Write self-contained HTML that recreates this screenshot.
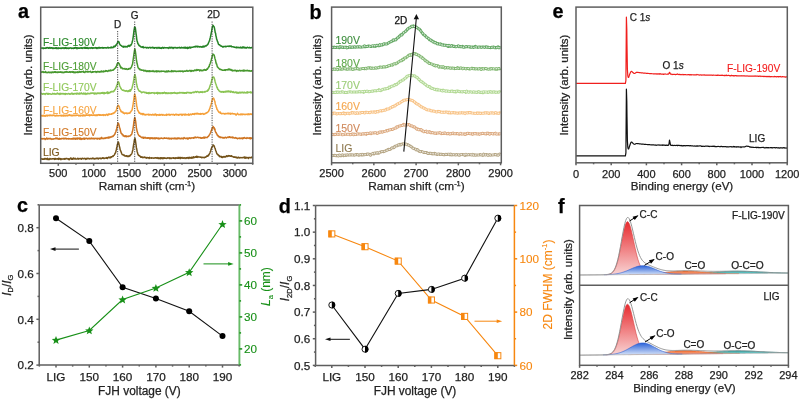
<!DOCTYPE html>
<html><head><meta charset="utf-8"><style>
html,body{margin:0;padding:0;background:#fff;}
svg{display:block;font-family:"Liberation Sans", sans-serif;will-change:transform;}
</style></head><body>
<svg width="800" height="399" viewBox="0 0 800 399">
<rect width="800" height="399" fill="#fff"/>
<g>
<path d="M40.63,48.19 L40.98,48.28 L41.34,48.10 L41.69,47.92 L42.04,48.05 L42.40,47.89 L42.75,48.20 L43.10,48.58 L43.46,48.03 L43.81,47.99 L44.16,48.33 L44.52,48.29 L44.87,48.21 L45.22,47.90 L45.58,48.17 L45.93,48.38 L46.28,47.77 L46.64,48.04 L46.99,47.60 L47.34,47.78 L47.70,47.62 L48.05,48.10 L48.40,47.79 L48.76,48.25 L49.11,48.21 L49.46,48.11 L49.82,47.41 L50.17,48.00 L50.53,48.15 L50.88,48.20 L51.23,47.70 L51.59,48.02 L51.94,47.87 L52.29,47.92 L52.65,48.48 L53.00,47.91 L53.35,48.15 L53.71,48.42 L54.06,47.98 L54.41,48.12 L54.77,48.18 L55.12,48.17 L55.47,47.78 L55.83,48.17 L56.18,48.56 L56.53,47.68 L56.89,48.40 L57.24,48.18 L57.59,47.95 L57.95,48.74 L58.30,48.37 L58.65,47.78 L59.01,48.16 L59.36,48.31 L59.71,48.08 L60.07,48.34 L60.42,48.12 L60.77,48.34 L61.13,48.57 L61.48,47.93 L61.83,48.19 L62.19,47.99 L62.54,48.17 L62.89,47.77 L63.25,47.95 L63.60,48.07 L63.95,48.40 L64.31,48.47 L64.66,47.73 L65.01,47.88 L65.37,48.32 L65.72,47.52 L66.07,47.98 L66.43,48.09 L66.78,48.50 L67.13,48.32 L67.49,48.02 L67.84,48.00 L68.20,48.04 L68.55,48.57 L68.90,47.98 L69.26,48.02 L69.61,48.22 L69.96,48.07 L70.32,48.05 L70.67,47.77 L71.02,48.10 L71.38,47.97 L71.73,48.45 L72.08,48.30 L72.44,48.09 L72.79,48.30 L73.14,48.00 L73.50,48.41 L73.85,48.09 L74.20,48.27 L74.56,47.71 L74.91,48.20 L75.26,47.59 L75.62,47.48 L75.97,48.00 L76.32,47.82 L76.68,48.14 L77.03,48.76 L77.38,47.84 L77.74,47.90 L78.09,48.14 L78.44,48.23 L78.80,48.03 L79.15,48.02 L79.50,48.29 L79.86,48.23 L80.21,47.76 L80.56,48.05 L80.92,48.08 L81.27,47.75 L81.62,48.15 L81.98,47.81 L82.33,48.36 L82.68,48.12 L83.04,48.09 L83.39,47.89 L83.74,48.03 L84.10,47.46 L84.45,47.72 L84.81,48.17 L85.16,47.42 L85.51,48.31 L85.87,47.53 L86.22,48.28 L86.57,47.80 L86.93,48.28 L87.28,48.09 L87.63,47.58 L87.99,48.42 L88.34,48.47 L88.69,48.02 L89.05,47.95 L89.40,47.99 L89.75,47.74 L90.11,48.36 L90.46,47.87 L90.81,48.01 L91.17,47.79 L91.52,47.83 L91.87,47.64 L92.23,48.39 L92.58,47.97 L92.93,48.30 L93.29,48.01 L93.64,47.80 L93.99,47.91 L94.35,47.83 L94.70,48.00 L95.05,47.88 L95.41,47.90 L95.76,47.57 L96.11,47.74 L96.47,48.48 L96.82,47.78 L97.17,47.66 L97.53,48.07 L97.88,48.39 L98.23,47.52 L98.59,47.89 L98.94,47.76 L99.29,47.41 L99.65,48.16 L100.00,47.92 L100.35,47.95 L100.71,47.69 L101.06,48.05 L101.41,47.74 L101.77,47.85 L102.12,47.56 L102.47,47.52 L102.83,48.27 L103.18,47.71 L103.54,47.94 L103.89,47.83 L104.24,47.70 L104.60,47.67 L104.95,48.00 L105.30,47.71 L105.66,47.74 L106.01,47.78 L106.36,48.11 L106.72,47.95 L107.07,47.84 L107.42,47.54 L107.78,47.28 L108.13,47.96 L108.48,47.94 L108.84,47.59 L109.19,47.77 L109.54,47.81 L109.90,47.80 L110.25,47.79 L110.60,47.35 L110.96,47.90 L111.31,47.03 L111.66,47.62 L112.02,47.46 L112.37,47.51 L112.72,47.75 L113.08,47.55 L113.43,46.67 L113.78,46.41 L114.14,47.03 L114.49,46.33 L114.84,46.44 L115.20,46.47 L115.55,45.43 L115.90,44.93 L116.26,45.17 L116.61,44.53 L116.96,43.74 L117.32,43.04 L117.67,42.02 L118.02,41.32 L118.38,41.66 L118.73,41.81 L119.08,42.30 L119.44,43.70 L119.79,44.23 L120.15,44.94 L120.50,44.98 L120.85,45.43 L121.21,45.60 L121.56,45.84 L121.91,46.33 L122.27,46.16 L122.62,46.60 L122.97,46.67 L123.33,47.23 L123.68,46.24 L124.03,46.96 L124.39,46.69 L124.74,46.72 L125.09,46.29 L125.45,46.59 L125.80,46.94 L126.15,46.67 L126.51,46.70 L126.86,46.55 L127.21,46.95 L127.57,46.55 L127.92,45.83 L128.27,46.21 L128.63,45.74 L128.98,45.26 L129.33,45.95 L129.69,46.35 L130.04,45.77 L130.39,45.15 L130.75,44.90 L131.10,45.08 L131.45,44.19 L131.81,43.34 L132.16,42.20 L132.51,40.78 L132.87,39.15 L133.22,36.80 L133.57,34.07 L133.93,30.90 L134.28,28.86 L134.63,26.89 L134.99,27.27 L135.34,27.94 L135.69,30.68 L136.05,33.51 L136.40,35.82 L136.75,39.11 L137.11,41.00 L137.46,41.97 L137.81,43.53 L138.17,44.30 L138.52,44.06 L138.88,45.41 L139.23,45.68 L139.58,46.01 L139.94,45.88 L140.29,46.31 L140.64,46.49 L141.00,47.03 L141.35,46.88 L141.70,46.88 L142.06,47.42 L142.41,46.87 L142.76,46.98 L143.12,46.61 L143.47,47.68 L143.82,47.55 L144.18,47.58 L144.53,47.54 L144.88,47.41 L145.24,47.47 L145.59,47.36 L145.94,47.40 L146.30,47.51 L146.65,47.97 L147.00,47.70 L147.36,47.54 L147.71,47.40 L148.06,47.40 L148.42,48.09 L148.77,47.77 L149.12,47.65 L149.48,47.54 L149.83,47.33 L150.18,47.65 L150.54,47.94 L150.89,47.57 L151.24,47.63 L151.60,47.64 L151.95,47.75 L152.30,47.24 L152.66,47.66 L153.01,47.48 L153.36,48.01 L153.72,47.52 L154.07,47.93 L154.42,48.21 L154.78,47.67 L155.13,47.59 L155.49,47.83 L155.84,47.77 L156.19,47.48 L156.55,47.92 L156.90,48.39 L157.25,47.71 L157.61,47.73 L157.96,47.48 L158.31,47.89 L158.67,47.42 L159.02,47.46 L159.37,48.18 L159.73,47.53 L160.08,48.12 L160.43,48.26 L160.79,47.88 L161.14,47.97 L161.49,48.39 L161.85,47.75 L162.20,47.63 L162.55,47.40 L162.91,47.82 L163.26,48.25 L163.61,48.09 L163.97,47.52 L164.32,47.55 L164.67,47.66 L165.03,47.89 L165.38,47.74 L165.73,47.87 L166.09,47.89 L166.44,47.72 L166.79,47.79 L167.15,47.87 L167.50,47.78 L167.85,47.95 L168.21,48.36 L168.56,47.98 L168.91,47.82 L169.27,47.29 L169.62,47.92 L169.97,47.21 L170.33,47.37 L170.68,48.05 L171.03,48.01 L171.39,47.75 L171.74,47.28 L172.09,47.68 L172.45,47.59 L172.80,47.98 L173.16,48.47 L173.51,47.85 L173.86,47.55 L174.22,47.43 L174.57,47.77 L174.92,47.73 L175.28,47.43 L175.63,47.81 L175.98,47.43 L176.34,48.11 L176.69,48.09 L177.04,48.10 L177.40,47.63 L177.75,47.92 L178.10,47.72 L178.46,47.64 L178.81,47.66 L179.16,47.37 L179.52,47.32 L179.87,47.99 L180.22,47.69 L180.58,47.81 L180.93,48.05 L181.28,47.22 L181.64,47.50 L181.99,47.79 L182.34,47.85 L182.70,47.62 L183.05,48.04 L183.40,47.79 L183.76,47.36 L184.11,47.44 L184.46,47.96 L184.82,47.85 L185.17,47.14 L185.52,48.11 L185.88,47.88 L186.23,48.10 L186.58,47.57 L186.94,47.59 L187.29,47.34 L187.64,48.43 L188.00,47.61 L188.35,48.13 L188.70,47.46 L189.06,47.69 L189.41,47.13 L189.76,47.50 L190.12,47.89 L190.47,47.20 L190.82,47.87 L191.18,47.62 L191.53,47.16 L191.89,47.28 L192.24,47.24 L192.59,47.31 L192.95,47.09 L193.30,46.93 L193.65,47.01 L194.01,46.72 L194.36,46.55 L194.71,46.85 L195.07,47.05 L195.42,46.25 L195.77,46.65 L196.13,46.40 L196.48,46.27 L196.83,46.79 L197.19,46.37 L197.54,46.98 L197.89,46.32 L198.25,46.69 L198.60,46.55 L198.95,46.43 L199.31,46.88 L199.66,46.70 L200.01,46.97 L200.37,46.81 L200.72,46.53 L201.07,46.84 L201.43,46.90 L201.78,47.17 L202.13,46.60 L202.49,46.84 L202.84,46.31 L203.19,46.98 L203.55,46.41 L203.90,46.12 L204.25,46.57 L204.61,46.83 L204.96,45.94 L205.31,45.95 L205.67,45.91 L206.02,45.62 L206.37,45.87 L206.73,45.27 L207.08,44.99 L207.43,45.01 L207.79,44.16 L208.14,43.97 L208.50,42.88 L208.85,42.02 L209.20,40.89 L209.56,40.89 L209.91,38.97 L210.26,37.71 L210.62,36.04 L210.97,34.38 L211.32,32.55 L211.68,31.30 L212.03,28.70 L212.38,27.04 L212.74,26.06 L213.09,25.31 L213.44,25.88 L213.80,26.43 L214.15,26.95 L214.50,28.26 L214.86,30.26 L215.21,32.58 L215.56,33.12 L215.92,35.86 L216.27,36.99 L216.62,39.09 L216.98,39.76 L217.33,41.13 L217.68,41.73 L218.04,42.71 L218.39,44.11 L218.74,44.51 L219.10,44.61 L219.45,44.85 L219.80,44.85 L220.16,45.56 L220.51,45.87 L220.86,46.03 L221.22,46.17 L221.57,45.98 L221.92,46.39 L222.28,46.48 L222.63,46.95 L222.98,47.17 L223.34,46.61 L223.69,46.44 L224.04,46.67 L224.40,46.51 L224.75,46.46 L225.10,46.65 L225.46,46.33 L225.81,46.79 L226.17,46.54 L226.52,46.61 L226.87,46.43 L227.23,46.23 L227.58,46.13 L227.93,46.31 L228.29,46.19 L228.64,46.41 L228.99,46.34 L229.35,45.94 L229.70,46.39 L230.05,46.00 L230.41,46.27 L230.76,46.42 L231.11,45.95 L231.47,46.68 L231.82,46.77 L232.17,46.76 L232.53,46.76 L232.88,46.86 L233.23,46.75 L233.59,47.04 L233.94,47.02 L234.29,47.27 L234.65,46.94 L235.00,47.42 L235.35,47.43 L235.71,47.38 L236.06,47.32 L236.41,47.64 L236.77,47.00 L237.12,47.65 L237.47,47.60 L237.83,47.62 L238.18,47.66 L238.53,47.36 L238.89,47.48 L239.24,47.76 L239.59,47.70 L239.95,47.64 L240.30,47.12 L240.65,47.74 L241.01,47.94 L241.36,47.89 L241.71,47.66 L242.07,47.13 L242.42,47.88 L242.77,47.55 L243.13,46.84 L243.48,47.71 L243.84,47.16 L244.19,47.22 L244.54,47.42 L244.90,47.99 L245.25,47.50 L245.60,47.69 L245.96,48.14 L246.31,48.09 L246.66,47.58 L247.02,47.54 L247.37,47.24 L247.72,47.41 L248.08,47.75 L248.43,47.74 L248.78,47.65 L249.14,47.92 L249.49,47.39 L249.84,47.61 L250.20,47.84 L250.55,47.80 L250.90,47.95 L251.26,47.74 L251.61,47.53 L251.96,47.74 L252.32,47.33 L252.67,47.14" fill="none" stroke="#258325" stroke-width="1.5" stroke-linejoin="round"/>
<path d="M40.63,72.46 L40.98,72.27 L41.34,72.37 L41.69,71.77 L42.04,72.17 L42.40,72.09 L42.75,72.01 L43.10,71.59 L43.46,72.17 L43.81,72.53 L44.16,72.37 L44.52,72.08 L44.87,72.25 L45.22,72.48 L45.58,71.42 L45.93,72.21 L46.28,72.41 L46.64,72.45 L46.99,72.75 L47.34,72.58 L47.70,72.33 L48.05,72.32 L48.40,72.47 L48.76,72.06 L49.11,72.21 L49.46,72.49 L49.82,72.81 L50.17,72.17 L50.53,72.20 L50.88,72.27 L51.23,72.61 L51.59,72.20 L51.94,72.64 L52.29,71.91 L52.65,72.14 L53.00,72.14 L53.35,72.43 L53.71,72.50 L54.06,71.73 L54.41,71.91 L54.77,72.28 L55.12,71.98 L55.47,71.72 L55.83,72.48 L56.18,72.32 L56.53,72.32 L56.89,72.02 L57.24,72.47 L57.59,72.09 L57.95,72.49 L58.30,71.88 L58.65,71.90 L59.01,72.21 L59.36,71.94 L59.71,72.35 L60.07,72.22 L60.42,71.86 L60.77,72.16 L61.13,72.03 L61.48,72.40 L61.83,71.94 L62.19,71.99 L62.54,72.49 L62.89,72.79 L63.25,72.72 L63.60,72.13 L63.95,72.18 L64.31,72.57 L64.66,72.07 L65.01,71.81 L65.37,72.13 L65.72,72.23 L66.07,71.85 L66.43,71.60 L66.78,71.66 L67.13,72.29 L67.49,71.86 L67.84,72.04 L68.20,72.14 L68.55,72.26 L68.90,71.97 L69.26,72.22 L69.61,71.80 L69.96,71.95 L70.32,71.75 L70.67,72.40 L71.02,72.05 L71.38,71.83 L71.73,71.94 L72.08,71.98 L72.44,72.25 L72.79,71.56 L73.14,71.73 L73.50,71.92 L73.85,72.79 L74.20,72.31 L74.56,71.99 L74.91,72.24 L75.26,72.64 L75.62,71.95 L75.97,71.90 L76.32,72.37 L76.68,72.16 L77.03,72.21 L77.38,71.85 L77.74,72.58 L78.09,72.51 L78.44,72.16 L78.80,72.19 L79.15,71.38 L79.50,72.17 L79.86,71.92 L80.21,72.11 L80.56,72.18 L80.92,71.87 L81.27,71.46 L81.62,72.07 L81.98,71.74 L82.33,71.86 L82.68,71.77 L83.04,71.85 L83.39,71.25 L83.74,72.31 L84.10,72.01 L84.45,72.27 L84.81,72.53 L85.16,71.93 L85.51,71.38 L85.87,71.65 L86.22,71.55 L86.57,71.76 L86.93,71.93 L87.28,71.30 L87.63,72.00 L87.99,71.44 L88.34,71.98 L88.69,71.85 L89.05,71.79 L89.40,71.86 L89.75,71.71 L90.11,71.68 L90.46,71.36 L90.81,71.85 L91.17,72.41 L91.52,72.44 L91.87,72.24 L92.23,72.05 L92.58,71.63 L92.93,72.26 L93.29,71.80 L93.64,71.79 L93.99,71.72 L94.35,71.82 L94.70,71.66 L95.05,71.76 L95.41,71.45 L95.76,71.65 L96.11,72.44 L96.47,71.73 L96.82,71.67 L97.17,71.89 L97.53,71.93 L97.88,71.37 L98.23,71.63 L98.59,71.96 L98.94,71.75 L99.29,71.69 L99.65,72.11 L100.00,71.43 L100.35,71.64 L100.71,71.44 L101.06,72.03 L101.41,70.98 L101.77,71.35 L102.12,71.37 L102.47,71.71 L102.83,71.67 L103.18,71.89 L103.54,70.97 L103.89,71.65 L104.24,71.31 L104.60,71.17 L104.95,71.50 L105.30,71.04 L105.66,70.66 L106.01,71.14 L106.36,70.77 L106.72,70.98 L107.07,71.25 L107.42,71.19 L107.78,71.53 L108.13,70.95 L108.48,70.50 L108.84,70.69 L109.19,70.58 L109.54,70.43 L109.90,70.87 L110.25,70.47 L110.60,70.00 L110.96,70.72 L111.31,70.39 L111.66,70.43 L112.02,70.25 L112.37,70.28 L112.72,69.97 L113.08,70.17 L113.43,69.75 L113.78,69.53 L114.14,69.30 L114.49,68.46 L114.84,68.51 L115.20,68.09 L115.55,67.76 L115.90,66.73 L116.26,66.97 L116.61,65.76 L116.96,64.55 L117.32,63.58 L117.67,63.31 L118.02,62.93 L118.38,62.67 L118.73,63.22 L119.08,63.59 L119.44,64.69 L119.79,65.06 L120.15,65.97 L120.50,66.89 L120.85,67.88 L121.21,67.23 L121.56,67.74 L121.91,67.91 L122.27,68.63 L122.62,68.23 L122.97,68.58 L123.33,68.84 L123.68,68.65 L124.03,68.73 L124.39,68.94 L124.74,68.50 L125.09,68.73 L125.45,69.06 L125.80,69.25 L126.15,69.15 L126.51,68.67 L126.86,69.05 L127.21,69.41 L127.57,69.30 L127.92,69.07 L128.27,68.77 L128.63,69.15 L128.98,68.70 L129.33,68.41 L129.69,68.38 L130.04,68.88 L130.39,68.27 L130.75,68.24 L131.10,67.32 L131.45,67.16 L131.81,65.89 L132.16,64.93 L132.51,64.28 L132.87,61.91 L133.22,59.26 L133.57,56.75 L133.93,54.09 L134.28,51.85 L134.63,49.74 L134.99,49.23 L135.34,51.06 L135.69,53.59 L136.05,56.44 L136.40,59.54 L136.75,61.65 L137.11,63.79 L137.46,64.79 L137.81,66.60 L138.17,67.88 L138.52,68.16 L138.88,68.51 L139.23,68.86 L139.58,69.66 L139.94,69.08 L140.29,69.53 L140.64,69.87 L141.00,70.10 L141.35,69.87 L141.70,70.20 L142.06,70.12 L142.41,70.33 L142.76,70.34 L143.12,70.11 L143.47,70.51 L143.82,70.84 L144.18,70.34 L144.53,70.61 L144.88,70.93 L145.24,70.45 L145.59,70.86 L145.94,70.53 L146.30,71.22 L146.65,71.61 L147.00,71.55 L147.36,70.91 L147.71,71.22 L148.06,71.06 L148.42,71.08 L148.77,71.53 L149.12,70.69 L149.48,71.42 L149.83,71.11 L150.18,71.56 L150.54,71.21 L150.89,70.97 L151.24,71.27 L151.60,71.42 L151.95,71.22 L152.30,71.37 L152.66,71.07 L153.01,70.60 L153.36,71.52 L153.72,71.47 L154.07,71.31 L154.42,71.29 L154.78,71.59 L155.13,71.15 L155.49,71.08 L155.84,71.24 L156.19,71.65 L156.55,70.89 L156.90,71.66 L157.25,71.12 L157.61,70.98 L157.96,71.69 L158.31,71.29 L158.67,70.93 L159.02,71.21 L159.37,71.60 L159.73,71.68 L160.08,71.20 L160.43,71.45 L160.79,71.54 L161.14,71.13 L161.49,71.43 L161.85,71.32 L162.20,71.16 L162.55,71.18 L162.91,71.34 L163.26,71.33 L163.61,71.15 L163.97,71.19 L164.32,71.66 L164.67,71.38 L165.03,71.58 L165.38,71.68 L165.73,71.49 L166.09,72.00 L166.44,71.07 L166.79,71.55 L167.15,71.21 L167.50,71.86 L167.85,71.82 L168.21,70.72 L168.56,71.01 L168.91,71.50 L169.27,71.54 L169.62,71.52 L169.97,71.27 L170.33,71.43 L170.68,71.49 L171.03,71.26 L171.39,71.59 L171.74,70.60 L172.09,71.47 L172.45,70.97 L172.80,71.56 L173.16,71.20 L173.51,71.00 L173.86,71.38 L174.22,70.99 L174.57,70.99 L174.92,70.79 L175.28,71.25 L175.63,71.40 L175.98,71.56 L176.34,71.20 L176.69,71.56 L177.04,71.25 L177.40,71.21 L177.75,71.41 L178.10,71.55 L178.46,71.12 L178.81,71.15 L179.16,71.17 L179.52,71.24 L179.87,70.94 L180.22,71.52 L180.58,71.09 L180.93,71.34 L181.28,70.95 L181.64,71.30 L181.99,71.31 L182.34,71.06 L182.70,71.79 L183.05,71.29 L183.40,71.71 L183.76,71.46 L184.11,70.97 L184.46,71.05 L184.82,71.29 L185.17,71.17 L185.52,71.16 L185.88,71.06 L186.23,70.59 L186.58,71.06 L186.94,70.46 L187.29,71.23 L187.64,70.90 L188.00,70.89 L188.35,71.03 L188.70,71.17 L189.06,70.65 L189.41,70.54 L189.76,70.73 L190.12,70.42 L190.47,70.72 L190.82,71.46 L191.18,70.64 L191.53,71.11 L191.89,70.46 L192.24,70.91 L192.59,70.66 L192.95,70.68 L193.30,70.79 L193.65,71.07 L194.01,70.52 L194.36,70.42 L194.71,70.01 L195.07,70.40 L195.42,70.08 L195.77,70.35 L196.13,70.03 L196.48,70.53 L196.83,69.40 L197.19,69.89 L197.54,70.25 L197.89,69.91 L198.25,69.80 L198.60,70.00 L198.95,69.71 L199.31,70.21 L199.66,70.96 L200.01,70.62 L200.37,69.98 L200.72,70.09 L201.07,70.26 L201.43,70.70 L201.78,70.16 L202.13,70.20 L202.49,70.66 L202.84,70.64 L203.19,70.24 L203.55,69.98 L203.90,69.80 L204.25,70.00 L204.61,69.47 L204.96,70.29 L205.31,69.78 L205.67,70.00 L206.02,70.29 L206.37,69.92 L206.73,69.04 L207.08,69.41 L207.43,69.22 L207.79,68.31 L208.14,67.83 L208.50,67.58 L208.85,66.53 L209.20,66.73 L209.56,64.74 L209.91,64.16 L210.26,63.33 L210.62,62.14 L210.97,60.96 L211.32,59.64 L211.68,58.12 L212.03,57.22 L212.38,55.10 L212.74,54.88 L213.09,54.17 L213.44,54.38 L213.80,54.81 L214.15,55.26 L214.50,56.43 L214.86,58.13 L215.21,59.36 L215.56,60.41 L215.92,62.54 L216.27,63.83 L216.62,63.81 L216.98,65.32 L217.33,66.83 L217.68,67.05 L218.04,67.50 L218.39,67.89 L218.74,68.21 L219.10,68.66 L219.45,68.85 L219.80,69.47 L220.16,69.32 L220.51,69.46 L220.86,69.36 L221.22,69.81 L221.57,69.64 L221.92,69.92 L222.28,70.34 L222.63,70.18 L222.98,70.25 L223.34,70.23 L223.69,70.15 L224.04,70.09 L224.40,70.03 L224.75,70.33 L225.10,69.75 L225.46,70.44 L225.81,70.00 L226.17,69.72 L226.52,69.75 L226.87,69.64 L227.23,69.84 L227.58,69.53 L227.93,70.05 L228.29,69.44 L228.64,68.98 L228.99,69.43 L229.35,69.05 L229.70,69.66 L230.05,70.02 L230.41,69.94 L230.76,69.39 L231.11,69.63 L231.47,70.46 L231.82,70.09 L232.17,70.08 L232.53,70.47 L232.88,70.96 L233.23,70.69 L233.59,70.41 L233.94,70.54 L234.29,70.67 L234.65,70.35 L235.00,70.26 L235.35,70.63 L235.71,70.37 L236.06,70.66 L236.41,70.73 L236.77,71.42 L237.12,70.47 L237.47,70.70 L237.83,70.70 L238.18,70.89 L238.53,71.07 L238.89,70.62 L239.24,70.52 L239.59,70.28 L239.95,70.49 L240.30,70.93 L240.65,70.79 L241.01,70.47 L241.36,70.66 L241.71,70.78 L242.07,70.92 L242.42,70.59 L242.77,70.70 L243.13,70.23 L243.48,70.43 L243.84,71.26 L244.19,70.11 L244.54,70.67 L244.90,70.84 L245.25,70.66 L245.60,70.53 L245.96,70.75 L246.31,70.76 L246.66,70.74 L247.02,70.20 L247.37,70.72 L247.72,70.51 L248.08,70.60 L248.43,70.83 L248.78,70.95 L249.14,71.03 L249.49,70.61 L249.84,71.03 L250.20,71.11 L250.55,71.09 L250.90,71.17 L251.26,70.71 L251.61,70.70 L251.96,70.99 L252.32,70.33 L252.67,70.81" fill="none" stroke="#48982f" stroke-width="1.5" stroke-linejoin="round"/>
<path d="M40.63,93.73 L40.98,93.77 L41.34,93.36 L41.69,93.61 L42.04,93.87 L42.40,94.14 L42.75,94.17 L43.10,93.85 L43.46,93.81 L43.81,93.62 L44.16,93.98 L44.52,93.79 L44.87,94.04 L45.22,94.38 L45.58,93.84 L45.93,93.40 L46.28,93.59 L46.64,93.41 L46.99,93.49 L47.34,94.23 L47.70,93.91 L48.05,93.38 L48.40,94.03 L48.76,94.21 L49.11,93.72 L49.46,93.63 L49.82,93.73 L50.17,93.91 L50.53,94.01 L50.88,94.17 L51.23,94.18 L51.59,94.17 L51.94,94.22 L52.29,94.01 L52.65,93.35 L53.00,93.77 L53.35,93.90 L53.71,93.69 L54.06,94.07 L54.41,93.69 L54.77,93.52 L55.12,94.23 L55.47,93.99 L55.83,93.85 L56.18,94.06 L56.53,94.10 L56.89,93.88 L57.24,93.04 L57.59,93.57 L57.95,93.64 L58.30,93.48 L58.65,93.83 L59.01,94.12 L59.36,93.62 L59.71,93.42 L60.07,94.37 L60.42,93.62 L60.77,93.38 L61.13,93.82 L61.48,93.88 L61.83,93.53 L62.19,93.98 L62.54,93.60 L62.89,93.46 L63.25,93.79 L63.60,93.97 L63.95,93.54 L64.31,93.83 L64.66,93.70 L65.01,94.57 L65.37,93.51 L65.72,94.13 L66.07,93.70 L66.43,93.68 L66.78,93.93 L67.13,93.98 L67.49,94.09 L67.84,93.80 L68.20,93.52 L68.55,93.54 L68.90,93.85 L69.26,93.87 L69.61,94.11 L69.96,93.82 L70.32,94.01 L70.67,94.14 L71.02,93.73 L71.38,93.23 L71.73,93.32 L72.08,93.24 L72.44,94.15 L72.79,93.41 L73.14,94.04 L73.50,93.84 L73.85,94.18 L74.20,93.96 L74.56,93.62 L74.91,93.59 L75.26,93.68 L75.62,93.70 L75.97,93.49 L76.32,93.63 L76.68,94.12 L77.03,93.13 L77.38,93.71 L77.74,93.36 L78.09,93.68 L78.44,93.88 L78.80,93.61 L79.15,93.85 L79.50,93.14 L79.86,93.95 L80.21,93.43 L80.56,93.79 L80.92,93.66 L81.27,92.83 L81.62,93.37 L81.98,93.66 L82.33,94.06 L82.68,93.68 L83.04,93.66 L83.39,93.16 L83.74,94.01 L84.10,94.12 L84.45,93.58 L84.81,93.50 L85.16,93.08 L85.51,93.83 L85.87,94.37 L86.22,93.77 L86.57,93.93 L86.93,93.71 L87.28,93.25 L87.63,93.94 L87.99,93.17 L88.34,93.47 L88.69,93.61 L89.05,93.79 L89.40,93.65 L89.75,93.63 L90.11,93.28 L90.46,93.12 L90.81,93.52 L91.17,93.28 L91.52,93.10 L91.87,93.11 L92.23,93.33 L92.58,92.92 L92.93,93.07 L93.29,92.97 L93.64,93.51 L93.99,93.57 L94.35,94.05 L94.70,92.99 L95.05,93.23 L95.41,93.70 L95.76,93.35 L96.11,93.31 L96.47,93.91 L96.82,93.29 L97.17,93.03 L97.53,92.97 L97.88,93.46 L98.23,93.44 L98.59,92.93 L98.94,93.03 L99.29,93.47 L99.65,93.47 L100.00,93.09 L100.35,93.46 L100.71,93.43 L101.06,92.71 L101.41,93.13 L101.77,93.33 L102.12,93.02 L102.47,92.53 L102.83,93.07 L103.18,93.36 L103.54,93.58 L103.89,92.43 L104.24,93.84 L104.60,92.70 L104.95,93.29 L105.30,93.35 L105.66,93.24 L106.01,92.96 L106.36,92.53 L106.72,93.03 L107.07,92.59 L107.42,92.01 L107.78,93.57 L108.13,92.89 L108.48,93.18 L108.84,92.30 L109.19,92.96 L109.54,92.93 L109.90,92.86 L110.25,92.31 L110.60,91.88 L110.96,92.10 L111.31,91.39 L111.66,91.43 L112.02,91.85 L112.37,91.39 L112.72,91.48 L113.08,91.32 L113.43,91.72 L113.78,91.29 L114.14,90.60 L114.49,90.64 L114.84,89.63 L115.20,89.27 L115.55,89.05 L115.90,87.68 L116.26,87.10 L116.61,85.76 L116.96,85.06 L117.32,84.34 L117.67,82.61 L118.02,82.25 L118.38,81.83 L118.73,82.24 L119.08,83.13 L119.44,85.03 L119.79,86.40 L120.15,86.83 L120.50,87.32 L120.85,88.44 L121.21,88.70 L121.56,89.49 L121.91,89.71 L122.27,90.01 L122.62,90.35 L122.97,90.19 L123.33,90.40 L123.68,90.14 L124.03,90.63 L124.39,90.42 L124.74,90.87 L125.09,90.68 L125.45,91.04 L125.80,91.18 L126.15,90.64 L126.51,90.83 L126.86,90.80 L127.21,91.30 L127.57,91.57 L127.92,91.28 L128.27,90.88 L128.63,91.38 L128.98,90.41 L129.33,91.23 L129.69,90.47 L130.04,89.68 L130.39,91.12 L130.75,90.54 L131.10,89.40 L131.45,89.26 L131.81,88.47 L132.16,87.64 L132.51,85.94 L132.87,84.62 L133.22,83.04 L133.57,80.74 L133.93,78.68 L134.28,76.22 L134.63,75.54 L134.99,74.51 L135.34,75.99 L135.69,77.41 L136.05,80.00 L136.40,83.10 L136.75,84.46 L137.11,86.59 L137.46,87.75 L137.81,88.48 L138.17,89.46 L138.52,89.99 L138.88,90.43 L139.23,91.13 L139.58,91.35 L139.94,91.19 L140.29,91.26 L140.64,91.76 L141.00,91.77 L141.35,92.21 L141.70,92.80 L142.06,92.34 L142.41,92.15 L142.76,92.18 L143.12,92.03 L143.47,92.08 L143.82,92.10 L144.18,92.33 L144.53,92.36 L144.88,92.75 L145.24,92.45 L145.59,92.54 L145.94,92.27 L146.30,93.16 L146.65,92.84 L147.00,93.25 L147.36,92.98 L147.71,93.21 L148.06,92.71 L148.42,93.02 L148.77,93.64 L149.12,92.47 L149.48,93.21 L149.83,93.38 L150.18,93.01 L150.54,93.13 L150.89,93.30 L151.24,92.72 L151.60,93.06 L151.95,92.68 L152.30,92.75 L152.66,92.78 L153.01,92.93 L153.36,93.03 L153.72,93.13 L154.07,92.56 L154.42,93.61 L154.78,93.36 L155.13,93.23 L155.49,92.91 L155.84,92.99 L156.19,93.19 L156.55,93.15 L156.90,92.51 L157.25,93.26 L157.61,93.93 L157.96,92.47 L158.31,93.35 L158.67,93.16 L159.02,93.01 L159.37,93.47 L159.73,92.68 L160.08,93.10 L160.43,93.50 L160.79,92.99 L161.14,92.92 L161.49,93.08 L161.85,92.91 L162.20,93.52 L162.55,92.77 L162.91,93.32 L163.26,92.66 L163.61,93.25 L163.97,93.01 L164.32,92.25 L164.67,93.04 L165.03,92.71 L165.38,92.90 L165.73,93.52 L166.09,92.69 L166.44,92.71 L166.79,93.48 L167.15,93.07 L167.50,93.51 L167.85,93.13 L168.21,92.76 L168.56,93.01 L168.91,93.41 L169.27,93.32 L169.62,93.02 L169.97,93.04 L170.33,92.98 L170.68,92.84 L171.03,93.61 L171.39,93.02 L171.74,92.66 L172.09,92.86 L172.45,93.23 L172.80,93.20 L173.16,92.96 L173.51,92.79 L173.86,93.00 L174.22,92.48 L174.57,92.59 L174.92,93.24 L175.28,92.84 L175.63,93.10 L175.98,93.36 L176.34,93.18 L176.69,92.98 L177.04,93.63 L177.40,93.18 L177.75,92.86 L178.10,93.19 L178.46,93.09 L178.81,92.70 L179.16,92.98 L179.52,92.90 L179.87,92.34 L180.22,92.89 L180.58,92.86 L180.93,92.81 L181.28,92.43 L181.64,92.82 L181.99,92.92 L182.34,92.96 L182.70,92.57 L183.05,93.11 L183.40,92.54 L183.76,92.84 L184.11,93.31 L184.46,92.69 L184.82,92.74 L185.17,93.23 L185.52,92.77 L185.88,92.80 L186.23,92.95 L186.58,93.20 L186.94,92.19 L187.29,92.61 L187.64,92.55 L188.00,92.52 L188.35,92.58 L188.70,92.58 L189.06,92.92 L189.41,92.54 L189.76,92.84 L190.12,92.91 L190.47,92.54 L190.82,92.78 L191.18,93.21 L191.53,92.77 L191.89,92.43 L192.24,92.55 L192.59,92.23 L192.95,92.53 L193.30,92.64 L193.65,92.05 L194.01,92.16 L194.36,92.48 L194.71,91.91 L195.07,92.05 L195.42,91.61 L195.77,91.61 L196.13,91.65 L196.48,92.43 L196.83,91.63 L197.19,91.59 L197.54,91.59 L197.89,91.73 L198.25,92.01 L198.60,91.91 L198.95,92.52 L199.31,92.01 L199.66,92.44 L200.01,92.13 L200.37,92.27 L200.72,91.70 L201.07,92.12 L201.43,92.16 L201.78,92.12 L202.13,91.55 L202.49,92.45 L202.84,92.06 L203.19,92.02 L203.55,92.04 L203.90,92.00 L204.25,92.14 L204.61,91.57 L204.96,91.60 L205.31,91.88 L205.67,91.74 L206.02,91.46 L206.37,91.25 L206.73,91.00 L207.08,91.01 L207.43,91.12 L207.79,90.13 L208.14,90.51 L208.50,89.84 L208.85,88.88 L209.20,88.58 L209.56,87.13 L209.91,86.14 L210.26,85.26 L210.62,84.40 L210.97,83.21 L211.32,81.87 L211.68,80.78 L212.03,78.88 L212.38,78.60 L212.74,77.22 L213.09,76.98 L213.44,77.01 L213.80,77.17 L214.15,77.85 L214.50,78.98 L214.86,80.47 L215.21,81.93 L215.56,83.20 L215.92,83.95 L216.27,85.16 L216.62,86.15 L216.98,87.49 L217.33,87.54 L217.68,89.21 L218.04,89.28 L218.39,89.67 L218.74,90.41 L219.10,90.95 L219.45,91.01 L219.80,91.44 L220.16,91.34 L220.51,91.82 L220.86,91.94 L221.22,91.63 L221.57,92.17 L221.92,91.86 L222.28,91.88 L222.63,91.62 L222.98,91.84 L223.34,92.17 L223.69,91.55 L224.04,92.14 L224.40,92.04 L224.75,91.99 L225.10,91.22 L225.46,91.81 L225.81,91.99 L226.17,91.52 L226.52,91.72 L226.87,90.93 L227.23,91.80 L227.58,91.35 L227.93,91.77 L228.29,90.93 L228.64,91.66 L228.99,91.38 L229.35,91.69 L229.70,91.19 L230.05,91.31 L230.41,92.21 L230.76,91.34 L231.11,91.44 L231.47,91.64 L231.82,91.49 L232.17,92.23 L232.53,92.46 L232.88,91.81 L233.23,91.58 L233.59,92.51 L233.94,92.56 L234.29,92.53 L234.65,92.68 L235.00,92.11 L235.35,92.36 L235.71,92.03 L236.06,92.04 L236.41,92.79 L236.77,92.31 L237.12,93.21 L237.47,92.56 L237.83,92.35 L238.18,92.79 L238.53,93.09 L238.89,92.70 L239.24,92.20 L239.59,92.67 L239.95,92.98 L240.30,92.42 L240.65,92.33 L241.01,92.87 L241.36,92.61 L241.71,92.24 L242.07,92.45 L242.42,92.34 L242.77,92.66 L243.13,92.60 L243.48,92.91 L243.84,92.78 L244.19,92.10 L244.54,92.69 L244.90,92.84 L245.25,92.70 L245.60,92.88 L245.96,92.40 L246.31,92.28 L246.66,92.84 L247.02,92.24 L247.37,91.91 L247.72,92.87 L248.08,92.34 L248.43,92.47 L248.78,92.14 L249.14,92.16 L249.49,92.21 L249.84,92.45 L250.20,92.67 L250.55,91.86 L250.90,92.78 L251.26,92.20 L251.61,92.23 L251.96,92.75 L252.32,92.53 L252.67,92.09" fill="none" stroke="#8bc454" stroke-width="1.5" stroke-linejoin="round"/>
<path d="M40.63,116.14 L40.98,115.33 L41.34,115.66 L41.69,115.64 L42.04,116.00 L42.40,115.44 L42.75,115.88 L43.10,115.35 L43.46,115.91 L43.81,115.34 L44.16,115.46 L44.52,116.13 L44.87,115.66 L45.22,115.59 L45.58,116.23 L45.93,115.66 L46.28,115.31 L46.64,115.77 L46.99,115.19 L47.34,115.89 L47.70,115.91 L48.05,115.37 L48.40,115.35 L48.76,115.59 L49.11,115.54 L49.46,115.24 L49.82,115.70 L50.17,114.92 L50.53,115.40 L50.88,115.40 L51.23,115.44 L51.59,115.61 L51.94,115.15 L52.29,115.69 L52.65,115.46 L53.00,115.32 L53.35,115.10 L53.71,115.15 L54.06,115.61 L54.41,115.21 L54.77,115.52 L55.12,115.82 L55.47,115.81 L55.83,115.96 L56.18,115.40 L56.53,115.17 L56.89,115.80 L57.24,115.58 L57.59,115.82 L57.95,115.49 L58.30,115.84 L58.65,115.73 L59.01,115.69 L59.36,115.62 L59.71,115.59 L60.07,115.54 L60.42,115.53 L60.77,115.76 L61.13,115.31 L61.48,115.98 L61.83,115.43 L62.19,115.75 L62.54,115.43 L62.89,115.38 L63.25,116.06 L63.60,115.35 L63.95,115.06 L64.31,115.23 L64.66,115.35 L65.01,116.08 L65.37,115.50 L65.72,115.71 L66.07,115.13 L66.43,115.53 L66.78,115.63 L67.13,115.96 L67.49,115.21 L67.84,115.60 L68.20,115.51 L68.55,115.11 L68.90,115.41 L69.26,115.33 L69.61,114.71 L69.96,115.59 L70.32,115.57 L70.67,115.27 L71.02,115.00 L71.38,115.84 L71.73,115.47 L72.08,115.70 L72.44,115.81 L72.79,115.23 L73.14,115.63 L73.50,115.31 L73.85,115.36 L74.20,115.35 L74.56,115.37 L74.91,115.71 L75.26,115.41 L75.62,115.32 L75.97,115.28 L76.32,115.46 L76.68,115.09 L77.03,115.21 L77.38,115.34 L77.74,115.18 L78.09,115.31 L78.44,115.16 L78.80,115.95 L79.15,115.74 L79.50,115.47 L79.86,115.32 L80.21,115.99 L80.56,115.43 L80.92,115.30 L81.27,115.42 L81.62,115.41 L81.98,115.74 L82.33,115.31 L82.68,115.94 L83.04,115.05 L83.39,115.52 L83.74,115.01 L84.10,115.85 L84.45,115.20 L84.81,115.28 L85.16,115.57 L85.51,115.67 L85.87,114.95 L86.22,115.18 L86.57,114.86 L86.93,115.32 L87.28,115.24 L87.63,115.17 L87.99,115.06 L88.34,115.15 L88.69,115.04 L89.05,115.42 L89.40,115.71 L89.75,114.67 L90.11,115.21 L90.46,115.12 L90.81,115.39 L91.17,114.95 L91.52,115.18 L91.87,114.91 L92.23,115.43 L92.58,115.24 L92.93,115.16 L93.29,115.32 L93.64,115.13 L93.99,114.73 L94.35,115.37 L94.70,115.27 L95.05,115.13 L95.41,115.47 L95.76,115.53 L96.11,114.83 L96.47,114.92 L96.82,115.61 L97.17,115.56 L97.53,114.91 L97.88,114.77 L98.23,114.92 L98.59,114.95 L98.94,114.62 L99.29,115.09 L99.65,114.69 L100.00,114.70 L100.35,115.33 L100.71,114.84 L101.06,115.01 L101.41,115.21 L101.77,115.25 L102.12,114.89 L102.47,114.99 L102.83,114.71 L103.18,115.47 L103.54,115.12 L103.89,114.58 L104.24,114.89 L104.60,115.08 L104.95,114.99 L105.30,115.38 L105.66,115.22 L106.01,114.62 L106.36,114.73 L106.72,114.34 L107.07,114.77 L107.42,114.71 L107.78,115.44 L108.13,114.63 L108.48,113.93 L108.84,114.32 L109.19,114.51 L109.54,114.05 L109.90,114.11 L110.25,114.21 L110.60,114.35 L110.96,114.13 L111.31,113.84 L111.66,114.25 L112.02,113.76 L112.37,113.66 L112.72,113.27 L113.08,113.30 L113.43,113.56 L113.78,112.68 L114.14,112.91 L114.49,112.86 L114.84,112.19 L115.20,111.96 L115.55,111.04 L115.90,111.14 L116.26,110.31 L116.61,109.13 L116.96,107.48 L117.32,106.59 L117.67,106.21 L118.02,105.80 L118.38,105.30 L118.73,106.07 L119.08,106.41 L119.44,107.58 L119.79,108.67 L120.15,109.70 L120.50,109.87 L120.85,111.22 L121.21,111.83 L121.56,111.48 L121.91,111.73 L122.27,112.49 L122.62,112.39 L122.97,112.04 L123.33,113.12 L123.68,113.03 L124.03,112.92 L124.39,113.77 L124.74,113.22 L125.09,112.99 L125.45,113.28 L125.80,112.95 L126.15,113.04 L126.51,113.38 L126.86,113.09 L127.21,113.10 L127.57,113.70 L127.92,113.42 L128.27,113.34 L128.63,113.19 L128.98,113.09 L129.33,113.27 L129.69,112.69 L130.04,113.07 L130.39,112.00 L130.75,111.90 L131.10,111.15 L131.45,110.90 L131.81,110.38 L132.16,109.60 L132.51,107.58 L132.87,106.00 L133.22,103.71 L133.57,101.07 L133.93,98.27 L134.28,96.24 L134.63,94.16 L134.99,94.57 L135.34,95.87 L135.69,97.99 L136.05,100.58 L136.40,103.07 L136.75,106.34 L137.11,107.27 L137.46,109.64 L137.81,110.50 L138.17,111.08 L138.52,111.48 L138.88,112.61 L139.23,113.18 L139.58,112.66 L139.94,113.07 L140.29,113.65 L140.64,113.59 L141.00,114.22 L141.35,113.56 L141.70,113.99 L142.06,113.54 L142.41,114.62 L142.76,113.84 L143.12,113.46 L143.47,114.14 L143.82,114.18 L144.18,114.84 L144.53,114.21 L144.88,114.35 L145.24,114.56 L145.59,114.89 L145.94,114.43 L146.30,114.78 L146.65,114.65 L147.00,114.43 L147.36,114.57 L147.71,114.57 L148.06,114.31 L148.42,114.96 L148.77,114.20 L149.12,114.98 L149.48,114.93 L149.83,114.63 L150.18,114.44 L150.54,114.61 L150.89,114.83 L151.24,114.93 L151.60,114.80 L151.95,115.02 L152.30,114.56 L152.66,114.81 L153.01,114.27 L153.36,114.98 L153.72,114.80 L154.07,114.64 L154.42,115.11 L154.78,114.98 L155.13,113.93 L155.49,114.79 L155.84,114.35 L156.19,115.11 L156.55,115.54 L156.90,114.64 L157.25,114.82 L157.61,114.72 L157.96,114.90 L158.31,114.99 L158.67,115.19 L159.02,114.51 L159.37,115.27 L159.73,114.52 L160.08,114.89 L160.43,115.15 L160.79,115.02 L161.14,114.52 L161.49,114.59 L161.85,114.67 L162.20,114.79 L162.55,115.15 L162.91,114.42 L163.26,114.94 L163.61,114.99 L163.97,114.97 L164.32,114.94 L164.67,115.26 L165.03,114.95 L165.38,115.06 L165.73,114.97 L166.09,115.33 L166.44,114.23 L166.79,115.18 L167.15,114.71 L167.50,114.71 L167.85,114.50 L168.21,114.23 L168.56,114.67 L168.91,114.58 L169.27,114.93 L169.62,114.34 L169.97,115.21 L170.33,114.86 L170.68,114.70 L171.03,114.56 L171.39,114.54 L171.74,114.43 L172.09,114.61 L172.45,114.77 L172.80,114.71 L173.16,114.34 L173.51,114.68 L173.86,114.49 L174.22,114.80 L174.57,115.31 L174.92,114.94 L175.28,114.65 L175.63,114.26 L175.98,114.32 L176.34,114.24 L176.69,114.96 L177.04,114.51 L177.40,114.75 L177.75,114.54 L178.10,114.76 L178.46,115.15 L178.81,114.52 L179.16,114.62 L179.52,114.47 L179.87,114.98 L180.22,114.40 L180.58,114.37 L180.93,114.29 L181.28,114.28 L181.64,114.84 L181.99,115.46 L182.34,114.39 L182.70,114.97 L183.05,114.76 L183.40,114.35 L183.76,114.59 L184.11,114.60 L184.46,114.46 L184.82,115.24 L185.17,114.09 L185.52,114.77 L185.88,114.75 L186.23,114.47 L186.58,114.69 L186.94,114.90 L187.29,114.68 L187.64,114.75 L188.00,114.83 L188.35,114.00 L188.70,115.05 L189.06,115.28 L189.41,114.88 L189.76,114.87 L190.12,114.13 L190.47,114.49 L190.82,114.26 L191.18,114.29 L191.53,114.72 L191.89,114.15 L192.24,114.30 L192.59,113.71 L192.95,114.17 L193.30,114.17 L193.65,113.86 L194.01,113.77 L194.36,114.47 L194.71,113.46 L195.07,113.44 L195.42,113.44 L195.77,113.98 L196.13,114.20 L196.48,113.64 L196.83,113.30 L197.19,113.38 L197.54,113.84 L197.89,113.27 L198.25,114.01 L198.60,114.04 L198.95,113.68 L199.31,113.90 L199.66,113.98 L200.01,114.27 L200.37,113.53 L200.72,114.24 L201.07,113.80 L201.43,113.71 L201.78,113.98 L202.13,113.88 L202.49,113.64 L202.84,113.44 L203.19,113.61 L203.55,114.29 L203.90,114.40 L204.25,113.95 L204.61,114.05 L204.96,113.46 L205.31,113.50 L205.67,113.50 L206.02,112.97 L206.37,112.84 L206.73,112.98 L207.08,112.63 L207.43,112.14 L207.79,112.24 L208.14,111.64 L208.50,111.53 L208.85,110.63 L209.20,109.84 L209.56,109.15 L209.91,108.12 L210.26,106.91 L210.62,105.82 L210.97,104.90 L211.32,103.54 L211.68,102.39 L212.03,100.22 L212.38,99.49 L212.74,98.64 L213.09,98.34 L213.44,98.10 L213.80,98.48 L214.15,99.64 L214.50,100.53 L214.86,101.37 L215.21,103.45 L215.56,104.68 L215.92,105.49 L216.27,107.11 L216.62,107.72 L216.98,109.24 L217.33,109.67 L217.68,110.21 L218.04,110.95 L218.39,111.34 L218.74,112.04 L219.10,112.38 L219.45,112.62 L219.80,112.67 L220.16,111.93 L220.51,113.20 L220.86,112.73 L221.22,113.48 L221.57,113.83 L221.92,113.64 L222.28,113.50 L222.63,113.60 L222.98,113.65 L223.34,113.55 L223.69,113.55 L224.04,113.45 L224.40,114.08 L224.75,113.70 L225.10,113.97 L225.46,113.58 L225.81,113.64 L226.17,113.52 L226.52,113.67 L226.87,113.74 L227.23,113.52 L227.58,113.20 L227.93,113.14 L228.29,113.84 L228.64,113.25 L228.99,113.24 L229.35,113.77 L229.70,113.67 L230.05,113.53 L230.41,113.29 L230.76,114.17 L231.11,113.63 L231.47,113.74 L231.82,113.59 L232.17,113.29 L232.53,113.38 L232.88,113.98 L233.23,114.04 L233.59,113.91 L233.94,113.69 L234.29,113.66 L234.65,114.04 L235.00,113.74 L235.35,114.48 L235.71,114.59 L236.06,115.11 L236.41,114.55 L236.77,114.12 L237.12,114.05 L237.47,113.29 L237.83,114.15 L238.18,114.29 L238.53,114.63 L238.89,114.53 L239.24,114.53 L239.59,114.42 L239.95,114.55 L240.30,114.79 L240.65,114.04 L241.01,114.22 L241.36,113.94 L241.71,114.85 L242.07,114.75 L242.42,114.59 L242.77,114.00 L243.13,114.41 L243.48,114.29 L243.84,114.38 L244.19,114.30 L244.54,114.52 L244.90,114.24 L245.25,114.62 L245.60,114.43 L245.96,114.27 L246.31,114.33 L246.66,114.23 L247.02,114.60 L247.37,114.28 L247.72,114.45 L248.08,114.24 L248.43,113.91 L248.78,114.63 L249.14,114.04 L249.49,114.56 L249.84,114.48 L250.20,113.85 L250.55,114.07 L250.90,114.20 L251.26,114.10 L251.61,113.99 L251.96,114.57 L252.32,114.27 L252.67,114.46" fill="none" stroke="#f5a03a" stroke-width="1.5" stroke-linejoin="round"/>
<path d="M40.63,138.65 L40.98,138.87 L41.34,138.56 L41.69,138.77 L42.04,138.95 L42.40,138.79 L42.75,138.64 L43.10,138.45 L43.46,138.83 L43.81,138.88 L44.16,138.70 L44.52,138.54 L44.87,138.93 L45.22,139.52 L45.58,138.68 L45.93,138.87 L46.28,138.88 L46.64,138.00 L46.99,138.80 L47.34,138.55 L47.70,139.18 L48.05,138.69 L48.40,138.53 L48.76,138.70 L49.11,138.81 L49.46,138.59 L49.82,138.74 L50.17,138.35 L50.53,138.69 L50.88,138.99 L51.23,139.34 L51.59,138.96 L51.94,138.83 L52.29,139.11 L52.65,139.06 L53.00,139.25 L53.35,139.07 L53.71,138.71 L54.06,138.82 L54.41,138.80 L54.77,138.83 L55.12,138.80 L55.47,138.51 L55.83,138.11 L56.18,138.54 L56.53,138.13 L56.89,138.76 L57.24,138.74 L57.59,138.23 L57.95,138.94 L58.30,138.99 L58.65,138.76 L59.01,139.23 L59.36,139.29 L59.71,138.37 L60.07,139.04 L60.42,138.86 L60.77,138.85 L61.13,139.00 L61.48,138.51 L61.83,138.54 L62.19,138.47 L62.54,138.49 L62.89,138.69 L63.25,138.28 L63.60,138.40 L63.95,138.89 L64.31,138.69 L64.66,138.83 L65.01,138.14 L65.37,138.47 L65.72,138.54 L66.07,138.72 L66.43,138.53 L66.78,138.98 L67.13,138.69 L67.49,138.71 L67.84,138.70 L68.20,138.91 L68.55,138.56 L68.90,139.03 L69.26,138.83 L69.61,138.74 L69.96,138.71 L70.32,138.85 L70.67,138.99 L71.02,138.97 L71.38,138.80 L71.73,138.95 L72.08,138.72 L72.44,139.06 L72.79,138.67 L73.14,138.06 L73.50,139.08 L73.85,138.71 L74.20,138.32 L74.56,138.62 L74.91,138.41 L75.26,139.30 L75.62,138.82 L75.97,138.20 L76.32,138.83 L76.68,138.55 L77.03,139.24 L77.38,138.35 L77.74,137.99 L78.09,138.68 L78.44,138.55 L78.80,138.53 L79.15,138.01 L79.50,138.78 L79.86,139.15 L80.21,138.08 L80.56,139.00 L80.92,138.47 L81.27,139.35 L81.62,138.77 L81.98,138.58 L82.33,138.97 L82.68,138.79 L83.04,138.45 L83.39,138.84 L83.74,138.48 L84.10,138.09 L84.45,139.23 L84.81,138.52 L85.16,138.44 L85.51,138.72 L85.87,138.15 L86.22,138.21 L86.57,138.46 L86.93,138.45 L87.28,138.62 L87.63,138.94 L87.99,138.46 L88.34,138.74 L88.69,138.77 L89.05,138.26 L89.40,138.65 L89.75,138.30 L90.11,138.90 L90.46,138.71 L90.81,138.57 L91.17,138.16 L91.52,138.60 L91.87,138.33 L92.23,138.76 L92.58,138.51 L92.93,138.30 L93.29,138.81 L93.64,138.75 L93.99,138.35 L94.35,138.87 L94.70,138.42 L95.05,138.41 L95.41,138.54 L95.76,138.27 L96.11,138.35 L96.47,138.43 L96.82,138.93 L97.17,138.91 L97.53,138.37 L97.88,138.92 L98.23,138.42 L98.59,138.53 L98.94,138.67 L99.29,138.48 L99.65,139.11 L100.00,138.44 L100.35,138.00 L100.71,138.73 L101.06,138.20 L101.41,138.22 L101.77,137.40 L102.12,138.58 L102.47,138.50 L102.83,138.48 L103.18,138.51 L103.54,138.70 L103.89,138.15 L104.24,138.42 L104.60,137.89 L104.95,137.98 L105.30,138.37 L105.66,138.14 L106.01,137.59 L106.36,138.06 L106.72,137.86 L107.07,137.63 L107.42,137.96 L107.78,137.66 L108.13,137.25 L108.48,137.33 L108.84,138.14 L109.19,137.08 L109.54,137.53 L109.90,137.57 L110.25,137.49 L110.60,136.83 L110.96,136.99 L111.31,137.01 L111.66,137.07 L112.02,136.48 L112.37,136.15 L112.72,136.59 L113.08,136.39 L113.43,135.89 L113.78,135.27 L114.14,135.19 L114.49,134.64 L114.84,134.31 L115.20,133.00 L115.55,132.59 L115.90,131.51 L116.26,130.02 L116.61,129.01 L116.96,127.37 L117.32,125.62 L117.67,124.44 L118.02,123.01 L118.38,123.31 L118.73,124.15 L119.08,125.40 L119.44,127.19 L119.79,128.07 L120.15,129.38 L120.50,131.10 L120.85,132.16 L121.21,133.46 L121.56,133.67 L121.91,133.75 L122.27,134.69 L122.62,134.54 L122.97,134.64 L123.33,136.11 L123.68,135.62 L124.03,135.89 L124.39,135.98 L124.74,136.47 L125.09,136.10 L125.45,136.45 L125.80,135.83 L126.15,135.76 L126.51,136.64 L126.86,136.67 L127.21,136.38 L127.57,136.29 L127.92,136.25 L128.27,135.96 L128.63,136.57 L128.98,136.24 L129.33,136.10 L129.69,135.94 L130.04,135.98 L130.39,135.60 L130.75,135.39 L131.10,134.41 L131.45,134.37 L131.81,134.11 L132.16,132.27 L132.51,131.03 L132.87,129.58 L133.22,127.46 L133.57,124.87 L133.93,121.57 L134.28,119.83 L134.63,117.81 L134.99,117.79 L135.34,119.53 L135.69,121.58 L136.05,124.58 L136.40,127.87 L136.75,129.43 L137.11,131.29 L137.46,132.30 L137.81,133.52 L138.17,134.25 L138.52,135.05 L138.88,135.36 L139.23,135.85 L139.58,136.27 L139.94,136.26 L140.29,136.32 L140.64,136.49 L141.00,137.17 L141.35,137.17 L141.70,137.56 L142.06,137.66 L142.41,137.32 L142.76,137.70 L143.12,137.13 L143.47,138.31 L143.82,138.04 L144.18,137.66 L144.53,137.42 L144.88,137.93 L145.24,137.29 L145.59,137.66 L145.94,138.15 L146.30,137.98 L146.65,137.84 L147.00,138.30 L147.36,137.73 L147.71,138.15 L148.06,137.94 L148.42,137.85 L148.77,138.26 L149.12,137.85 L149.48,138.73 L149.83,138.00 L150.18,138.79 L150.54,137.88 L150.89,138.40 L151.24,137.88 L151.60,137.84 L151.95,138.31 L152.30,138.47 L152.66,137.90 L153.01,138.64 L153.36,138.06 L153.72,138.35 L154.07,138.43 L154.42,138.50 L154.78,137.79 L155.13,138.82 L155.49,138.51 L155.84,138.22 L156.19,138.04 L156.55,137.85 L156.90,137.95 L157.25,138.53 L157.61,138.27 L157.96,138.03 L158.31,138.22 L158.67,138.85 L159.02,138.28 L159.37,138.21 L159.73,138.79 L160.08,138.53 L160.43,138.41 L160.79,138.21 L161.14,137.93 L161.49,138.05 L161.85,138.26 L162.20,138.34 L162.55,138.51 L162.91,138.57 L163.26,138.47 L163.61,138.47 L163.97,138.11 L164.32,137.76 L164.67,138.25 L165.03,138.12 L165.38,138.21 L165.73,138.33 L166.09,138.04 L166.44,138.08 L166.79,138.38 L167.15,138.45 L167.50,138.22 L167.85,138.56 L168.21,138.35 L168.56,138.11 L168.91,138.42 L169.27,138.98 L169.62,138.21 L169.97,138.76 L170.33,138.82 L170.68,138.86 L171.03,138.16 L171.39,139.01 L171.74,138.44 L172.09,138.33 L172.45,138.34 L172.80,138.59 L173.16,138.42 L173.51,138.35 L173.86,138.79 L174.22,138.19 L174.57,138.09 L174.92,138.64 L175.28,138.61 L175.63,138.73 L175.98,138.08 L176.34,138.72 L176.69,138.54 L177.04,138.93 L177.40,138.02 L177.75,138.46 L178.10,138.31 L178.46,137.92 L178.81,138.18 L179.16,138.73 L179.52,138.25 L179.87,138.17 L180.22,138.65 L180.58,138.68 L180.93,138.68 L181.28,138.15 L181.64,138.36 L181.99,138.69 L182.34,138.18 L182.70,138.15 L183.05,138.62 L183.40,138.84 L183.76,138.03 L184.11,137.59 L184.46,137.93 L184.82,138.06 L185.17,138.32 L185.52,138.55 L185.88,138.31 L186.23,138.15 L186.58,138.40 L186.94,138.06 L187.29,138.33 L187.64,138.15 L188.00,139.14 L188.35,138.58 L188.70,138.08 L189.06,138.02 L189.41,138.18 L189.76,137.81 L190.12,138.06 L190.47,138.04 L190.82,138.51 L191.18,138.08 L191.53,137.94 L191.89,137.73 L192.24,137.74 L192.59,138.01 L192.95,137.91 L193.30,138.24 L193.65,137.64 L194.01,138.07 L194.36,137.76 L194.71,137.60 L195.07,136.93 L195.42,137.08 L195.77,137.63 L196.13,137.79 L196.48,137.40 L196.83,137.55 L197.19,137.20 L197.54,137.22 L197.89,137.16 L198.25,137.69 L198.60,137.55 L198.95,137.43 L199.31,137.45 L199.66,137.78 L200.01,137.76 L200.37,137.47 L200.72,138.28 L201.07,137.88 L201.43,137.83 L201.78,138.30 L202.13,138.17 L202.49,137.84 L202.84,138.03 L203.19,137.54 L203.55,137.64 L203.90,137.13 L204.25,138.14 L204.61,137.17 L204.96,137.89 L205.31,137.38 L205.67,137.26 L206.02,137.41 L206.37,137.44 L206.73,137.42 L207.08,137.62 L207.43,137.01 L207.79,136.94 L208.14,136.22 L208.50,136.28 L208.85,135.71 L209.20,135.05 L209.56,134.60 L209.91,133.97 L210.26,133.33 L210.62,132.59 L210.97,131.45 L211.32,130.48 L211.68,130.01 L212.03,128.41 L212.38,127.98 L212.74,128.05 L213.09,126.45 L213.44,127.02 L213.80,127.70 L214.15,127.53 L214.50,129.53 L214.86,128.83 L215.21,130.94 L215.56,131.88 L215.92,132.56 L216.27,133.04 L216.62,133.95 L216.98,134.22 L217.33,135.31 L217.68,135.22 L218.04,135.89 L218.39,136.61 L218.74,136.26 L219.10,136.72 L219.45,137.07 L219.80,136.78 L220.16,137.65 L220.51,137.51 L220.86,137.04 L221.22,137.54 L221.57,137.38 L221.92,137.45 L222.28,137.71 L222.63,137.49 L222.98,138.00 L223.34,137.51 L223.69,138.00 L224.04,137.68 L224.40,137.92 L224.75,137.47 L225.10,137.43 L225.46,137.19 L225.81,137.65 L226.17,137.70 L226.52,137.99 L226.87,137.68 L227.23,137.30 L227.58,137.11 L227.93,137.24 L228.29,137.08 L228.64,137.50 L228.99,137.33 L229.35,136.79 L229.70,136.85 L230.05,137.50 L230.41,137.22 L230.76,137.12 L231.11,137.61 L231.47,137.21 L231.82,137.32 L232.17,137.35 L232.53,136.98 L232.88,137.91 L233.23,137.37 L233.59,137.63 L233.94,137.65 L234.29,138.15 L234.65,137.97 L235.00,138.04 L235.35,137.57 L235.71,138.08 L236.06,137.70 L236.41,138.25 L236.77,138.29 L237.12,138.19 L237.47,138.82 L237.83,138.38 L238.18,138.41 L238.53,138.27 L238.89,138.18 L239.24,138.53 L239.59,138.57 L239.95,137.86 L240.30,138.56 L240.65,138.40 L241.01,138.54 L241.36,138.39 L241.71,137.88 L242.07,137.90 L242.42,138.80 L242.77,138.33 L243.13,137.83 L243.48,138.36 L243.84,138.15 L244.19,137.70 L244.54,137.57 L244.90,137.78 L245.25,138.34 L245.60,138.24 L245.96,138.18 L246.31,138.34 L246.66,138.44 L247.02,137.63 L247.37,138.17 L247.72,138.01 L248.08,137.89 L248.43,138.10 L248.78,138.22 L249.14,138.18 L249.49,137.82 L249.84,138.12 L250.20,138.86 L250.55,137.94 L250.90,137.75 L251.26,138.34 L251.61,138.44 L251.96,138.40 L252.32,137.92 L252.67,138.56" fill="none" stroke="#cf7522" stroke-width="1.5" stroke-linejoin="round"/>
<path d="M40.63,158.75 L40.98,158.64 L41.34,158.80 L41.69,158.94 L42.04,159.19 L42.40,159.16 L42.75,158.96 L43.10,159.25 L43.46,158.99 L43.81,159.23 L44.16,158.54 L44.52,158.48 L44.87,159.19 L45.22,158.53 L45.58,158.86 L45.93,158.92 L46.28,158.80 L46.64,158.80 L46.99,159.36 L47.34,158.18 L47.70,159.20 L48.05,159.62 L48.40,158.94 L48.76,158.92 L49.11,159.14 L49.46,159.47 L49.82,158.56 L50.17,158.94 L50.53,158.86 L50.88,159.08 L51.23,158.96 L51.59,159.10 L51.94,158.78 L52.29,158.92 L52.65,158.70 L53.00,158.70 L53.35,158.85 L53.71,158.85 L54.06,158.54 L54.41,159.36 L54.77,158.84 L55.12,158.46 L55.47,159.21 L55.83,158.65 L56.18,159.02 L56.53,158.86 L56.89,158.94 L57.24,158.92 L57.59,158.69 L57.95,158.87 L58.30,159.47 L58.65,158.18 L59.01,158.87 L59.36,158.98 L59.71,158.53 L60.07,158.43 L60.42,159.49 L60.77,158.73 L61.13,159.46 L61.48,158.99 L61.83,158.85 L62.19,158.97 L62.54,159.02 L62.89,159.18 L63.25,158.95 L63.60,158.86 L63.95,158.87 L64.31,159.22 L64.66,159.05 L65.01,158.51 L65.37,158.61 L65.72,158.90 L66.07,158.61 L66.43,158.68 L66.78,158.51 L67.13,158.71 L67.49,158.91 L67.84,159.08 L68.20,158.78 L68.55,159.40 L68.90,158.75 L69.26,159.73 L69.61,159.07 L69.96,158.92 L70.32,158.61 L70.67,157.91 L71.02,158.71 L71.38,158.81 L71.73,159.33 L72.08,158.34 L72.44,159.32 L72.79,158.67 L73.14,158.96 L73.50,157.98 L73.85,158.78 L74.20,158.63 L74.56,158.93 L74.91,158.75 L75.26,158.38 L75.62,159.00 L75.97,158.93 L76.32,158.89 L76.68,159.01 L77.03,159.04 L77.38,158.70 L77.74,158.29 L78.09,158.28 L78.44,159.10 L78.80,158.90 L79.15,158.72 L79.50,158.55 L79.86,158.69 L80.21,158.69 L80.56,158.57 L80.92,158.46 L81.27,159.32 L81.62,158.73 L81.98,158.48 L82.33,158.27 L82.68,158.44 L83.04,158.87 L83.39,158.87 L83.74,158.58 L84.10,158.65 L84.45,158.54 L84.81,158.30 L85.16,159.02 L85.51,158.74 L85.87,159.36 L86.22,158.39 L86.57,158.57 L86.93,158.87 L87.28,158.53 L87.63,158.18 L87.99,158.31 L88.34,158.62 L88.69,158.69 L89.05,158.55 L89.40,158.88 L89.75,158.87 L90.11,158.66 L90.46,158.57 L90.81,158.48 L91.17,158.71 L91.52,158.82 L91.87,158.55 L92.23,158.66 L92.58,158.43 L92.93,158.09 L93.29,158.21 L93.64,158.73 L93.99,158.63 L94.35,158.97 L94.70,158.50 L95.05,158.73 L95.41,158.86 L95.76,158.75 L96.11,158.26 L96.47,158.38 L96.82,158.47 L97.17,158.12 L97.53,158.55 L97.88,158.70 L98.23,158.24 L98.59,158.96 L98.94,158.27 L99.29,158.29 L99.65,158.26 L100.00,158.11 L100.35,158.43 L100.71,158.29 L101.06,158.77 L101.41,158.43 L101.77,158.40 L102.12,158.15 L102.47,157.77 L102.83,158.15 L103.18,157.89 L103.54,158.41 L103.89,158.09 L104.24,158.57 L104.60,158.27 L104.95,158.27 L105.30,158.05 L105.66,158.01 L106.01,158.11 L106.36,158.15 L106.72,157.62 L107.07,157.94 L107.42,158.53 L107.78,157.67 L108.13,157.56 L108.48,157.37 L108.84,157.08 L109.19,157.80 L109.54,157.39 L109.90,157.38 L110.25,157.75 L110.60,157.84 L110.96,156.71 L111.31,157.17 L111.66,156.90 L112.02,156.67 L112.37,156.51 L112.72,156.14 L113.08,156.38 L113.43,155.80 L113.78,155.38 L114.14,155.24 L114.49,154.65 L114.84,153.94 L115.20,153.19 L115.55,152.76 L115.90,151.33 L116.26,149.89 L116.61,148.17 L116.96,146.66 L117.32,144.75 L117.67,143.61 L118.02,142.72 L118.38,141.91 L118.73,143.27 L119.08,144.82 L119.44,146.32 L119.79,147.62 L120.15,149.76 L120.50,150.44 L120.85,151.32 L121.21,152.22 L121.56,153.23 L121.91,154.09 L122.27,154.60 L122.62,154.68 L122.97,154.57 L123.33,154.98 L123.68,155.11 L124.03,155.50 L124.39,155.16 L124.74,155.84 L125.09,156.10 L125.45,155.94 L125.80,156.18 L126.15,155.81 L126.51,155.69 L126.86,155.95 L127.21,156.50 L127.57,156.46 L127.92,155.99 L128.27,156.46 L128.63,155.95 L128.98,156.44 L129.33,156.04 L129.69,155.64 L130.04,155.86 L130.39,155.19 L130.75,154.86 L131.10,154.32 L131.45,154.31 L131.81,153.49 L132.16,152.50 L132.51,151.09 L132.87,149.97 L133.22,147.35 L133.57,144.88 L133.93,142.96 L134.28,140.74 L134.63,138.96 L134.99,138.21 L135.34,139.82 L135.69,142.39 L136.05,144.76 L136.40,147.70 L136.75,149.00 L137.11,151.41 L137.46,152.44 L137.81,154.12 L138.17,154.52 L138.52,155.46 L138.88,155.41 L139.23,155.53 L139.58,155.89 L139.94,156.25 L140.29,156.30 L140.64,157.12 L141.00,157.29 L141.35,157.07 L141.70,156.78 L142.06,157.14 L142.41,157.04 L142.76,157.75 L143.12,157.47 L143.47,157.58 L143.82,157.36 L144.18,156.93 L144.53,157.34 L144.88,157.27 L145.24,157.76 L145.59,157.71 L145.94,157.47 L146.30,157.62 L146.65,158.23 L147.00,157.50 L147.36,157.53 L147.71,157.76 L148.06,157.64 L148.42,157.74 L148.77,158.04 L149.12,158.42 L149.48,157.38 L149.83,157.92 L150.18,157.95 L150.54,157.93 L150.89,157.91 L151.24,157.87 L151.60,158.29 L151.95,157.86 L152.30,157.97 L152.66,158.01 L153.01,158.05 L153.36,157.97 L153.72,158.33 L154.07,158.03 L154.42,158.09 L154.78,158.03 L155.13,157.75 L155.49,157.81 L155.84,157.74 L156.19,158.12 L156.55,157.85 L156.90,157.75 L157.25,158.14 L157.61,158.23 L157.96,157.55 L158.31,158.58 L158.67,158.09 L159.02,158.05 L159.37,158.40 L159.73,158.10 L160.08,157.90 L160.43,158.74 L160.79,157.76 L161.14,158.06 L161.49,158.34 L161.85,157.76 L162.20,158.05 L162.55,158.20 L162.91,158.80 L163.26,157.82 L163.61,158.07 L163.97,158.28 L164.32,158.11 L164.67,157.72 L165.03,158.20 L165.38,158.11 L165.73,158.21 L166.09,158.42 L166.44,158.38 L166.79,158.20 L167.15,158.17 L167.50,157.74 L167.85,158.03 L168.21,158.13 L168.56,157.95 L168.91,158.09 L169.27,157.81 L169.62,158.52 L169.97,158.70 L170.33,157.94 L170.68,158.18 L171.03,157.98 L171.39,158.43 L171.74,158.18 L172.09,158.07 L172.45,157.98 L172.80,158.08 L173.16,157.74 L173.51,158.24 L173.86,157.82 L174.22,158.19 L174.57,158.07 L174.92,158.36 L175.28,158.02 L175.63,158.33 L175.98,157.74 L176.34,158.20 L176.69,157.95 L177.04,158.07 L177.40,158.03 L177.75,158.29 L178.10,157.40 L178.46,158.10 L178.81,157.55 L179.16,158.36 L179.52,157.40 L179.87,157.69 L180.22,157.49 L180.58,158.48 L180.93,157.60 L181.28,158.01 L181.64,157.82 L181.99,157.43 L182.34,157.87 L182.70,158.16 L183.05,157.91 L183.40,158.24 L183.76,157.85 L184.11,157.95 L184.46,157.83 L184.82,158.05 L185.17,158.51 L185.52,158.05 L185.88,157.99 L186.23,157.74 L186.58,157.70 L186.94,158.36 L187.29,157.58 L187.64,157.63 L188.00,157.87 L188.35,157.77 L188.70,158.47 L189.06,157.17 L189.41,157.98 L189.76,158.07 L190.12,157.50 L190.47,157.62 L190.82,157.92 L191.18,158.25 L191.53,157.45 L191.89,157.21 L192.24,157.92 L192.59,158.03 L192.95,157.41 L193.30,156.77 L193.65,157.80 L194.01,157.23 L194.36,157.54 L194.71,157.12 L195.07,156.94 L195.42,156.85 L195.77,157.37 L196.13,157.31 L196.48,156.21 L196.83,156.55 L197.19,157.36 L197.54,156.73 L197.89,156.45 L198.25,156.90 L198.60,156.91 L198.95,156.96 L199.31,156.90 L199.66,157.01 L200.01,157.01 L200.37,157.30 L200.72,157.00 L201.07,157.19 L201.43,157.26 L201.78,157.71 L202.13,157.44 L202.49,157.29 L202.84,157.48 L203.19,157.42 L203.55,157.60 L203.90,157.40 L204.25,157.74 L204.61,157.56 L204.96,157.08 L205.31,156.90 L205.67,157.21 L206.02,157.00 L206.37,156.70 L206.73,156.14 L207.08,155.86 L207.43,156.30 L207.79,156.17 L208.14,155.87 L208.50,154.86 L208.85,155.10 L209.20,154.09 L209.56,153.74 L209.91,153.02 L210.26,151.84 L210.62,150.99 L210.97,149.57 L211.32,148.89 L211.68,147.59 L212.03,147.28 L212.38,146.31 L212.74,145.91 L213.09,145.37 L213.44,145.04 L213.80,145.64 L214.15,146.01 L214.50,147.13 L214.86,148.01 L215.21,148.64 L215.56,149.96 L215.92,150.96 L216.27,151.77 L216.62,152.96 L216.98,153.95 L217.33,153.97 L217.68,154.53 L218.04,154.42 L218.39,155.45 L218.74,155.68 L219.10,155.42 L219.45,156.37 L219.80,156.64 L220.16,156.38 L220.51,156.60 L220.86,156.51 L221.22,157.10 L221.57,156.48 L221.92,156.88 L222.28,157.59 L222.63,157.03 L222.98,157.16 L223.34,156.96 L223.69,156.63 L224.04,156.94 L224.40,157.02 L224.75,156.54 L225.10,156.87 L225.46,157.06 L225.81,156.92 L226.17,156.03 L226.52,156.11 L226.87,155.82 L227.23,156.53 L227.58,156.31 L227.93,156.26 L228.29,155.72 L228.64,155.59 L228.99,155.94 L229.35,155.95 L229.70,155.68 L230.05,156.02 L230.41,156.23 L230.76,156.18 L231.11,155.89 L231.47,155.67 L231.82,156.34 L232.17,156.58 L232.53,156.57 L232.88,156.64 L233.23,156.67 L233.59,157.20 L233.94,157.06 L234.29,157.20 L234.65,156.95 L235.00,157.12 L235.35,157.42 L235.71,157.11 L236.06,157.08 L236.41,157.39 L236.77,157.87 L237.12,157.59 L237.47,157.99 L237.83,157.52 L238.18,157.48 L238.53,157.16 L238.89,157.41 L239.24,158.02 L239.59,157.69 L239.95,157.81 L240.30,157.80 L240.65,157.59 L241.01,157.53 L241.36,157.63 L241.71,157.79 L242.07,157.73 L242.42,157.74 L242.77,157.63 L243.13,157.36 L243.48,157.51 L243.84,157.30 L244.19,157.89 L244.54,156.95 L244.90,157.52 L245.25,158.30 L245.60,157.48 L245.96,157.24 L246.31,157.57 L246.66,157.97 L247.02,157.53 L247.37,157.76 L247.72,157.61 L248.08,157.46 L248.43,158.52 L248.78,157.59 L249.14,157.41 L249.49,157.42 L249.84,157.68 L250.20,157.69 L250.55,157.80 L250.90,157.60 L251.26,157.13 L251.61,157.72 L251.96,157.47 L252.32,157.47 L252.67,157.11" fill="none" stroke="#74531a" stroke-width="1.5" stroke-linejoin="round"/>
<line x1="117.67" y1="31" x2="117.67" y2="163.3" stroke="#333" stroke-width="0.9" stroke-dasharray="1.2,1.2"/>
<line x1="134.71" y1="21.5" x2="134.71" y2="163.3" stroke="#333" stroke-width="0.9" stroke-dasharray="1.2,1.2"/>
<line x1="212.10" y1="21.5" x2="212.10" y2="163.3" stroke="#333" stroke-width="0.9" stroke-dasharray="1.2,1.2"/>
<text x="42.9" y="45.8" font-size="10.0" text-anchor="start" fill="#2c8a2c" stroke="#2c8a2c" stroke-width="0.12" textLength="53.6" lengthAdjust="spacingAndGlyphs" >F-LIG-190V</text>
<text x="42.9" y="69.7" font-size="10.0" text-anchor="start" fill="#4e9e36" stroke="#4e9e36" stroke-width="0.12" textLength="53.6" lengthAdjust="spacingAndGlyphs" >F-LIG-180V</text>
<text x="42.9" y="91.3" font-size="10.0" text-anchor="start" fill="#92c95c" stroke="#92c95c" stroke-width="0.12" textLength="53.6" lengthAdjust="spacingAndGlyphs" >F-LIG-170V</text>
<text x="42.9" y="113.6" font-size="10.0" text-anchor="start" fill="#f7a440" stroke="#f7a440" stroke-width="0.12" textLength="53.6" lengthAdjust="spacingAndGlyphs" >F-LIG-160V</text>
<text x="42.9" y="136.1" font-size="10.0" text-anchor="start" fill="#d27a28" stroke="#d27a28" stroke-width="0.12" textLength="53.6" lengthAdjust="spacingAndGlyphs" >F-LIG-150V</text>
<text x="42.9" y="155.5" font-size="10.0" text-anchor="start" fill="#7d5a1e" stroke="#7d5a1e" stroke-width="0.12" textLength="16.8" lengthAdjust="spacingAndGlyphs" >LIG</text>
<text x="117.6712" y="27.7" font-size="10" text-anchor="middle" fill="#222" stroke="#222" stroke-width="0.25" >D</text>
<text x="134.70508" y="18.6" font-size="10" text-anchor="middle" fill="#222" stroke="#222" stroke-width="0.25" >G</text>
<text x="213.59968000000003" y="18.4" font-size="10" text-anchor="middle" fill="#222" stroke="#222" stroke-width="0.25" >2D</text>
<rect x="40.7" y="7.2" width="212.10000000000002" height="156.10000000000002" fill="none" stroke="#5e5e5e" stroke-width="1.5"/>
<line x1="58.30" y1="163.3" x2="58.30" y2="165.8" stroke="#5e5e5e" stroke-width="1.5"/>
<line x1="75.97" y1="163.3" x2="75.97" y2="164.8" stroke="#5e5e5e" stroke-width="1.5"/>
<line x1="93.64" y1="163.3" x2="93.64" y2="165.8" stroke="#5e5e5e" stroke-width="1.5"/>
<line x1="111.31" y1="163.3" x2="111.31" y2="164.8" stroke="#5e5e5e" stroke-width="1.5"/>
<line x1="128.98" y1="163.3" x2="128.98" y2="165.8" stroke="#5e5e5e" stroke-width="1.5"/>
<line x1="146.65" y1="163.3" x2="146.65" y2="164.8" stroke="#5e5e5e" stroke-width="1.5"/>
<line x1="164.32" y1="163.3" x2="164.32" y2="165.8" stroke="#5e5e5e" stroke-width="1.5"/>
<line x1="181.99" y1="163.3" x2="181.99" y2="164.8" stroke="#5e5e5e" stroke-width="1.5"/>
<line x1="199.66" y1="163.3" x2="199.66" y2="165.8" stroke="#5e5e5e" stroke-width="1.5"/>
<line x1="217.33" y1="163.3" x2="217.33" y2="164.8" stroke="#5e5e5e" stroke-width="1.5"/>
<line x1="235.00" y1="163.3" x2="235.00" y2="165.8" stroke="#5e5e5e" stroke-width="1.5"/>
<line x1="252.67" y1="163.3" x2="252.67" y2="164.8" stroke="#5e5e5e" stroke-width="1.5"/>
<text x="58.30" y="177.3" font-size="11" text-anchor="middle" fill="#222" stroke="#222" stroke-width="0.25" >500</text>
<text x="93.64" y="177.3" font-size="11" text-anchor="middle" fill="#222" stroke="#222" stroke-width="0.25" >1000</text>
<text x="128.98" y="177.3" font-size="11" text-anchor="middle" fill="#222" stroke="#222" stroke-width="0.25" >1500</text>
<text x="164.32" y="177.3" font-size="11" text-anchor="middle" fill="#222" stroke="#222" stroke-width="0.25" >2000</text>
<text x="199.66" y="177.3" font-size="11" text-anchor="middle" fill="#222" stroke="#222" stroke-width="0.25" >2500</text>
<text x="235.00" y="177.3" font-size="11" text-anchor="middle" fill="#222" stroke="#222" stroke-width="0.25" >3000</text>
<text x="147" y="190.4" font-size="11.8" text-anchor="middle" fill="#222" stroke="#222" stroke-width="0.25">Raman shift (cm<tspan font-size="7.5" dy="-4.5">-1</tspan><tspan dy="4.5">)</tspan></text>
<text transform="translate(31.6,85.0) rotate(-90)" x="0" y="0" font-size="11.5" text-anchor="middle" fill="#222" stroke="#222" stroke-width="0.25">Intensity (arb. units)</text>
<text x="18.0" y="18.2" font-size="19.8" font-weight="bold" fill="#000" stroke="#000" stroke-width="0.25">a</text>
</g>
<path d="M331.60,47.40 L332.45,47.34 L333.29,47.53 L334.14,47.09 L334.98,47.53 L335.83,47.54 L336.67,47.15 L337.52,47.29 L338.36,47.20 L339.21,47.71 L340.05,46.67 L340.90,47.31 L341.74,46.89 L342.59,47.25 L343.43,47.61 L344.28,47.15 L345.12,47.36 L345.97,47.05 L346.81,47.86 L347.66,47.53 L348.50,47.57 L349.35,46.81 L350.19,46.86 L351.04,47.49 L351.88,47.08 L352.73,47.04 L353.57,47.19 L354.42,46.68 L355.26,47.26 L356.11,47.00 L356.95,47.11 L357.80,46.73 L358.64,47.06 L359.49,46.65 L360.33,47.12 L361.18,47.13 L362.02,47.02 L362.87,46.86 L363.71,46.85 L364.56,45.81 L365.40,46.82 L366.25,46.44 L367.09,46.49 L367.94,46.32 L368.78,45.93 L369.62,46.12 L370.47,46.41 L371.31,46.57 L372.16,45.88 L373.00,45.71 L373.85,46.33 L374.70,45.54 L375.54,46.33 L376.38,45.61 L377.23,45.22 L378.08,45.66 L378.92,45.74 L379.77,44.66 L380.61,45.40 L381.46,44.69 L382.30,45.04 L383.15,44.29 L383.99,43.72 L384.84,44.13 L385.68,44.02 L386.53,44.11 L387.37,43.73 L388.22,43.12 L389.06,42.52 L389.91,42.10 L390.75,41.80 L391.60,41.26 L392.44,41.01 L393.29,39.89 L394.13,40.23 L394.98,39.67 L395.82,39.92 L396.67,38.82 L397.51,37.86 L398.36,37.55 L399.20,36.37 L400.05,35.87 L400.89,34.79 L401.74,35.05 L402.58,34.04 L403.43,32.74 L404.27,32.29 L405.12,31.81 L405.96,30.89 L406.81,30.09 L407.65,28.98 L408.50,28.35 L409.34,27.94 L410.19,27.62 L411.03,26.63 L411.88,26.17 L412.72,26.60 L413.57,25.84 L414.41,26.45 L415.25,26.38 L416.10,26.94 L416.95,27.71 L417.79,28.05 L418.63,28.84 L419.48,29.18 L420.33,30.15 L421.17,31.49 L422.01,32.70 L422.86,33.60 L423.71,34.79 L424.55,35.09 L425.40,35.91 L426.24,36.97 L427.09,37.45 L427.93,38.16 L428.78,38.55 L429.62,39.81 L430.47,39.79 L431.31,40.82 L432.16,40.76 L433.00,41.99 L433.85,41.80 L434.69,42.76 L435.54,42.41 L436.38,43.09 L437.23,43.89 L438.07,43.59 L438.92,44.11 L439.76,44.19 L440.61,43.85 L441.45,44.84 L442.30,45.06 L443.14,44.76 L443.99,45.42 L444.83,45.15 L445.68,45.21 L446.52,45.63 L447.37,45.53 L448.21,46.52 L449.06,45.46 L449.90,46.23 L450.75,46.39 L451.59,45.57 L452.44,45.71 L453.28,46.46 L454.12,46.21 L454.97,46.52 L455.81,46.80 L456.66,46.39 L457.50,46.23 L458.35,45.77 L459.20,46.69 L460.04,46.39 L460.88,46.80 L461.73,46.81 L462.58,46.36 L463.42,47.32 L464.26,47.16 L465.11,47.11 L465.96,46.53 L466.80,46.79 L467.64,46.77 L468.49,46.83 L469.34,46.64 L470.18,47.13 L471.02,47.09 L471.87,47.15 L472.72,46.90 L473.56,47.46 L474.41,47.15 L475.25,46.28 L476.10,46.93 L476.94,47.12 L477.79,47.44 L478.63,47.07 L479.48,47.10 L480.32,46.99 L481.17,47.40 L482.01,47.08 L482.86,47.04 L483.70,47.01 L484.55,47.41 L485.39,47.09 L486.24,46.76 L487.08,47.45 L487.93,47.07 L488.77,47.39 L489.62,47.40 L490.46,47.66 L491.31,47.62 L492.15,47.14 L493.00,47.27 L493.84,46.94 L494.69,47.83 L495.53,47.47 L496.38,47.76 L497.22,47.25 L498.07,46.74 L498.91,47.82 L499.75,47.39 L500.60,47.41" fill="none" stroke="#64a864" stroke-width="3.0" stroke-linejoin="round"/>
<path d="M331.60,47.40 L332.45,47.34 L333.29,47.53 L334.14,47.09 L334.98,47.53 L335.83,47.54 L336.67,47.15 L337.52,47.29 L338.36,47.20 L339.21,47.71 L340.05,46.67 L340.90,47.31 L341.74,46.89 L342.59,47.25 L343.43,47.61 L344.28,47.15 L345.12,47.36 L345.97,47.05 L346.81,47.86 L347.66,47.53 L348.50,47.57 L349.35,46.81 L350.19,46.86 L351.04,47.49 L351.88,47.08 L352.73,47.04 L353.57,47.19 L354.42,46.68 L355.26,47.26 L356.11,47.00 L356.95,47.11 L357.80,46.73 L358.64,47.06 L359.49,46.65 L360.33,47.12 L361.18,47.13 L362.02,47.02 L362.87,46.86 L363.71,46.85 L364.56,45.81 L365.40,46.82 L366.25,46.44 L367.09,46.49 L367.94,46.32 L368.78,45.93 L369.62,46.12 L370.47,46.41 L371.31,46.57 L372.16,45.88 L373.00,45.71 L373.85,46.33 L374.70,45.54 L375.54,46.33 L376.38,45.61 L377.23,45.22 L378.08,45.66 L378.92,45.74 L379.77,44.66 L380.61,45.40 L381.46,44.69 L382.30,45.04 L383.15,44.29 L383.99,43.72 L384.84,44.13 L385.68,44.02 L386.53,44.11 L387.37,43.73 L388.22,43.12 L389.06,42.52 L389.91,42.10 L390.75,41.80 L391.60,41.26 L392.44,41.01 L393.29,39.89 L394.13,40.23 L394.98,39.67 L395.82,39.92 L396.67,38.82 L397.51,37.86 L398.36,37.55 L399.20,36.37 L400.05,35.87 L400.89,34.79 L401.74,35.05 L402.58,34.04 L403.43,32.74 L404.27,32.29 L405.12,31.81 L405.96,30.89 L406.81,30.09 L407.65,28.98 L408.50,28.35 L409.34,27.94 L410.19,27.62 L411.03,26.63 L411.88,26.17 L412.72,26.60 L413.57,25.84 L414.41,26.45 L415.25,26.38 L416.10,26.94 L416.95,27.71 L417.79,28.05 L418.63,28.84 L419.48,29.18 L420.33,30.15 L421.17,31.49 L422.01,32.70 L422.86,33.60 L423.71,34.79 L424.55,35.09 L425.40,35.91 L426.24,36.97 L427.09,37.45 L427.93,38.16 L428.78,38.55 L429.62,39.81 L430.47,39.79 L431.31,40.82 L432.16,40.76 L433.00,41.99 L433.85,41.80 L434.69,42.76 L435.54,42.41 L436.38,43.09 L437.23,43.89 L438.07,43.59 L438.92,44.11 L439.76,44.19 L440.61,43.85 L441.45,44.84 L442.30,45.06 L443.14,44.76 L443.99,45.42 L444.83,45.15 L445.68,45.21 L446.52,45.63 L447.37,45.53 L448.21,46.52 L449.06,45.46 L449.90,46.23 L450.75,46.39 L451.59,45.57 L452.44,45.71 L453.28,46.46 L454.12,46.21 L454.97,46.52 L455.81,46.80 L456.66,46.39 L457.50,46.23 L458.35,45.77 L459.20,46.69 L460.04,46.39 L460.88,46.80 L461.73,46.81 L462.58,46.36 L463.42,47.32 L464.26,47.16 L465.11,47.11 L465.96,46.53 L466.80,46.79 L467.64,46.77 L468.49,46.83 L469.34,46.64 L470.18,47.13 L471.02,47.09 L471.87,47.15 L472.72,46.90 L473.56,47.46 L474.41,47.15 L475.25,46.28 L476.10,46.93 L476.94,47.12 L477.79,47.44 L478.63,47.07 L479.48,47.10 L480.32,46.99 L481.17,47.40 L482.01,47.08 L482.86,47.04 L483.70,47.01 L484.55,47.41 L485.39,47.09 L486.24,46.76 L487.08,47.45 L487.93,47.07 L488.77,47.39 L489.62,47.40 L490.46,47.66 L491.31,47.62 L492.15,47.14 L493.00,47.27 L493.84,46.94 L494.69,47.83 L495.53,47.47 L496.38,47.76 L497.22,47.25 L498.07,46.74 L498.91,47.82 L499.75,47.39 L500.60,47.41" fill="none" stroke="#fff" stroke-opacity="0.75" stroke-width="1.1" stroke-dasharray="1.7,1.1"/>
<path d="M331.60,69.24 L332.45,69.41 L333.29,69.37 L334.14,68.72 L334.98,69.51 L335.83,69.02 L336.67,69.02 L337.52,69.67 L338.36,69.42 L339.21,69.03 L340.05,68.56 L340.90,69.15 L341.74,69.25 L342.59,69.05 L343.43,68.69 L344.28,68.81 L345.12,68.66 L345.97,69.08 L346.81,69.25 L347.66,69.29 L348.50,68.75 L349.35,69.02 L350.19,69.10 L351.04,68.76 L351.88,68.85 L352.73,69.52 L353.57,68.92 L354.42,69.10 L355.26,68.69 L356.11,68.81 L356.95,68.26 L357.80,68.74 L358.64,69.08 L359.49,69.33 L360.33,69.03 L361.18,68.85 L362.02,68.63 L362.87,68.40 L363.71,68.51 L364.56,68.70 L365.40,68.25 L366.25,68.73 L367.09,68.11 L367.94,67.84 L368.78,68.02 L369.62,67.78 L370.47,67.82 L371.31,68.52 L372.16,68.07 L373.00,68.14 L373.85,68.36 L374.70,68.32 L375.54,67.72 L376.38,68.20 L377.23,67.84 L378.08,67.64 L378.92,67.68 L379.77,67.02 L380.61,67.11 L381.46,67.20 L382.30,67.29 L383.15,66.86 L383.99,66.79 L384.84,66.97 L385.68,66.94 L386.53,66.57 L387.37,66.53 L388.22,65.82 L389.06,65.64 L389.91,65.59 L390.75,65.15 L391.60,64.82 L392.44,65.18 L393.29,64.32 L394.13,63.77 L394.98,63.86 L395.82,63.90 L396.67,62.98 L397.51,62.92 L398.36,61.99 L399.20,61.52 L400.05,60.98 L400.89,60.65 L401.74,60.74 L402.58,59.31 L403.43,59.60 L404.27,58.25 L405.12,57.93 L405.96,57.69 L406.81,57.07 L407.65,56.43 L408.50,55.34 L409.34,55.47 L410.19,54.63 L411.03,55.34 L411.88,54.20 L412.72,54.10 L413.57,53.56 L414.41,53.71 L415.25,53.53 L416.10,54.41 L416.95,54.35 L417.79,55.01 L418.63,55.15 L419.48,55.78 L420.33,56.94 L421.17,56.91 L422.01,57.33 L422.86,58.66 L423.71,58.86 L424.55,59.71 L425.40,60.74 L426.24,60.82 L427.09,61.89 L427.93,61.96 L428.78,63.12 L429.62,63.54 L430.47,63.44 L431.31,63.93 L432.16,64.12 L433.00,64.79 L433.85,65.40 L434.69,64.92 L435.54,65.90 L436.38,65.48 L437.23,65.86 L438.07,65.79 L438.92,67.15 L439.76,66.71 L440.61,66.93 L441.45,66.80 L442.30,67.46 L443.14,66.63 L443.99,67.38 L444.83,68.14 L445.68,67.46 L446.52,67.66 L447.37,67.94 L448.21,67.56 L449.06,67.88 L449.90,68.22 L450.75,68.05 L451.59,68.15 L452.44,67.99 L453.28,68.23 L454.12,68.20 L454.97,68.65 L455.81,68.47 L456.66,68.22 L457.50,67.59 L458.35,68.57 L459.20,68.61 L460.04,68.13 L460.88,67.83 L461.73,68.11 L462.58,68.76 L463.42,68.18 L464.26,68.38 L465.11,68.60 L465.96,68.92 L466.80,68.57 L467.64,68.56 L468.49,68.44 L469.34,69.11 L470.18,68.95 L471.02,68.62 L471.87,68.24 L472.72,68.43 L473.56,68.86 L474.41,68.48 L475.25,68.97 L476.10,68.82 L476.94,68.81 L477.79,68.93 L478.63,68.89 L479.48,68.49 L480.32,68.66 L481.17,69.47 L482.01,68.41 L482.86,68.63 L483.70,69.10 L484.55,68.74 L485.39,68.55 L486.24,68.40 L487.08,68.97 L487.93,69.12 L488.77,69.24 L489.62,68.84 L490.46,69.14 L491.31,68.52 L492.15,68.88 L493.00,68.63 L493.84,68.89 L494.69,69.07 L495.53,69.17 L496.38,68.55 L497.22,69.23 L498.07,68.71 L498.91,68.55 L499.75,68.81 L500.60,68.42" fill="none" stroke="#82b872" stroke-width="3.0" stroke-linejoin="round"/>
<path d="M331.60,69.24 L332.45,69.41 L333.29,69.37 L334.14,68.72 L334.98,69.51 L335.83,69.02 L336.67,69.02 L337.52,69.67 L338.36,69.42 L339.21,69.03 L340.05,68.56 L340.90,69.15 L341.74,69.25 L342.59,69.05 L343.43,68.69 L344.28,68.81 L345.12,68.66 L345.97,69.08 L346.81,69.25 L347.66,69.29 L348.50,68.75 L349.35,69.02 L350.19,69.10 L351.04,68.76 L351.88,68.85 L352.73,69.52 L353.57,68.92 L354.42,69.10 L355.26,68.69 L356.11,68.81 L356.95,68.26 L357.80,68.74 L358.64,69.08 L359.49,69.33 L360.33,69.03 L361.18,68.85 L362.02,68.63 L362.87,68.40 L363.71,68.51 L364.56,68.70 L365.40,68.25 L366.25,68.73 L367.09,68.11 L367.94,67.84 L368.78,68.02 L369.62,67.78 L370.47,67.82 L371.31,68.52 L372.16,68.07 L373.00,68.14 L373.85,68.36 L374.70,68.32 L375.54,67.72 L376.38,68.20 L377.23,67.84 L378.08,67.64 L378.92,67.68 L379.77,67.02 L380.61,67.11 L381.46,67.20 L382.30,67.29 L383.15,66.86 L383.99,66.79 L384.84,66.97 L385.68,66.94 L386.53,66.57 L387.37,66.53 L388.22,65.82 L389.06,65.64 L389.91,65.59 L390.75,65.15 L391.60,64.82 L392.44,65.18 L393.29,64.32 L394.13,63.77 L394.98,63.86 L395.82,63.90 L396.67,62.98 L397.51,62.92 L398.36,61.99 L399.20,61.52 L400.05,60.98 L400.89,60.65 L401.74,60.74 L402.58,59.31 L403.43,59.60 L404.27,58.25 L405.12,57.93 L405.96,57.69 L406.81,57.07 L407.65,56.43 L408.50,55.34 L409.34,55.47 L410.19,54.63 L411.03,55.34 L411.88,54.20 L412.72,54.10 L413.57,53.56 L414.41,53.71 L415.25,53.53 L416.10,54.41 L416.95,54.35 L417.79,55.01 L418.63,55.15 L419.48,55.78 L420.33,56.94 L421.17,56.91 L422.01,57.33 L422.86,58.66 L423.71,58.86 L424.55,59.71 L425.40,60.74 L426.24,60.82 L427.09,61.89 L427.93,61.96 L428.78,63.12 L429.62,63.54 L430.47,63.44 L431.31,63.93 L432.16,64.12 L433.00,64.79 L433.85,65.40 L434.69,64.92 L435.54,65.90 L436.38,65.48 L437.23,65.86 L438.07,65.79 L438.92,67.15 L439.76,66.71 L440.61,66.93 L441.45,66.80 L442.30,67.46 L443.14,66.63 L443.99,67.38 L444.83,68.14 L445.68,67.46 L446.52,67.66 L447.37,67.94 L448.21,67.56 L449.06,67.88 L449.90,68.22 L450.75,68.05 L451.59,68.15 L452.44,67.99 L453.28,68.23 L454.12,68.20 L454.97,68.65 L455.81,68.47 L456.66,68.22 L457.50,67.59 L458.35,68.57 L459.20,68.61 L460.04,68.13 L460.88,67.83 L461.73,68.11 L462.58,68.76 L463.42,68.18 L464.26,68.38 L465.11,68.60 L465.96,68.92 L466.80,68.57 L467.64,68.56 L468.49,68.44 L469.34,69.11 L470.18,68.95 L471.02,68.62 L471.87,68.24 L472.72,68.43 L473.56,68.86 L474.41,68.48 L475.25,68.97 L476.10,68.82 L476.94,68.81 L477.79,68.93 L478.63,68.89 L479.48,68.49 L480.32,68.66 L481.17,69.47 L482.01,68.41 L482.86,68.63 L483.70,69.10 L484.55,68.74 L485.39,68.55 L486.24,68.40 L487.08,68.97 L487.93,69.12 L488.77,69.24 L489.62,68.84 L490.46,69.14 L491.31,68.52 L492.15,68.88 L493.00,68.63 L493.84,68.89 L494.69,69.07 L495.53,69.17 L496.38,68.55 L497.22,69.23 L498.07,68.71 L498.91,68.55 L499.75,68.81 L500.60,68.42" fill="none" stroke="#fff" stroke-opacity="0.75" stroke-width="1.1" stroke-dasharray="1.7,1.1"/>
<path d="M331.60,92.45 L332.45,92.53 L333.29,92.37 L334.14,92.58 L334.98,92.31 L335.83,92.39 L336.67,91.94 L337.52,92.38 L338.36,92.09 L339.21,92.20 L340.05,92.29 L340.90,92.36 L341.74,91.80 L342.59,91.80 L343.43,92.17 L344.28,92.38 L345.12,92.33 L345.97,92.47 L346.81,92.57 L347.66,92.31 L348.50,92.14 L349.35,91.81 L350.19,91.82 L351.04,91.94 L351.88,92.14 L352.73,92.10 L353.57,92.01 L354.42,91.94 L355.26,92.15 L356.11,91.99 L356.95,91.99 L357.80,91.96 L358.64,91.68 L359.49,91.50 L360.33,91.92 L361.18,91.86 L362.02,91.63 L362.87,91.54 L363.71,92.30 L364.56,91.35 L365.40,91.47 L366.25,91.56 L367.09,91.09 L367.94,91.41 L368.78,91.86 L369.62,91.54 L370.47,91.39 L371.31,91.31 L372.16,91.09 L373.00,91.27 L373.85,90.85 L374.70,90.68 L375.54,90.74 L376.38,90.88 L377.23,90.59 L378.08,90.58 L378.92,89.64 L379.77,90.47 L380.61,90.66 L381.46,90.20 L382.30,89.54 L383.15,89.19 L383.99,89.33 L384.84,88.74 L385.68,89.02 L386.53,88.40 L387.37,88.58 L388.22,88.42 L389.06,87.10 L389.91,87.47 L390.75,86.83 L391.60,86.25 L392.44,86.10 L393.29,85.80 L394.13,85.74 L394.98,84.52 L395.82,84.80 L396.67,84.58 L397.51,83.62 L398.36,83.05 L399.20,82.30 L400.05,81.35 L400.89,81.25 L401.74,80.58 L402.58,80.06 L403.43,79.97 L404.27,78.80 L405.12,78.10 L405.96,77.87 L406.81,76.46 L407.65,76.04 L408.50,75.85 L409.34,75.43 L410.19,75.58 L411.03,75.12 L411.88,75.68 L412.72,75.69 L413.57,75.69 L414.41,75.69 L415.25,76.47 L416.10,77.10 L416.95,77.18 L417.79,78.31 L418.63,79.16 L419.48,79.76 L420.33,80.93 L421.17,81.57 L422.01,81.68 L422.86,82.67 L423.71,83.06 L424.55,84.12 L425.40,84.29 L426.24,85.40 L427.09,85.77 L427.93,86.44 L428.78,86.57 L429.62,86.61 L430.47,87.97 L431.31,87.76 L432.16,88.56 L433.00,88.59 L433.85,88.95 L434.69,89.56 L435.54,89.35 L436.38,89.89 L437.23,89.23 L438.07,90.12 L438.92,89.95 L439.76,90.13 L440.61,90.31 L441.45,90.54 L442.30,91.05 L443.14,90.10 L443.99,90.77 L444.83,90.63 L445.68,91.28 L446.52,90.88 L447.37,91.21 L448.21,91.02 L449.06,91.40 L449.90,91.56 L450.75,91.18 L451.59,91.36 L452.44,90.97 L453.28,91.53 L454.12,91.73 L454.97,91.34 L455.81,91.88 L456.66,90.96 L457.50,91.05 L458.35,91.22 L459.20,91.52 L460.04,91.70 L460.88,91.69 L461.73,91.72 L462.58,91.98 L463.42,91.64 L464.26,91.42 L465.11,91.45 L465.96,92.47 L466.80,91.15 L467.64,91.82 L468.49,92.32 L469.34,92.04 L470.18,91.66 L471.02,91.93 L471.87,92.20 L472.72,92.31 L473.56,91.69 L474.41,92.20 L475.25,92.06 L476.10,92.32 L476.94,92.42 L477.79,91.91 L478.63,91.59 L479.48,92.15 L480.32,92.57 L481.17,92.25 L482.01,92.12 L482.86,92.78 L483.70,91.75 L484.55,92.34 L485.39,91.90 L486.24,92.10 L487.08,92.11 L487.93,92.55 L488.77,91.82 L489.62,91.94 L490.46,91.63 L491.31,92.26 L492.15,91.98 L493.00,92.24 L493.84,91.80 L494.69,92.02 L495.53,92.44 L496.38,92.08 L497.22,92.32 L498.07,92.30 L498.91,92.03 L499.75,91.67 L500.60,92.44" fill="none" stroke="#b2d994" stroke-width="3.0" stroke-linejoin="round"/>
<path d="M331.60,92.45 L332.45,92.53 L333.29,92.37 L334.14,92.58 L334.98,92.31 L335.83,92.39 L336.67,91.94 L337.52,92.38 L338.36,92.09 L339.21,92.20 L340.05,92.29 L340.90,92.36 L341.74,91.80 L342.59,91.80 L343.43,92.17 L344.28,92.38 L345.12,92.33 L345.97,92.47 L346.81,92.57 L347.66,92.31 L348.50,92.14 L349.35,91.81 L350.19,91.82 L351.04,91.94 L351.88,92.14 L352.73,92.10 L353.57,92.01 L354.42,91.94 L355.26,92.15 L356.11,91.99 L356.95,91.99 L357.80,91.96 L358.64,91.68 L359.49,91.50 L360.33,91.92 L361.18,91.86 L362.02,91.63 L362.87,91.54 L363.71,92.30 L364.56,91.35 L365.40,91.47 L366.25,91.56 L367.09,91.09 L367.94,91.41 L368.78,91.86 L369.62,91.54 L370.47,91.39 L371.31,91.31 L372.16,91.09 L373.00,91.27 L373.85,90.85 L374.70,90.68 L375.54,90.74 L376.38,90.88 L377.23,90.59 L378.08,90.58 L378.92,89.64 L379.77,90.47 L380.61,90.66 L381.46,90.20 L382.30,89.54 L383.15,89.19 L383.99,89.33 L384.84,88.74 L385.68,89.02 L386.53,88.40 L387.37,88.58 L388.22,88.42 L389.06,87.10 L389.91,87.47 L390.75,86.83 L391.60,86.25 L392.44,86.10 L393.29,85.80 L394.13,85.74 L394.98,84.52 L395.82,84.80 L396.67,84.58 L397.51,83.62 L398.36,83.05 L399.20,82.30 L400.05,81.35 L400.89,81.25 L401.74,80.58 L402.58,80.06 L403.43,79.97 L404.27,78.80 L405.12,78.10 L405.96,77.87 L406.81,76.46 L407.65,76.04 L408.50,75.85 L409.34,75.43 L410.19,75.58 L411.03,75.12 L411.88,75.68 L412.72,75.69 L413.57,75.69 L414.41,75.69 L415.25,76.47 L416.10,77.10 L416.95,77.18 L417.79,78.31 L418.63,79.16 L419.48,79.76 L420.33,80.93 L421.17,81.57 L422.01,81.68 L422.86,82.67 L423.71,83.06 L424.55,84.12 L425.40,84.29 L426.24,85.40 L427.09,85.77 L427.93,86.44 L428.78,86.57 L429.62,86.61 L430.47,87.97 L431.31,87.76 L432.16,88.56 L433.00,88.59 L433.85,88.95 L434.69,89.56 L435.54,89.35 L436.38,89.89 L437.23,89.23 L438.07,90.12 L438.92,89.95 L439.76,90.13 L440.61,90.31 L441.45,90.54 L442.30,91.05 L443.14,90.10 L443.99,90.77 L444.83,90.63 L445.68,91.28 L446.52,90.88 L447.37,91.21 L448.21,91.02 L449.06,91.40 L449.90,91.56 L450.75,91.18 L451.59,91.36 L452.44,90.97 L453.28,91.53 L454.12,91.73 L454.97,91.34 L455.81,91.88 L456.66,90.96 L457.50,91.05 L458.35,91.22 L459.20,91.52 L460.04,91.70 L460.88,91.69 L461.73,91.72 L462.58,91.98 L463.42,91.64 L464.26,91.42 L465.11,91.45 L465.96,92.47 L466.80,91.15 L467.64,91.82 L468.49,92.32 L469.34,92.04 L470.18,91.66 L471.02,91.93 L471.87,92.20 L472.72,92.31 L473.56,91.69 L474.41,92.20 L475.25,92.06 L476.10,92.32 L476.94,92.42 L477.79,91.91 L478.63,91.59 L479.48,92.15 L480.32,92.57 L481.17,92.25 L482.01,92.12 L482.86,92.78 L483.70,91.75 L484.55,92.34 L485.39,91.90 L486.24,92.10 L487.08,92.11 L487.93,92.55 L488.77,91.82 L489.62,91.94 L490.46,91.63 L491.31,92.26 L492.15,91.98 L493.00,92.24 L493.84,91.80 L494.69,92.02 L495.53,92.44 L496.38,92.08 L497.22,92.32 L498.07,92.30 L498.91,92.03 L499.75,91.67 L500.60,92.44" fill="none" stroke="#fff" stroke-opacity="0.75" stroke-width="1.1" stroke-dasharray="1.7,1.1"/>
<path d="M331.60,113.75 L332.45,113.98 L333.29,113.07 L334.14,113.17 L334.98,113.01 L335.83,113.37 L336.67,113.94 L337.52,113.78 L338.36,113.58 L339.21,113.62 L340.05,113.79 L340.90,113.46 L341.74,113.65 L342.59,113.56 L343.43,112.84 L344.28,113.36 L345.12,113.87 L345.97,113.32 L346.81,113.38 L347.66,113.22 L348.50,113.24 L349.35,113.70 L350.19,113.26 L351.04,113.01 L351.88,112.36 L352.73,113.09 L353.57,112.65 L354.42,112.67 L355.26,113.43 L356.11,113.37 L356.95,112.55 L357.80,113.35 L358.64,113.20 L359.49,112.80 L360.33,113.22 L361.18,112.47 L362.02,112.56 L362.87,112.45 L363.71,112.50 L364.56,113.05 L365.40,112.34 L366.25,112.34 L367.09,112.35 L367.94,112.64 L368.78,112.41 L369.62,112.71 L370.47,112.17 L371.31,111.92 L372.16,112.07 L373.00,112.15 L373.85,111.77 L374.70,112.03 L375.54,112.38 L376.38,111.55 L377.23,111.61 L378.08,111.87 L378.92,111.13 L379.77,110.92 L380.61,110.68 L381.46,110.95 L382.30,110.79 L383.15,110.39 L383.99,110.23 L384.84,110.37 L385.68,109.99 L386.53,109.05 L387.37,109.18 L388.22,108.91 L389.06,108.78 L389.91,108.16 L390.75,107.67 L391.60,107.35 L392.44,106.55 L393.29,106.66 L394.13,106.05 L394.98,105.91 L395.82,104.98 L396.67,104.67 L397.51,104.00 L398.36,103.46 L399.20,103.48 L400.05,102.61 L400.89,102.37 L401.74,101.40 L402.58,101.30 L403.43,100.32 L404.27,100.29 L405.12,99.94 L405.96,99.98 L406.81,99.65 L407.65,99.42 L408.50,99.68 L409.34,99.54 L410.19,99.82 L411.03,100.18 L411.88,100.31 L412.72,100.71 L413.57,101.42 L414.41,101.77 L415.25,102.61 L416.10,103.44 L416.95,103.98 L417.79,104.22 L418.63,104.54 L419.48,105.49 L420.33,106.01 L421.17,106.90 L422.01,106.95 L422.86,107.46 L423.71,108.18 L424.55,108.22 L425.40,108.69 L426.24,109.60 L427.09,109.86 L427.93,109.90 L428.78,110.07 L429.62,109.95 L430.47,110.64 L431.31,110.70 L432.16,110.95 L433.00,110.90 L433.85,111.22 L434.69,111.31 L435.54,111.60 L436.38,112.05 L437.23,111.84 L438.07,111.34 L438.92,111.64 L439.76,111.54 L440.61,111.85 L441.45,112.33 L442.30,112.35 L443.14,112.11 L443.99,112.42 L444.83,112.16 L445.68,112.01 L446.52,112.06 L447.37,112.26 L448.21,112.98 L449.06,112.19 L449.90,113.00 L450.75,113.05 L451.59,112.63 L452.44,112.69 L453.28,112.55 L454.12,112.75 L454.97,112.97 L455.81,112.80 L456.66,113.11 L457.50,113.19 L458.35,112.95 L459.20,112.96 L460.04,112.86 L460.88,113.00 L461.73,112.57 L462.58,113.04 L463.42,112.99 L464.26,112.68 L465.11,113.60 L465.96,112.67 L466.80,112.71 L467.64,113.06 L468.49,112.41 L469.34,112.76 L470.18,112.55 L471.02,112.72 L471.87,112.98 L472.72,113.12 L473.56,113.36 L474.41,113.28 L475.25,113.40 L476.10,113.22 L476.94,112.91 L477.79,113.39 L478.63,112.91 L479.48,112.88 L480.32,113.52 L481.17,113.30 L482.01,113.14 L482.86,113.30 L483.70,113.34 L484.55,112.67 L485.39,113.05 L486.24,112.73 L487.08,113.12 L487.93,112.88 L488.77,113.49 L489.62,113.24 L490.46,112.84 L491.31,113.08 L492.15,112.73 L493.00,113.10 L493.84,113.25 L494.69,113.17 L495.53,112.51 L496.38,112.99 L497.22,113.24 L498.07,113.18 L498.91,113.44 L499.75,112.70 L500.60,113.25" fill="none" stroke="#f8c386" stroke-width="3.0" stroke-linejoin="round"/>
<path d="M331.60,113.75 L332.45,113.98 L333.29,113.07 L334.14,113.17 L334.98,113.01 L335.83,113.37 L336.67,113.94 L337.52,113.78 L338.36,113.58 L339.21,113.62 L340.05,113.79 L340.90,113.46 L341.74,113.65 L342.59,113.56 L343.43,112.84 L344.28,113.36 L345.12,113.87 L345.97,113.32 L346.81,113.38 L347.66,113.22 L348.50,113.24 L349.35,113.70 L350.19,113.26 L351.04,113.01 L351.88,112.36 L352.73,113.09 L353.57,112.65 L354.42,112.67 L355.26,113.43 L356.11,113.37 L356.95,112.55 L357.80,113.35 L358.64,113.20 L359.49,112.80 L360.33,113.22 L361.18,112.47 L362.02,112.56 L362.87,112.45 L363.71,112.50 L364.56,113.05 L365.40,112.34 L366.25,112.34 L367.09,112.35 L367.94,112.64 L368.78,112.41 L369.62,112.71 L370.47,112.17 L371.31,111.92 L372.16,112.07 L373.00,112.15 L373.85,111.77 L374.70,112.03 L375.54,112.38 L376.38,111.55 L377.23,111.61 L378.08,111.87 L378.92,111.13 L379.77,110.92 L380.61,110.68 L381.46,110.95 L382.30,110.79 L383.15,110.39 L383.99,110.23 L384.84,110.37 L385.68,109.99 L386.53,109.05 L387.37,109.18 L388.22,108.91 L389.06,108.78 L389.91,108.16 L390.75,107.67 L391.60,107.35 L392.44,106.55 L393.29,106.66 L394.13,106.05 L394.98,105.91 L395.82,104.98 L396.67,104.67 L397.51,104.00 L398.36,103.46 L399.20,103.48 L400.05,102.61 L400.89,102.37 L401.74,101.40 L402.58,101.30 L403.43,100.32 L404.27,100.29 L405.12,99.94 L405.96,99.98 L406.81,99.65 L407.65,99.42 L408.50,99.68 L409.34,99.54 L410.19,99.82 L411.03,100.18 L411.88,100.31 L412.72,100.71 L413.57,101.42 L414.41,101.77 L415.25,102.61 L416.10,103.44 L416.95,103.98 L417.79,104.22 L418.63,104.54 L419.48,105.49 L420.33,106.01 L421.17,106.90 L422.01,106.95 L422.86,107.46 L423.71,108.18 L424.55,108.22 L425.40,108.69 L426.24,109.60 L427.09,109.86 L427.93,109.90 L428.78,110.07 L429.62,109.95 L430.47,110.64 L431.31,110.70 L432.16,110.95 L433.00,110.90 L433.85,111.22 L434.69,111.31 L435.54,111.60 L436.38,112.05 L437.23,111.84 L438.07,111.34 L438.92,111.64 L439.76,111.54 L440.61,111.85 L441.45,112.33 L442.30,112.35 L443.14,112.11 L443.99,112.42 L444.83,112.16 L445.68,112.01 L446.52,112.06 L447.37,112.26 L448.21,112.98 L449.06,112.19 L449.90,113.00 L450.75,113.05 L451.59,112.63 L452.44,112.69 L453.28,112.55 L454.12,112.75 L454.97,112.97 L455.81,112.80 L456.66,113.11 L457.50,113.19 L458.35,112.95 L459.20,112.96 L460.04,112.86 L460.88,113.00 L461.73,112.57 L462.58,113.04 L463.42,112.99 L464.26,112.68 L465.11,113.60 L465.96,112.67 L466.80,112.71 L467.64,113.06 L468.49,112.41 L469.34,112.76 L470.18,112.55 L471.02,112.72 L471.87,112.98 L472.72,113.12 L473.56,113.36 L474.41,113.28 L475.25,113.40 L476.10,113.22 L476.94,112.91 L477.79,113.39 L478.63,112.91 L479.48,112.88 L480.32,113.52 L481.17,113.30 L482.01,113.14 L482.86,113.30 L483.70,113.34 L484.55,112.67 L485.39,113.05 L486.24,112.73 L487.08,113.12 L487.93,112.88 L488.77,113.49 L489.62,113.24 L490.46,112.84 L491.31,113.08 L492.15,112.73 L493.00,113.10 L493.84,113.25 L494.69,113.17 L495.53,112.51 L496.38,112.99 L497.22,113.24 L498.07,113.18 L498.91,113.44 L499.75,112.70 L500.60,113.25" fill="none" stroke="#fff" stroke-opacity="0.75" stroke-width="1.1" stroke-dasharray="1.7,1.1"/>
<path d="M331.60,134.30 L332.45,134.54 L333.29,134.60 L334.14,134.67 L334.98,134.28 L335.83,134.49 L336.67,134.08 L337.52,133.99 L338.36,134.57 L339.21,134.37 L340.05,133.89 L340.90,134.11 L341.74,134.35 L342.59,134.80 L343.43,134.63 L344.28,134.54 L345.12,133.75 L345.97,134.24 L346.81,134.40 L347.66,134.36 L348.50,134.35 L349.35,134.14 L350.19,134.72 L351.04,134.61 L351.88,134.12 L352.73,133.84 L353.57,134.72 L354.42,133.92 L355.26,134.42 L356.11,134.61 L356.95,133.73 L357.80,134.08 L358.64,133.86 L359.49,134.09 L360.33,134.00 L361.18,134.46 L362.02,134.02 L362.87,133.81 L363.71,134.11 L364.56,133.65 L365.40,133.59 L366.25,134.32 L367.09,133.36 L367.94,133.41 L368.78,133.52 L369.62,133.14 L370.47,132.76 L371.31,133.65 L372.16,133.03 L373.00,133.03 L373.85,133.00 L374.70,132.74 L375.54,132.62 L376.38,132.89 L377.23,133.46 L378.08,132.85 L378.92,132.74 L379.77,131.93 L380.61,132.24 L381.46,131.75 L382.30,132.18 L383.15,131.71 L383.99,131.61 L384.84,131.39 L385.68,131.04 L386.53,130.54 L387.37,130.94 L388.22,130.11 L389.06,129.92 L389.91,129.91 L390.75,129.51 L391.60,129.50 L392.44,129.42 L393.29,128.87 L394.13,128.52 L394.98,128.13 L395.82,128.03 L396.67,126.86 L397.51,127.17 L398.36,126.42 L399.20,125.98 L400.05,126.02 L400.89,125.59 L401.74,125.59 L402.58,125.49 L403.43,124.24 L404.27,124.75 L405.12,125.24 L405.96,124.85 L406.81,125.03 L407.65,124.70 L408.50,124.40 L409.34,124.72 L410.19,125.56 L411.03,125.98 L411.88,125.85 L412.72,126.39 L413.57,126.96 L414.41,126.78 L415.25,127.62 L416.10,128.62 L416.95,129.19 L417.79,128.88 L418.63,129.83 L419.48,129.47 L420.33,129.71 L421.17,129.59 L422.01,130.83 L422.86,130.70 L423.71,131.76 L424.55,131.39 L425.40,131.55 L426.24,131.15 L427.09,132.32 L427.93,131.93 L428.78,132.14 L429.62,131.66 L430.47,132.73 L431.31,132.86 L432.16,132.49 L433.00,132.79 L433.85,132.97 L434.69,133.22 L435.54,133.03 L436.38,133.58 L437.23,133.05 L438.07,132.99 L438.92,133.08 L439.76,132.51 L440.61,133.07 L441.45,133.65 L442.30,133.46 L443.14,133.17 L443.99,133.55 L444.83,132.86 L445.68,133.41 L446.52,133.67 L447.37,133.75 L448.21,133.32 L449.06,133.85 L449.90,134.15 L450.75,133.48 L451.59,133.84 L452.44,133.17 L453.28,133.06 L454.12,133.84 L454.97,133.68 L455.81,133.74 L456.66,133.51 L457.50,133.61 L458.35,133.95 L459.20,134.23 L460.04,133.66 L460.88,133.23 L461.73,134.12 L462.58,133.92 L463.42,133.95 L464.26,133.80 L465.11,134.45 L465.96,133.78 L466.80,133.92 L467.64,133.21 L468.49,133.60 L469.34,133.57 L470.18,133.77 L471.02,133.88 L471.87,133.55 L472.72,134.30 L473.56,133.46 L474.41,133.65 L475.25,133.86 L476.10,133.41 L476.94,133.96 L477.79,133.98 L478.63,133.70 L479.48,134.36 L480.32,133.81 L481.17,133.87 L482.01,133.50 L482.86,133.29 L483.70,133.60 L484.55,133.69 L485.39,133.65 L486.24,134.02 L487.08,133.07 L487.93,133.44 L488.77,133.23 L489.62,134.18 L490.46,133.61 L491.31,133.62 L492.15,133.45 L493.00,134.05 L493.84,133.65 L494.69,133.84 L495.53,133.16 L496.38,134.12 L497.22,133.88 L498.07,133.93 L498.91,134.13 L499.75,133.70 L500.60,133.71" fill="none" stroke="#dcaa80" stroke-width="3.0" stroke-linejoin="round"/>
<path d="M331.60,134.30 L332.45,134.54 L333.29,134.60 L334.14,134.67 L334.98,134.28 L335.83,134.49 L336.67,134.08 L337.52,133.99 L338.36,134.57 L339.21,134.37 L340.05,133.89 L340.90,134.11 L341.74,134.35 L342.59,134.80 L343.43,134.63 L344.28,134.54 L345.12,133.75 L345.97,134.24 L346.81,134.40 L347.66,134.36 L348.50,134.35 L349.35,134.14 L350.19,134.72 L351.04,134.61 L351.88,134.12 L352.73,133.84 L353.57,134.72 L354.42,133.92 L355.26,134.42 L356.11,134.61 L356.95,133.73 L357.80,134.08 L358.64,133.86 L359.49,134.09 L360.33,134.00 L361.18,134.46 L362.02,134.02 L362.87,133.81 L363.71,134.11 L364.56,133.65 L365.40,133.59 L366.25,134.32 L367.09,133.36 L367.94,133.41 L368.78,133.52 L369.62,133.14 L370.47,132.76 L371.31,133.65 L372.16,133.03 L373.00,133.03 L373.85,133.00 L374.70,132.74 L375.54,132.62 L376.38,132.89 L377.23,133.46 L378.08,132.85 L378.92,132.74 L379.77,131.93 L380.61,132.24 L381.46,131.75 L382.30,132.18 L383.15,131.71 L383.99,131.61 L384.84,131.39 L385.68,131.04 L386.53,130.54 L387.37,130.94 L388.22,130.11 L389.06,129.92 L389.91,129.91 L390.75,129.51 L391.60,129.50 L392.44,129.42 L393.29,128.87 L394.13,128.52 L394.98,128.13 L395.82,128.03 L396.67,126.86 L397.51,127.17 L398.36,126.42 L399.20,125.98 L400.05,126.02 L400.89,125.59 L401.74,125.59 L402.58,125.49 L403.43,124.24 L404.27,124.75 L405.12,125.24 L405.96,124.85 L406.81,125.03 L407.65,124.70 L408.50,124.40 L409.34,124.72 L410.19,125.56 L411.03,125.98 L411.88,125.85 L412.72,126.39 L413.57,126.96 L414.41,126.78 L415.25,127.62 L416.10,128.62 L416.95,129.19 L417.79,128.88 L418.63,129.83 L419.48,129.47 L420.33,129.71 L421.17,129.59 L422.01,130.83 L422.86,130.70 L423.71,131.76 L424.55,131.39 L425.40,131.55 L426.24,131.15 L427.09,132.32 L427.93,131.93 L428.78,132.14 L429.62,131.66 L430.47,132.73 L431.31,132.86 L432.16,132.49 L433.00,132.79 L433.85,132.97 L434.69,133.22 L435.54,133.03 L436.38,133.58 L437.23,133.05 L438.07,132.99 L438.92,133.08 L439.76,132.51 L440.61,133.07 L441.45,133.65 L442.30,133.46 L443.14,133.17 L443.99,133.55 L444.83,132.86 L445.68,133.41 L446.52,133.67 L447.37,133.75 L448.21,133.32 L449.06,133.85 L449.90,134.15 L450.75,133.48 L451.59,133.84 L452.44,133.17 L453.28,133.06 L454.12,133.84 L454.97,133.68 L455.81,133.74 L456.66,133.51 L457.50,133.61 L458.35,133.95 L459.20,134.23 L460.04,133.66 L460.88,133.23 L461.73,134.12 L462.58,133.92 L463.42,133.95 L464.26,133.80 L465.11,134.45 L465.96,133.78 L466.80,133.92 L467.64,133.21 L468.49,133.60 L469.34,133.57 L470.18,133.77 L471.02,133.88 L471.87,133.55 L472.72,134.30 L473.56,133.46 L474.41,133.65 L475.25,133.86 L476.10,133.41 L476.94,133.96 L477.79,133.98 L478.63,133.70 L479.48,134.36 L480.32,133.81 L481.17,133.87 L482.01,133.50 L482.86,133.29 L483.70,133.60 L484.55,133.69 L485.39,133.65 L486.24,134.02 L487.08,133.07 L487.93,133.44 L488.77,133.23 L489.62,134.18 L490.46,133.61 L491.31,133.62 L492.15,133.45 L493.00,134.05 L493.84,133.65 L494.69,133.84 L495.53,133.16 L496.38,134.12 L497.22,133.88 L498.07,133.93 L498.91,134.13 L499.75,133.70 L500.60,133.71" fill="none" stroke="#fff" stroke-opacity="0.75" stroke-width="1.1" stroke-dasharray="1.7,1.1"/>
<path d="M331.60,155.73 L332.45,155.63 L333.29,155.42 L334.14,155.49 L334.98,155.31 L335.83,155.66 L336.67,155.71 L337.52,155.42 L338.36,155.97 L339.21,154.92 L340.05,155.30 L340.90,155.87 L341.74,155.21 L342.59,154.83 L343.43,155.72 L344.28,155.44 L345.12,154.90 L345.97,155.47 L346.81,154.91 L347.66,154.79 L348.50,155.13 L349.35,155.01 L350.19,154.80 L351.04,154.99 L351.88,154.77 L352.73,155.07 L353.57,155.01 L354.42,155.22 L355.26,154.82 L356.11,154.53 L356.95,154.50 L357.80,154.79 L358.64,155.28 L359.49,155.04 L360.33,154.55 L361.18,154.98 L362.02,154.30 L362.87,154.91 L363.71,154.44 L364.56,154.73 L365.40,154.63 L366.25,154.29 L367.09,154.41 L367.94,153.92 L368.78,154.14 L369.62,154.41 L370.47,155.22 L371.31,154.11 L372.16,153.82 L373.00,153.38 L373.85,153.89 L374.70,152.94 L375.54,153.07 L376.38,153.27 L377.23,152.64 L378.08,153.30 L378.92,152.99 L379.77,152.30 L380.61,152.10 L381.46,151.65 L382.30,151.40 L383.15,151.70 L383.99,151.50 L384.84,151.14 L385.68,150.82 L386.53,150.26 L387.37,150.21 L388.22,149.32 L389.06,149.41 L389.91,149.48 L390.75,149.04 L391.60,148.11 L392.44,147.73 L393.29,147.83 L394.13,147.53 L394.98,146.12 L395.82,146.03 L396.67,145.82 L397.51,145.73 L398.36,144.76 L399.20,144.88 L400.05,144.32 L400.89,144.89 L401.74,144.14 L402.58,143.86 L403.43,143.76 L404.27,144.22 L405.12,144.25 L405.96,143.95 L406.81,144.66 L407.65,144.56 L408.50,145.16 L409.34,145.47 L410.19,145.94 L411.03,146.63 L411.88,147.04 L412.72,147.99 L413.57,148.55 L414.41,148.70 L415.25,148.88 L416.10,149.88 L416.95,149.42 L417.79,149.82 L418.63,150.97 L419.48,151.28 L420.33,151.68 L421.17,151.60 L422.01,151.55 L422.86,152.02 L423.71,152.56 L424.55,152.36 L425.40,152.57 L426.24,152.53 L427.09,152.76 L427.93,153.50 L428.78,153.52 L429.62,153.15 L430.47,153.28 L431.31,153.53 L432.16,153.95 L433.00,153.52 L433.85,153.89 L434.69,153.36 L435.54,153.69 L436.38,154.25 L437.23,154.45 L438.07,153.88 L438.92,154.03 L439.76,154.55 L440.61,154.22 L441.45,154.21 L442.30,154.56 L443.14,154.49 L443.99,154.80 L444.83,154.72 L445.68,154.33 L446.52,154.49 L447.37,154.53 L448.21,154.16 L449.06,154.29 L449.90,154.89 L450.75,154.13 L451.59,154.93 L452.44,154.73 L453.28,154.61 L454.12,154.82 L454.97,154.82 L455.81,155.05 L456.66,154.57 L457.50,154.63 L458.35,154.63 L459.20,155.28 L460.04,155.01 L460.88,154.45 L461.73,154.63 L462.58,154.53 L463.42,154.75 L464.26,154.81 L465.11,155.44 L465.96,154.21 L466.80,155.07 L467.64,154.90 L468.49,154.56 L469.34,154.73 L470.18,154.62 L471.02,154.79 L471.87,155.08 L472.72,154.32 L473.56,155.18 L474.41,154.67 L475.25,155.23 L476.10,154.91 L476.94,155.16 L477.79,154.95 L478.63,155.11 L479.48,154.80 L480.32,154.53 L481.17,154.99 L482.01,155.00 L482.86,155.42 L483.70,154.18 L484.55,154.72 L485.39,155.10 L486.24,154.40 L487.08,154.71 L487.93,155.42 L488.77,155.20 L489.62,154.51 L490.46,155.20 L491.31,155.13 L492.15,155.00 L493.00,154.88 L493.84,154.84 L494.69,154.50 L495.53,154.61 L496.38,154.98 L497.22,154.80 L498.07,155.31 L498.91,154.65 L499.75,154.03 L500.60,154.65" fill="none" stroke="#b6a786" stroke-width="3.0" stroke-linejoin="round"/>
<path d="M331.60,155.73 L332.45,155.63 L333.29,155.42 L334.14,155.49 L334.98,155.31 L335.83,155.66 L336.67,155.71 L337.52,155.42 L338.36,155.97 L339.21,154.92 L340.05,155.30 L340.90,155.87 L341.74,155.21 L342.59,154.83 L343.43,155.72 L344.28,155.44 L345.12,154.90 L345.97,155.47 L346.81,154.91 L347.66,154.79 L348.50,155.13 L349.35,155.01 L350.19,154.80 L351.04,154.99 L351.88,154.77 L352.73,155.07 L353.57,155.01 L354.42,155.22 L355.26,154.82 L356.11,154.53 L356.95,154.50 L357.80,154.79 L358.64,155.28 L359.49,155.04 L360.33,154.55 L361.18,154.98 L362.02,154.30 L362.87,154.91 L363.71,154.44 L364.56,154.73 L365.40,154.63 L366.25,154.29 L367.09,154.41 L367.94,153.92 L368.78,154.14 L369.62,154.41 L370.47,155.22 L371.31,154.11 L372.16,153.82 L373.00,153.38 L373.85,153.89 L374.70,152.94 L375.54,153.07 L376.38,153.27 L377.23,152.64 L378.08,153.30 L378.92,152.99 L379.77,152.30 L380.61,152.10 L381.46,151.65 L382.30,151.40 L383.15,151.70 L383.99,151.50 L384.84,151.14 L385.68,150.82 L386.53,150.26 L387.37,150.21 L388.22,149.32 L389.06,149.41 L389.91,149.48 L390.75,149.04 L391.60,148.11 L392.44,147.73 L393.29,147.83 L394.13,147.53 L394.98,146.12 L395.82,146.03 L396.67,145.82 L397.51,145.73 L398.36,144.76 L399.20,144.88 L400.05,144.32 L400.89,144.89 L401.74,144.14 L402.58,143.86 L403.43,143.76 L404.27,144.22 L405.12,144.25 L405.96,143.95 L406.81,144.66 L407.65,144.56 L408.50,145.16 L409.34,145.47 L410.19,145.94 L411.03,146.63 L411.88,147.04 L412.72,147.99 L413.57,148.55 L414.41,148.70 L415.25,148.88 L416.10,149.88 L416.95,149.42 L417.79,149.82 L418.63,150.97 L419.48,151.28 L420.33,151.68 L421.17,151.60 L422.01,151.55 L422.86,152.02 L423.71,152.56 L424.55,152.36 L425.40,152.57 L426.24,152.53 L427.09,152.76 L427.93,153.50 L428.78,153.52 L429.62,153.15 L430.47,153.28 L431.31,153.53 L432.16,153.95 L433.00,153.52 L433.85,153.89 L434.69,153.36 L435.54,153.69 L436.38,154.25 L437.23,154.45 L438.07,153.88 L438.92,154.03 L439.76,154.55 L440.61,154.22 L441.45,154.21 L442.30,154.56 L443.14,154.49 L443.99,154.80 L444.83,154.72 L445.68,154.33 L446.52,154.49 L447.37,154.53 L448.21,154.16 L449.06,154.29 L449.90,154.89 L450.75,154.13 L451.59,154.93 L452.44,154.73 L453.28,154.61 L454.12,154.82 L454.97,154.82 L455.81,155.05 L456.66,154.57 L457.50,154.63 L458.35,154.63 L459.20,155.28 L460.04,155.01 L460.88,154.45 L461.73,154.63 L462.58,154.53 L463.42,154.75 L464.26,154.81 L465.11,155.44 L465.96,154.21 L466.80,155.07 L467.64,154.90 L468.49,154.56 L469.34,154.73 L470.18,154.62 L471.02,154.79 L471.87,155.08 L472.72,154.32 L473.56,155.18 L474.41,154.67 L475.25,155.23 L476.10,154.91 L476.94,155.16 L477.79,154.95 L478.63,155.11 L479.48,154.80 L480.32,154.53 L481.17,154.99 L482.01,155.00 L482.86,155.42 L483.70,154.18 L484.55,154.72 L485.39,155.10 L486.24,154.40 L487.08,154.71 L487.93,155.42 L488.77,155.20 L489.62,154.51 L490.46,155.20 L491.31,155.13 L492.15,155.00 L493.00,154.88 L493.84,154.84 L494.69,154.50 L495.53,154.61 L496.38,154.98 L497.22,154.80 L498.07,155.31 L498.91,154.65 L499.75,154.03 L500.60,154.65" fill="none" stroke="#fff" stroke-opacity="0.75" stroke-width="1.1" stroke-dasharray="1.7,1.1"/>
<text x="335.4" y="44.4" font-size="10.5" text-anchor="start" fill="#3f8f3f" stroke="#3f8f3f" stroke-width="0.12" >190V</text>
<text x="335.4" y="66.6" font-size="10.5" text-anchor="start" fill="#5fa84a" stroke="#5fa84a" stroke-width="0.12" >180V</text>
<text x="335.4" y="89.0" font-size="10.5" text-anchor="start" fill="#9ccd78" stroke="#9ccd78" stroke-width="0.12" >170V</text>
<text x="335.4" y="110.2" font-size="10.5" text-anchor="start" fill="#f5a850" stroke="#f5a850" stroke-width="0.12" >160V</text>
<text x="335.4" y="131.6" font-size="10.5" text-anchor="start" fill="#d0885a" stroke="#d0885a" stroke-width="0.12" >150V</text>
<text x="335.4" y="152.0" font-size="10.5" text-anchor="start" fill="#8f7a50" stroke="#8f7a50" stroke-width="0.12" >LIG</text>
<line x1="403.8" y1="151.6" x2="416.3" y2="18.5" stroke="#111" stroke-width="1.1"/>
<path d="M416.4,14.0 L413.7,19.2 L419.0,19.2 Z" fill="#111"/>
<text x="400.9" y="24.0" font-size="10" text-anchor="middle" fill="#111" stroke="#111" stroke-width="0.25" >2D</text>
<rect x="331.6" y="7.1" width="169.7" height="155.70000000000002" fill="none" stroke="#5e5e5e" stroke-width="1.5"/>
<line x1="331.60" y1="162.8" x2="331.60" y2="165.3" stroke="#5e5e5e" stroke-width="1.5"/>
<line x1="352.73" y1="162.8" x2="352.73" y2="164.3" stroke="#5e5e5e" stroke-width="1.5"/>
<line x1="373.85" y1="162.8" x2="373.85" y2="165.3" stroke="#5e5e5e" stroke-width="1.5"/>
<line x1="394.98" y1="162.8" x2="394.98" y2="164.3" stroke="#5e5e5e" stroke-width="1.5"/>
<line x1="416.10" y1="162.8" x2="416.10" y2="165.3" stroke="#5e5e5e" stroke-width="1.5"/>
<line x1="437.23" y1="162.8" x2="437.23" y2="164.3" stroke="#5e5e5e" stroke-width="1.5"/>
<line x1="458.35" y1="162.8" x2="458.35" y2="165.3" stroke="#5e5e5e" stroke-width="1.5"/>
<line x1="479.48" y1="162.8" x2="479.48" y2="164.3" stroke="#5e5e5e" stroke-width="1.5"/>
<line x1="500.60" y1="162.8" x2="500.60" y2="165.3" stroke="#5e5e5e" stroke-width="1.5"/>
<text x="331.60" y="177.0" font-size="11" text-anchor="middle" fill="#222" stroke="#222" stroke-width="0.25" >2500</text>
<text x="373.85" y="177.0" font-size="11" text-anchor="middle" fill="#222" stroke="#222" stroke-width="0.25" >2600</text>
<text x="416.10" y="177.0" font-size="11" text-anchor="middle" fill="#222" stroke="#222" stroke-width="0.25" >2700</text>
<text x="458.35" y="177.0" font-size="11" text-anchor="middle" fill="#222" stroke="#222" stroke-width="0.25" >2800</text>
<text x="500.60" y="177.0" font-size="11" text-anchor="middle" fill="#222" stroke="#222" stroke-width="0.25" >2900</text>
<text x="416.5" y="190.4" font-size="11.8" text-anchor="middle" fill="#222" stroke="#222" stroke-width="0.25">Raman shift (cm<tspan font-size="7.5" dy="-4.5">-1</tspan><tspan dy="4.5">)</tspan></text>
<text transform="translate(321.1,84.9) rotate(-90)" x="0" y="0" font-size="11.5" text-anchor="middle" fill="#222" stroke="#222" stroke-width="0.25">Intensity (arb. units)</text>
<text x="309.4" y="18.8" font-size="19.8" font-weight="bold" fill="#000" stroke="#000" stroke-width="0.25">b</text>
<path d="M576.00,83.30 L625.40,83.30 L625.90,80.30 L626.40,17.00 L626.80,29.00 L627.00,45.05 L627.40,69.32 L627.80,75.66 L628.20,77.46 L628.60,77.52 L629.00,76.42 L629.40,75.04 L629.80,74.05 L630.20,73.09 L630.60,72.21 L631.00,71.55 L631.40,71.30 L631.80,71.45 L632.20,71.82 L632.60,72.24 L633.00,72.58 L633.40,72.92 L633.80,73.25 L634.20,73.47 L634.60,73.47 L635.00,73.28 L635.40,72.98 L635.80,72.66 L636.20,72.40 L636.60,72.30 L637.00,72.31 L637.40,72.34 L637.80,72.39 L638.20,72.44 L638.60,72.50 L639.00,72.57 L639.40,72.63 L639.80,72.68 L640.20,72.72 L640.60,72.76 L641.00,72.80 L641.40,72.84 L641.80,72.88 L642.20,72.92 L642.60,72.95 L643.00,72.99 L643.40,73.03 L643.80,73.07 L644.20,73.10 L644.60,73.14 L645.00,73.18 L645.40,73.21 L645.80,73.25 L646.20,73.28 L646.60,73.32 L647.00,73.35 L647.40,73.39 L647.80,73.42 L648.20,73.45 L648.60,73.48 L649.00,73.51 L649.40,73.54 L649.80,73.57 L650.20,73.60 L650.60,73.63 L651.00,73.66 L651.40,73.69 L651.80,73.72 L652.20,73.74 L652.60,73.77 L653.00,73.79 L653.40,73.81 L653.80,73.84 L654.20,73.86 L654.60,73.88 L655.00,73.94 L655.50,73.96 L656.00,73.93 L656.50,73.81 L657.00,74.17 L657.50,73.85 L658.00,74.07 L658.50,73.93 L659.00,73.81 L659.50,74.21 L660.00,73.63 L660.50,73.89 L661.00,74.10 L661.50,73.99 L662.00,74.17 L662.50,74.05 L663.00,74.01 L663.50,74.41 L664.00,74.07 L664.50,74.09 L665.00,73.96 L665.50,74.02 L666.00,74.24 L666.50,74.24 L667.00,74.17 L667.50,74.08 L668.00,74.29 L668.50,73.91 L669.00,73.55 L669.50,72.25 L670.00,72.93 L670.50,74.13 L671.00,74.16 L671.50,74.15 L672.00,74.55 L672.50,74.41 L673.00,74.49 L673.50,74.32 L674.00,74.47 L674.50,74.46 L675.00,74.53 L675.50,74.72 L676.00,74.34 L676.50,74.42 L677.00,74.39 L677.50,73.88 L678.00,74.21 L678.50,74.43 L679.00,74.54 L679.50,74.37 L680.00,74.64 L680.50,74.67 L681.00,74.43 L681.50,74.71 L682.00,74.77 L682.50,74.59 L683.00,74.39 L683.50,74.77 L684.00,74.53 L684.50,74.51 L685.00,74.60 L685.50,74.51 L686.00,74.76 L686.50,74.73 L687.00,74.81 L687.50,74.72 L688.00,74.53 L688.50,74.64 L689.00,74.80 L689.50,74.62 L690.00,75.13 L690.50,74.67 L691.00,74.63 L691.50,74.90 L692.00,74.85 L692.50,74.75 L693.00,74.73 L693.50,74.84 L694.00,74.91 L694.50,74.91 L695.00,74.76 L695.50,74.88 L696.00,74.96 L696.50,74.96 L697.00,74.39 L697.50,74.73 L698.00,74.76 L698.50,74.85 L699.00,74.92 L699.50,75.05 L700.00,75.01 L700.50,74.91 L701.00,74.95 L701.50,75.22 L702.00,74.87 L702.50,75.02 L703.00,75.22 L703.50,75.05 L704.00,74.70 L704.50,75.08 L705.00,74.98 L705.50,75.03 L706.00,75.21 L706.50,75.14 L707.00,75.04 L707.50,75.22 L708.00,75.17 L708.50,75.13 L709.00,75.17 L709.50,75.17 L710.00,75.10 L710.50,75.09 L711.00,75.17 L711.50,75.04 L712.00,75.00 L712.50,75.40 L713.00,75.18 L713.50,75.22 L714.00,75.22 L714.50,75.25 L715.00,75.26 L715.50,75.28 L716.00,75.16 L716.50,75.43 L717.00,75.20 L717.50,75.47 L718.00,75.04 L718.50,75.18 L719.00,75.50 L719.50,75.34 L720.00,75.27 L720.50,75.44 L721.00,75.24 L721.50,75.42 L722.00,75.09 L722.50,75.36 L723.00,75.34 L723.50,75.53 L724.00,75.60 L724.50,75.35 L725.00,75.73 L725.50,75.41 L726.00,75.20 L726.50,75.16 L727.00,75.76 L727.50,75.53 L728.00,75.46 L728.50,75.45 L729.00,75.41 L729.50,75.79 L730.00,75.59 L730.50,75.88 L731.00,75.59 L731.50,75.28 L732.00,75.77 L732.50,75.60 L733.00,75.63 L733.50,75.92 L734.00,75.65 L734.50,75.88 L735.00,75.71 L735.50,75.61 L736.00,75.81 L736.50,75.66 L737.00,75.94 L737.50,75.91 L738.00,75.79 L738.50,75.88 L739.00,75.89 L739.50,75.77 L740.00,75.96 L740.50,75.80 L741.00,75.94 L741.50,75.72 L742.00,75.89 L742.50,75.95 L743.00,75.78 L743.50,75.84 L744.00,75.84 L744.50,76.04 L745.00,75.83 L745.50,76.02 L746.00,76.19 L746.50,76.03 L747.00,75.75 L747.50,76.02 L748.00,76.17 L748.50,75.98 L749.00,76.20 L749.50,76.14 L750.00,76.12 L750.50,76.03 L751.00,76.00 L751.50,76.05 L752.00,76.11 L752.50,76.19 L753.00,76.19 L753.50,76.09 L754.00,76.16 L754.50,76.22 L755.00,75.93 L755.50,76.07 L756.00,76.07 L756.50,76.17 L757.00,76.17 L757.50,76.19 L758.00,76.11 L758.50,76.35 L759.00,76.30 L759.50,76.03 L760.00,76.29 L760.50,76.13 L761.00,76.56 L761.50,76.25 L762.00,76.27 L762.50,76.35 L763.00,76.32 L763.50,76.35 L764.00,76.61 L764.50,76.42 L765.00,76.52 L765.50,76.58 L766.00,76.27 L766.50,76.68 L767.00,76.55 L767.50,76.60 L768.00,76.34 L768.50,76.60 L769.00,76.55 L769.50,76.42 L770.00,76.85 L770.50,76.61 L771.00,76.50 L771.50,76.57 L772.00,76.69 L772.50,76.74 L773.00,76.67 L773.50,76.77 L774.00,76.82 L774.50,76.43 L775.00,76.55 L775.50,76.49 L776.00,76.66 L776.50,76.87 L777.00,76.77 L777.50,76.52 L778.00,76.65 L778.50,76.86 L779.00,76.64 L779.50,76.71 L780.00,76.78 L780.50,76.48 L781.00,76.88 L781.50,76.82 L782.00,76.87 L782.50,76.65 L783.00,76.69 L783.50,76.73 L784.00,76.87 L784.50,76.85 L785.00,76.87 L785.50,77.13 L786.00,77.07 L786.50,76.78 L787.00,76.80" fill="none" stroke="#f0201e" stroke-width="1.2" stroke-linejoin="round"/>
<path d="M576.00,155.90 L625.40,155.90 L625.90,152.90 L626.40,89.00 L626.80,101.00 L627.00,116.86 L627.40,140.86 L627.80,147.16 L628.20,148.96 L628.60,149.03 L629.00,147.97 L629.40,146.58 L629.80,145.48 L630.20,144.31 L630.60,143.19 L631.00,142.34 L631.40,142.00 L631.80,142.15 L632.20,142.51 L632.60,142.93 L633.00,143.28 L633.40,143.66 L633.80,144.02 L634.20,144.26 L634.60,144.28 L635.00,144.15 L635.40,143.95 L635.80,143.74 L636.20,143.57 L636.60,143.50 L637.00,143.51 L637.40,143.54 L637.80,143.59 L638.20,143.64 L638.60,143.71 L639.00,143.77 L639.40,143.83 L639.80,143.88 L640.20,143.92 L640.60,143.96 L641.00,143.99 L641.40,144.03 L641.80,144.07 L642.20,144.11 L642.60,144.14 L643.00,144.18 L643.40,144.21 L643.80,144.25 L644.20,144.29 L644.60,144.32 L645.00,144.35 L645.40,144.39 L645.80,144.42 L646.20,144.46 L646.60,144.49 L647.00,144.52 L647.40,144.55 L647.80,144.58 L648.20,144.61 L648.60,144.64 L649.00,144.67 L649.40,144.70 L649.80,144.72 L650.20,144.75 L650.60,144.78 L651.00,144.80 L651.40,144.83 L651.80,144.85 L652.20,144.87 L652.60,144.89 L653.00,144.91 L653.40,144.93 L653.80,144.95 L654.20,144.97 L654.60,144.98 L655.00,145.26 L655.50,144.97 L656.00,145.23 L656.50,145.28 L657.00,144.97 L657.50,145.02 L658.00,145.09 L658.50,144.96 L659.00,144.95 L659.50,145.05 L660.00,145.25 L660.50,145.06 L661.00,145.11 L661.50,145.09 L662.00,144.96 L662.50,145.40 L663.00,144.84 L663.50,145.10 L664.00,145.30 L664.50,145.02 L665.00,145.33 L665.50,145.44 L666.00,145.13 L666.50,145.30 L667.00,145.12 L667.50,145.37 L668.00,145.32 L668.50,145.25 L669.00,143.86 L669.50,140.09 L670.00,142.32 L670.50,145.08 L671.00,145.19 L671.50,145.43 L672.00,145.47 L672.50,145.20 L673.00,145.62 L673.50,145.45 L674.00,145.50 L674.50,145.33 L675.00,145.48 L675.50,145.53 L676.00,145.45 L676.50,145.52 L677.00,145.20 L677.50,145.73 L678.00,145.37 L678.50,145.23 L679.00,145.42 L679.50,145.45 L680.00,145.67 L680.50,145.46 L681.00,145.65 L681.50,145.48 L682.00,145.97 L682.50,145.73 L683.00,145.95 L683.50,145.52 L684.00,145.78 L684.50,145.55 L685.00,145.79 L685.50,145.82 L686.00,145.49 L686.50,145.57 L687.00,145.58 L687.50,145.54 L688.00,145.67 L688.50,145.64 L689.00,145.58 L689.50,145.83 L690.00,145.90 L690.50,145.64 L691.00,145.76 L691.50,145.86 L692.00,145.83 L692.50,145.78 L693.00,146.01 L693.50,146.03 L694.00,146.02 L694.50,145.90 L695.00,146.24 L695.50,146.21 L696.00,145.90 L696.50,145.96 L697.00,146.16 L697.50,145.88 L698.00,146.07 L698.50,146.03 L699.00,145.93 L699.50,146.01 L700.00,145.82 L700.50,145.99 L701.00,145.78 L701.50,146.43 L702.00,146.33 L702.50,146.30 L703.00,146.17 L703.50,146.29 L704.00,146.34 L704.50,146.31 L705.00,146.31 L705.50,146.05 L706.00,146.26 L706.50,146.13 L707.00,146.04 L707.50,146.06 L708.00,146.31 L708.50,146.41 L709.00,146.06 L709.50,146.54 L710.00,146.51 L710.50,146.24 L711.00,146.24 L711.50,146.31 L712.00,146.48 L712.50,146.29 L713.00,146.19 L713.50,146.42 L714.00,146.07 L714.50,146.42 L715.00,146.58 L715.50,146.46 L716.00,146.55 L716.50,146.52 L717.00,146.56 L717.50,146.49 L718.00,146.35 L718.50,146.45 L719.00,146.49 L719.50,146.70 L720.00,146.77 L720.50,146.60 L721.00,146.43 L721.50,146.45 L722.00,146.54 L722.50,146.79 L723.00,146.64 L723.50,146.60 L724.00,146.50 L724.50,146.76 L725.00,146.68 L725.50,146.64 L726.00,146.68 L726.50,146.93 L727.00,146.66 L727.50,146.95 L728.00,146.90 L728.50,146.73 L729.00,146.87 L729.50,146.73 L730.00,146.63 L730.50,146.73 L731.00,146.64 L731.50,146.87 L732.00,146.81 L732.50,146.90 L733.00,146.95 L733.50,146.37 L734.00,146.90 L734.50,146.59 L735.00,146.90 L735.50,146.75 L736.00,146.91 L736.50,147.11 L737.00,146.67 L737.50,146.96 L738.00,146.93 L738.50,146.67 L739.00,147.07 L739.50,146.99 L740.00,146.92 L740.50,146.89 L741.00,147.50 L741.50,146.97 L742.00,146.76 L742.50,146.90 L743.00,146.98 L743.50,146.95 L744.00,146.95 L744.50,146.73 L745.00,146.85 L745.50,146.55 L746.00,146.25 L746.50,146.18 L747.00,146.14 L747.50,146.29 L748.00,146.29 L748.50,146.30 L749.00,146.53 L749.50,146.75 L750.00,147.19 L750.50,146.93 L751.00,147.20 L751.50,147.31 L752.00,147.10 L752.50,147.30 L753.00,147.32 L753.50,147.24 L754.00,147.40 L754.50,147.49 L755.00,147.51 L755.50,147.33 L756.00,147.40 L756.50,147.73 L757.00,147.22 L757.50,147.44 L758.00,147.55 L758.50,147.45 L759.00,147.54 L759.50,147.47 L760.00,147.57 L760.50,147.66 L761.00,147.45 L761.50,147.53 L762.00,147.50 L762.50,147.46 L763.00,147.53 L763.50,147.37 L764.00,147.67 L764.50,147.82 L765.00,147.83 L765.50,147.78 L766.00,147.46 L766.50,147.84 L767.00,147.52 L767.50,147.63 L768.00,147.92 L768.50,147.50 L769.00,147.80 L769.50,147.73 L770.00,147.67 L770.50,147.57 L771.00,147.78 L771.50,147.66 L772.00,147.90 L772.50,147.94 L773.00,147.56 L773.50,147.70 L774.00,147.74 L774.50,147.62 L775.00,147.64 L775.50,147.84 L776.00,147.80 L776.50,147.60 L777.00,147.78 L777.50,147.95 L778.00,147.70 L778.50,147.76 L779.00,148.14 L779.50,148.11 L780.00,147.69 L780.50,147.74 L781.00,148.01 L781.50,147.79 L782.00,147.94 L782.50,147.92 L783.00,148.08 L783.50,147.63 L784.00,147.69 L784.50,147.85 L785.00,148.20 L785.50,148.03 L786.00,147.81 L786.50,148.16 L787.00,148.20" fill="none" stroke="#111" stroke-width="1.2" stroke-linejoin="round"/>
<text x="629.8" y="21.0" font-size="10" fill="#222" stroke="#222" stroke-width="0.25">C 1<tspan font-style="italic">s</tspan></text>
<text x="662.5" y="69.1" font-size="10" fill="#222" stroke="#222" stroke-width="0.25">O 1<tspan font-style="italic">s</tspan></text>
<text x="780.2" y="71.9" font-size="10.2" text-anchor="end" fill="#f41c1c" stroke="#f41c1c" stroke-width="0.12" >F-LIG-190V</text>
<text x="765.2" y="141.8" font-size="10" text-anchor="end" fill="#222" stroke="#222" stroke-width="0.25" >LIG</text>
<rect x="576.0" y="7.1" width="211.29999999999995" height="155.70000000000002" fill="none" stroke="#5e5e5e" stroke-width="1.5"/>
<line x1="576.00" y1="162.8" x2="576.00" y2="165.3" stroke="#5e5e5e" stroke-width="1.5"/>
<line x1="593.60" y1="162.8" x2="593.60" y2="164.3" stroke="#5e5e5e" stroke-width="1.5"/>
<line x1="611.20" y1="162.8" x2="611.20" y2="165.3" stroke="#5e5e5e" stroke-width="1.5"/>
<line x1="628.80" y1="162.8" x2="628.80" y2="164.3" stroke="#5e5e5e" stroke-width="1.5"/>
<line x1="646.40" y1="162.8" x2="646.40" y2="165.3" stroke="#5e5e5e" stroke-width="1.5"/>
<line x1="664.00" y1="162.8" x2="664.00" y2="164.3" stroke="#5e5e5e" stroke-width="1.5"/>
<line x1="681.60" y1="162.8" x2="681.60" y2="165.3" stroke="#5e5e5e" stroke-width="1.5"/>
<line x1="699.20" y1="162.8" x2="699.20" y2="164.3" stroke="#5e5e5e" stroke-width="1.5"/>
<line x1="716.80" y1="162.8" x2="716.80" y2="165.3" stroke="#5e5e5e" stroke-width="1.5"/>
<line x1="734.40" y1="162.8" x2="734.40" y2="164.3" stroke="#5e5e5e" stroke-width="1.5"/>
<line x1="752.00" y1="162.8" x2="752.00" y2="165.3" stroke="#5e5e5e" stroke-width="1.5"/>
<line x1="769.60" y1="162.8" x2="769.60" y2="164.3" stroke="#5e5e5e" stroke-width="1.5"/>
<line x1="787.20" y1="162.8" x2="787.20" y2="165.3" stroke="#5e5e5e" stroke-width="1.5"/>
<text x="576.00" y="177.5" font-size="11" text-anchor="middle" fill="#222" stroke="#222" stroke-width="0.25" >0</text>
<text x="611.20" y="177.5" font-size="11" text-anchor="middle" fill="#222" stroke="#222" stroke-width="0.25" >200</text>
<text x="646.40" y="177.5" font-size="11" text-anchor="middle" fill="#222" stroke="#222" stroke-width="0.25" >400</text>
<text x="681.60" y="177.5" font-size="11" text-anchor="middle" fill="#222" stroke="#222" stroke-width="0.25" >600</text>
<text x="716.80" y="177.5" font-size="11" text-anchor="middle" fill="#222" stroke="#222" stroke-width="0.25" >800</text>
<text x="752.00" y="177.5" font-size="11" text-anchor="middle" fill="#222" stroke="#222" stroke-width="0.25" >1000</text>
<text x="787.20" y="177.5" font-size="11" text-anchor="middle" fill="#222" stroke="#222" stroke-width="0.25" >1200</text>
<text x="682" y="190.0" font-size="11.6" text-anchor="middle" fill="#222" stroke="#222" stroke-width="0.25" >Binding energy (eV)</text>
<text transform="translate(568.1,85.1) rotate(-90)" x="0" y="0" font-size="11.5" text-anchor="middle" fill="#222" stroke="#222" stroke-width="0.25">Intensity (arb. units)</text>
<text x="552.4" y="18.2" font-size="19.8" font-weight="bold" fill="#000" stroke="#000" stroke-width="0.25">e</text>
<path d="M56.00,218.20 L89.30,241.10 L122.60,287.20 L155.90,298.40 L189.20,311.20 L222.50,336.10" fill="none" stroke="#111" stroke-width="1.1"/>
<path d="M56.00,340.10 L89.30,330.50 L122.60,299.60 L155.90,288.00 L189.20,272.30 L222.50,224.20" fill="none" stroke="#189018" stroke-width="1.1"/>
<circle cx="56.00" cy="218.2" r="3.0" fill="#000"/>
<circle cx="89.30" cy="241.1" r="3.0" fill="#000"/>
<circle cx="122.60" cy="287.2" r="3.0" fill="#000"/>
<circle cx="155.90" cy="298.4" r="3.0" fill="#000"/>
<circle cx="189.20" cy="311.2" r="3.0" fill="#000"/>
<circle cx="222.50" cy="336.1" r="3.0" fill="#000"/>
<path d="M56.00,336.00 L57.12,338.86 L60.18,339.04 L57.81,340.99 L58.59,343.96 L56.00,342.30 L53.41,343.96 L54.19,340.99 L51.82,339.04 L54.88,338.86Z" fill="#189018"/>
<path d="M89.30,326.40 L90.42,329.26 L93.48,329.44 L91.11,331.39 L91.89,334.36 L89.30,332.70 L86.71,334.36 L87.49,331.39 L85.12,329.44 L88.18,329.26Z" fill="#189018"/>
<path d="M122.60,295.50 L123.72,298.36 L126.78,298.54 L124.41,300.49 L125.19,303.46 L122.60,301.80 L120.01,303.46 L120.79,300.49 L118.42,298.54 L121.48,298.36Z" fill="#189018"/>
<path d="M155.90,283.90 L157.02,286.76 L160.08,286.94 L157.71,288.89 L158.49,291.86 L155.90,290.20 L153.31,291.86 L154.09,288.89 L151.72,286.94 L154.78,286.76Z" fill="#189018"/>
<path d="M189.20,268.20 L190.32,271.06 L193.38,271.24 L191.01,273.19 L191.79,276.16 L189.20,274.50 L186.61,276.16 L187.39,273.19 L185.02,271.24 L188.08,271.06Z" fill="#189018"/>
<path d="M222.50,220.10 L223.62,222.96 L226.68,223.14 L224.31,225.09 L225.09,228.06 L222.50,226.40 L219.91,228.06 L220.69,225.09 L218.32,223.14 L221.38,222.96Z" fill="#189018"/>
<line x1="78.9" y1="249.1" x2="53" y2="249.1" stroke="#111" stroke-width="1.0"/>
<path d="M50,249.1 L55.5,247.3 L55.5,250.9 Z" fill="#111"/>
<line x1="203.5" y1="263.9" x2="230.5" y2="263.9" stroke="#189018" stroke-width="1.0"/>
<path d="M233.6,263.9 L228.1,262.1 L228.1,265.7 Z" fill="#189018"/>
<line x1="39.2" y1="205.1" x2="239.4" y2="205.1" stroke="#5e5e5e" stroke-width="1.5"/>
<line x1="39.2" y1="205.1" x2="39.2" y2="365.1" stroke="#5e5e5e" stroke-width="1.5"/>
<line x1="39.2" y1="365.1" x2="239.4" y2="365.1" stroke="#5e5e5e" stroke-width="1.5"/>
<line x1="239.4" y1="205.1" x2="239.4" y2="365.1" stroke="#68bb68" stroke-width="1.9"/>
<line x1="36.400000000000006" y1="365.10" x2="39.2" y2="365.10" stroke="#5e5e5e" stroke-width="1.5"/>
<line x1="37.52" y1="342.20" x2="39.2" y2="342.20" stroke="#5e5e5e" stroke-width="1.5"/>
<line x1="36.400000000000006" y1="319.30" x2="39.2" y2="319.30" stroke="#5e5e5e" stroke-width="1.5"/>
<line x1="37.52" y1="296.40" x2="39.2" y2="296.40" stroke="#5e5e5e" stroke-width="1.5"/>
<line x1="36.400000000000006" y1="273.50" x2="39.2" y2="273.50" stroke="#5e5e5e" stroke-width="1.5"/>
<line x1="37.52" y1="250.60" x2="39.2" y2="250.60" stroke="#5e5e5e" stroke-width="1.5"/>
<line x1="36.400000000000006" y1="227.70" x2="39.2" y2="227.70" stroke="#5e5e5e" stroke-width="1.5"/>
<line x1="37.52" y1="204.80" x2="39.2" y2="204.80" stroke="#5e5e5e" stroke-width="1.5"/>
<text x="33.8" y="369.30" font-size="11.7" text-anchor="end" fill="#222" stroke="#222" stroke-width="0.25" >0.2</text>
<text x="33.8" y="323.50" font-size="11.7" text-anchor="end" fill="#222" stroke="#222" stroke-width="0.25" >0.4</text>
<text x="33.8" y="277.70" font-size="11.7" text-anchor="end" fill="#222" stroke="#222" stroke-width="0.25" >0.6</text>
<text x="33.8" y="231.90" font-size="11.7" text-anchor="end" fill="#222" stroke="#222" stroke-width="0.25" >0.8</text>
<line x1="239.4" y1="364.90" x2="241.08" y2="364.90" stroke="#189018" stroke-width="1.5"/>
<line x1="239.4" y1="348.90" x2="242.20000000000002" y2="348.90" stroke="#189018" stroke-width="1.5"/>
<line x1="239.4" y1="332.90" x2="241.08" y2="332.90" stroke="#189018" stroke-width="1.5"/>
<line x1="239.4" y1="316.90" x2="242.20000000000002" y2="316.90" stroke="#189018" stroke-width="1.5"/>
<line x1="239.4" y1="300.90" x2="241.08" y2="300.90" stroke="#189018" stroke-width="1.5"/>
<line x1="239.4" y1="284.90" x2="242.20000000000002" y2="284.90" stroke="#189018" stroke-width="1.5"/>
<line x1="239.4" y1="268.90" x2="241.08" y2="268.90" stroke="#189018" stroke-width="1.5"/>
<line x1="239.4" y1="252.90" x2="242.20000000000002" y2="252.90" stroke="#189018" stroke-width="1.5"/>
<line x1="239.4" y1="236.90" x2="241.08" y2="236.90" stroke="#189018" stroke-width="1.5"/>
<line x1="239.4" y1="220.90" x2="242.20000000000002" y2="220.90" stroke="#189018" stroke-width="1.5"/>
<line x1="239.4" y1="204.90" x2="241.08" y2="204.90" stroke="#189018" stroke-width="1.5"/>
<text x="244.0" y="353.10" font-size="11.7" text-anchor="start" fill="#189018" stroke="#189018" stroke-width="0.12" >20</text>
<text x="244.0" y="321.10" font-size="11.7" text-anchor="start" fill="#189018" stroke="#189018" stroke-width="0.12" >30</text>
<text x="244.0" y="289.10" font-size="11.7" text-anchor="start" fill="#189018" stroke="#189018" stroke-width="0.12" >40</text>
<text x="244.0" y="257.10" font-size="11.7" text-anchor="start" fill="#189018" stroke="#189018" stroke-width="0.12" >50</text>
<text x="244.0" y="225.10" font-size="11.7" text-anchor="start" fill="#189018" stroke="#189018" stroke-width="0.12" >60</text>
<line x1="56.00" y1="365.1" x2="56.00" y2="367.6" stroke="#5e5e5e" stroke-width="1.5"/>
<line x1="89.30" y1="365.1" x2="89.30" y2="367.6" stroke="#5e5e5e" stroke-width="1.5"/>
<line x1="122.60" y1="365.1" x2="122.60" y2="367.6" stroke="#5e5e5e" stroke-width="1.5"/>
<line x1="155.90" y1="365.1" x2="155.90" y2="367.6" stroke="#5e5e5e" stroke-width="1.5"/>
<line x1="189.20" y1="365.1" x2="189.20" y2="367.6" stroke="#5e5e5e" stroke-width="1.5"/>
<line x1="222.50" y1="365.1" x2="222.50" y2="367.6" stroke="#5e5e5e" stroke-width="1.5"/>
<line x1="39.35" y1="365.1" x2="39.35" y2="366.6" stroke="#5e5e5e" stroke-width="1.5"/>
<line x1="72.65" y1="365.1" x2="72.65" y2="366.6" stroke="#5e5e5e" stroke-width="1.5"/>
<line x1="105.95" y1="365.1" x2="105.95" y2="366.6" stroke="#5e5e5e" stroke-width="1.5"/>
<line x1="139.25" y1="365.1" x2="139.25" y2="366.6" stroke="#5e5e5e" stroke-width="1.5"/>
<line x1="172.55" y1="365.1" x2="172.55" y2="366.6" stroke="#5e5e5e" stroke-width="1.5"/>
<line x1="205.85" y1="365.1" x2="205.85" y2="366.6" stroke="#5e5e5e" stroke-width="1.5"/>
<line x1="239.15" y1="365.1" x2="239.15" y2="366.6" stroke="#5e5e5e" stroke-width="1.5"/>
<text x="56.00" y="380.7" font-size="11.7" text-anchor="middle" fill="#222" stroke="#222" stroke-width="0.25" >LIG</text>
<text x="89.30" y="380.7" font-size="11.7" text-anchor="middle" fill="#222" stroke="#222" stroke-width="0.25" >150</text>
<text x="122.60" y="380.7" font-size="11.7" text-anchor="middle" fill="#222" stroke="#222" stroke-width="0.25" >160</text>
<text x="155.90" y="380.7" font-size="11.7" text-anchor="middle" fill="#222" stroke="#222" stroke-width="0.25" >170</text>
<text x="189.20" y="380.7" font-size="11.7" text-anchor="middle" fill="#222" stroke="#222" stroke-width="0.25" >180</text>
<text x="222.50" y="380.7" font-size="11.7" text-anchor="middle" fill="#222" stroke="#222" stroke-width="0.25" >190</text>
<text x="139.4" y="395.2" font-size="11.9" text-anchor="middle" fill="#222" stroke="#222" stroke-width="0.25" >FJH voltage (V)</text>
<text transform="translate(10.6,285.2) rotate(-90)" font-size="12" text-anchor="middle" fill="#222" stroke="#222" stroke-width="0.25"><tspan font-style="italic">I</tspan><tspan font-size="7.5" dy="2.5">D</tspan><tspan dy="-2.5">/</tspan><tspan font-style="italic">I</tspan><tspan font-size="7.5" dy="2.5">G</tspan></text>
<text transform="translate(270.4,286.6) rotate(-90)" font-size="12" text-anchor="middle" fill="#189018" stroke="#189018" stroke-width="0.12"><tspan font-style="italic">L</tspan><tspan font-size="7.5" dy="2.5">a</tspan><tspan dy="-2.5"> (nm)</tspan></text>
<text x="16.9" y="211.6" font-size="19.8" font-weight="bold" fill="#000" stroke="#000" stroke-width="0.25">c</text>
<path d="M331.80,233.90 L365.00,246.70 L398.20,261.10 L431.40,300.00 L464.60,316.40 L497.80,355.70" fill="none" stroke="#f7870f" stroke-width="1.1"/>
<path d="M331.80,305.00 L365.00,349.20 L398.20,293.40 L431.40,289.40 L464.60,278.20 L497.80,218.20" fill="none" stroke="#111" stroke-width="1.1"/>
<rect x="328.75" y="230.85" width="6.1" height="6.1" fill="#fff" stroke="#f7870f" stroke-width="1.0"/>
<rect x="328.50" y="230.60" width="3.3" height="6.6" fill="#f7870f"/>
<rect x="361.95" y="243.65" width="6.1" height="6.1" fill="#fff" stroke="#f7870f" stroke-width="1.0"/>
<rect x="361.70" y="243.40" width="3.3" height="6.6" fill="#f7870f"/>
<rect x="395.15" y="258.05" width="6.1" height="6.1" fill="#fff" stroke="#f7870f" stroke-width="1.0"/>
<rect x="394.90" y="257.80" width="3.3" height="6.6" fill="#f7870f"/>
<rect x="428.35" y="296.95" width="6.1" height="6.1" fill="#fff" stroke="#f7870f" stroke-width="1.0"/>
<rect x="428.10" y="296.70" width="3.3" height="6.6" fill="#f7870f"/>
<rect x="461.55" y="313.35" width="6.1" height="6.1" fill="#fff" stroke="#f7870f" stroke-width="1.0"/>
<rect x="461.30" y="313.10" width="3.3" height="6.6" fill="#f7870f"/>
<rect x="494.75" y="352.65" width="6.1" height="6.1" fill="#fff" stroke="#f7870f" stroke-width="1.0"/>
<rect x="494.50" y="352.40" width="3.3" height="6.6" fill="#f7870f"/>
<circle cx="331.80" cy="305.0" r="3.0" fill="#fff" stroke="#000" stroke-width="0.9"/>
<path d="M331.80,301.55 A3.45,3.45 0 0 1 331.80,308.45 Z" fill="#000"/>
<circle cx="365.00" cy="349.2" r="3.0" fill="#fff" stroke="#000" stroke-width="0.9"/>
<path d="M365.00,345.75 A3.45,3.45 0 0 1 365.00,352.65 Z" fill="#000"/>
<circle cx="398.20" cy="293.4" r="3.0" fill="#fff" stroke="#000" stroke-width="0.9"/>
<path d="M398.20,289.95 A3.45,3.45 0 0 1 398.20,296.85 Z" fill="#000"/>
<circle cx="431.40" cy="289.4" r="3.0" fill="#fff" stroke="#000" stroke-width="0.9"/>
<path d="M431.40,285.95 A3.45,3.45 0 0 1 431.40,292.85 Z" fill="#000"/>
<circle cx="464.60" cy="278.2" r="3.0" fill="#fff" stroke="#000" stroke-width="0.9"/>
<path d="M464.60,274.75 A3.45,3.45 0 0 1 464.60,281.65 Z" fill="#000"/>
<circle cx="497.80" cy="218.2" r="3.0" fill="#fff" stroke="#000" stroke-width="0.9"/>
<path d="M497.80,214.75 A3.45,3.45 0 0 1 497.80,221.65 Z" fill="#000"/>
<line x1="349.9" y1="339.3" x2="328" y2="339.3" stroke="#111" stroke-width="1.0"/>
<path d="M325,339.3 L330.5,337.5 L330.5,341.1 Z" fill="#111"/>
<line x1="474.5" y1="321.2" x2="499.2" y2="321.2" stroke="#f7870f" stroke-width="1.0"/>
<path d="M502.2,321.2 L496.7,319.4 L496.7,323.0 Z" fill="#f7870f"/>
<line x1="315.6" y1="205.5" x2="514.4" y2="205.5" stroke="#5e5e5e" stroke-width="1.5"/>
<line x1="315.6" y1="205.5" x2="315.6" y2="365.4" stroke="#5e5e5e" stroke-width="1.5"/>
<line x1="315.6" y1="365.4" x2="514.4" y2="365.4" stroke="#5e5e5e" stroke-width="1.5"/>
<line x1="514.4" y1="205.5" x2="514.4" y2="365.4" stroke="#f7870f" stroke-width="1.5"/>
<line x1="312.8" y1="365.40" x2="315.6" y2="365.40" stroke="#5e5e5e" stroke-width="1.5"/>
<line x1="313.92" y1="352.07" x2="315.6" y2="352.07" stroke="#5e5e5e" stroke-width="1.5"/>
<line x1="312.8" y1="338.75" x2="315.6" y2="338.75" stroke="#5e5e5e" stroke-width="1.5"/>
<line x1="313.92" y1="325.42" x2="315.6" y2="325.42" stroke="#5e5e5e" stroke-width="1.5"/>
<line x1="312.8" y1="312.10" x2="315.6" y2="312.10" stroke="#5e5e5e" stroke-width="1.5"/>
<line x1="313.92" y1="298.77" x2="315.6" y2="298.77" stroke="#5e5e5e" stroke-width="1.5"/>
<line x1="312.8" y1="285.45" x2="315.6" y2="285.45" stroke="#5e5e5e" stroke-width="1.5"/>
<line x1="313.92" y1="272.12" x2="315.6" y2="272.12" stroke="#5e5e5e" stroke-width="1.5"/>
<line x1="312.8" y1="258.80" x2="315.6" y2="258.80" stroke="#5e5e5e" stroke-width="1.5"/>
<line x1="313.92" y1="245.47" x2="315.6" y2="245.47" stroke="#5e5e5e" stroke-width="1.5"/>
<line x1="312.8" y1="232.15" x2="315.6" y2="232.15" stroke="#5e5e5e" stroke-width="1.5"/>
<line x1="313.92" y1="218.82" x2="315.6" y2="218.82" stroke="#5e5e5e" stroke-width="1.5"/>
<line x1="312.8" y1="205.50" x2="315.6" y2="205.50" stroke="#5e5e5e" stroke-width="1.5"/>
<text x="310.2" y="369.60" font-size="11.7" text-anchor="end" fill="#222" stroke="#222" stroke-width="0.25" >0.5</text>
<text x="310.2" y="342.95" font-size="11.7" text-anchor="end" fill="#222" stroke="#222" stroke-width="0.25" >0.6</text>
<text x="310.2" y="316.30" font-size="11.7" text-anchor="end" fill="#222" stroke="#222" stroke-width="0.25" >0.7</text>
<text x="310.2" y="289.65" font-size="11.7" text-anchor="end" fill="#222" stroke="#222" stroke-width="0.25" >0.8</text>
<text x="310.2" y="263.00" font-size="11.7" text-anchor="end" fill="#222" stroke="#222" stroke-width="0.25" >0.9</text>
<text x="310.2" y="236.35" font-size="11.7" text-anchor="end" fill="#222" stroke="#222" stroke-width="0.25" >1.0</text>
<text x="310.2" y="209.70" font-size="11.7" text-anchor="end" fill="#222" stroke="#222" stroke-width="0.25" >1.1</text>
<line x1="514.4" y1="365.40" x2="517.1999999999999" y2="365.40" stroke="#f7870f" stroke-width="1.5"/>
<line x1="514.4" y1="338.75" x2="516.0799999999999" y2="338.75" stroke="#f7870f" stroke-width="1.5"/>
<line x1="514.4" y1="312.10" x2="517.1999999999999" y2="312.10" stroke="#f7870f" stroke-width="1.5"/>
<line x1="514.4" y1="285.45" x2="516.0799999999999" y2="285.45" stroke="#f7870f" stroke-width="1.5"/>
<line x1="514.4" y1="258.80" x2="517.1999999999999" y2="258.80" stroke="#f7870f" stroke-width="1.5"/>
<line x1="514.4" y1="232.15" x2="516.0799999999999" y2="232.15" stroke="#f7870f" stroke-width="1.5"/>
<line x1="514.4" y1="205.50" x2="517.1999999999999" y2="205.50" stroke="#f7870f" stroke-width="1.5"/>
<text x="519.4" y="369.60" font-size="11.7" text-anchor="start" fill="#f7870f" stroke="#f7870f" stroke-width="0.12" >60</text>
<text x="519.4" y="316.30" font-size="11.7" text-anchor="start" fill="#f7870f" stroke="#f7870f" stroke-width="0.12" >80</text>
<text x="519.4" y="263.00" font-size="11.7" text-anchor="start" fill="#f7870f" stroke="#f7870f" stroke-width="0.12" >100</text>
<text x="519.4" y="209.70" font-size="11.7" text-anchor="start" fill="#f7870f" stroke="#f7870f" stroke-width="0.12" >120</text>
<line x1="331.80" y1="365.4" x2="331.80" y2="367.9" stroke="#5e5e5e" stroke-width="1.5"/>
<line x1="365.00" y1="365.4" x2="365.00" y2="367.9" stroke="#5e5e5e" stroke-width="1.5"/>
<line x1="398.20" y1="365.4" x2="398.20" y2="367.9" stroke="#5e5e5e" stroke-width="1.5"/>
<line x1="431.40" y1="365.4" x2="431.40" y2="367.9" stroke="#5e5e5e" stroke-width="1.5"/>
<line x1="464.60" y1="365.4" x2="464.60" y2="367.9" stroke="#5e5e5e" stroke-width="1.5"/>
<line x1="497.80" y1="365.4" x2="497.80" y2="367.9" stroke="#5e5e5e" stroke-width="1.5"/>
<line x1="315.20" y1="365.4" x2="315.20" y2="366.9" stroke="#5e5e5e" stroke-width="1.5"/>
<line x1="348.40" y1="365.4" x2="348.40" y2="366.9" stroke="#5e5e5e" stroke-width="1.5"/>
<line x1="381.60" y1="365.4" x2="381.60" y2="366.9" stroke="#5e5e5e" stroke-width="1.5"/>
<line x1="414.80" y1="365.4" x2="414.80" y2="366.9" stroke="#5e5e5e" stroke-width="1.5"/>
<line x1="448.00" y1="365.4" x2="448.00" y2="366.9" stroke="#5e5e5e" stroke-width="1.5"/>
<line x1="481.20" y1="365.4" x2="481.20" y2="366.9" stroke="#5e5e5e" stroke-width="1.5"/>
<line x1="514.40" y1="365.4" x2="514.40" y2="366.9" stroke="#5e5e5e" stroke-width="1.5"/>
<text x="331.80" y="380.7" font-size="11.7" text-anchor="middle" fill="#222" stroke="#222" stroke-width="0.25" >LIG</text>
<text x="365.00" y="380.7" font-size="11.7" text-anchor="middle" fill="#222" stroke="#222" stroke-width="0.25" >150</text>
<text x="398.20" y="380.7" font-size="11.7" text-anchor="middle" fill="#222" stroke="#222" stroke-width="0.25" >160</text>
<text x="431.40" y="380.7" font-size="11.7" text-anchor="middle" fill="#222" stroke="#222" stroke-width="0.25" >170</text>
<text x="464.60" y="380.7" font-size="11.7" text-anchor="middle" fill="#222" stroke="#222" stroke-width="0.25" >180</text>
<text x="497.80" y="380.7" font-size="11.7" text-anchor="middle" fill="#222" stroke="#222" stroke-width="0.25" >190</text>
<text x="415.0" y="395.2" font-size="11.9" text-anchor="middle" fill="#222" stroke="#222" stroke-width="0.25" >FJH voltage (V)</text>
<text transform="translate(289.2,288.5) rotate(-90)" font-size="12" text-anchor="middle" fill="#222" stroke="#222" stroke-width="0.25"><tspan font-style="italic">I</tspan><tspan font-size="7.5" dy="2.5">2D</tspan><tspan dy="-2.5">/</tspan><tspan font-style="italic">I</tspan><tspan font-size="7.5" dy="2.5">G</tspan></text>
<text transform="translate(551.6,284.5) rotate(-90)" font-size="12" text-anchor="middle" fill="#f7870f" stroke="#f7870f" stroke-width="0.12">2D FWHM (cm<tspan font-size="7.5" dy="-4.5">-1</tspan><tspan dy="4.5">)</tspan></text>
<text x="278.8" y="212.8" font-size="19.8" font-weight="bold" fill="#000" stroke="#000" stroke-width="0.25">d</text>
<defs>
<linearGradient id="gr" x1="0" y1="0" x2="0" y2="1"><stop offset="0" stop-color="#e82a2e"/><stop offset="1" stop-color="#f8d4d4"/></linearGradient>
<linearGradient id="gb" x1="0" y1="0" x2="0" y2="1"><stop offset="0" stop-color="#2a62d8"/><stop offset="1" stop-color="#d6e2f8"/></linearGradient>
<linearGradient id="go" x1="0" y1="0" x2="0" y2="1"><stop offset="0" stop-color="#f06a30"/><stop offset="1" stop-color="#f9b090"/></linearGradient>
<linearGradient id="gt" x1="0" y1="0" x2="0" y2="1"><stop offset="0" stop-color="#2aa8a8"/><stop offset="1" stop-color="#90d8d8"/></linearGradient>
</defs>
<path d="M670.95,274.16 L671.82,274.15 L672.69,274.13 L673.56,274.12 L674.43,274.10 L675.30,274.09 L676.17,274.07 L677.04,274.06 L677.91,274.04 L678.78,274.02 L679.65,274.00 L680.52,273.98 L681.39,273.96 L682.26,273.94 L683.13,273.91 L684.00,273.89 L684.87,273.87 L685.74,273.84 L686.61,273.81 L687.48,273.78 L688.35,273.75 L689.22,273.72 L690.09,273.69 L690.96,273.66 L691.83,273.62 L692.70,273.58 L693.57,273.55 L694.44,273.51 L695.31,273.46 L696.18,273.42 L697.05,273.38 L697.92,273.33 L698.79,273.29 L699.66,273.24 L700.53,273.19 L701.40,273.14 L702.27,273.09 L703.14,273.03 L704.01,272.98 L704.88,272.92 L705.75,272.87 L706.62,272.81 L707.49,272.75 L708.36,272.69 L709.23,272.63 L710.10,272.57 L710.97,272.51 L711.84,272.45 L712.71,272.39 L713.58,272.33 L714.45,272.27 L715.32,272.20 L716.19,272.14 L717.06,272.09 L717.93,272.03 L718.80,271.97 L719.67,271.91 L720.54,271.86 L721.41,271.80 L722.28,271.75 L723.15,271.70 L724.02,271.65 L724.89,271.61 L725.76,271.56 L726.63,271.52 L727.50,271.48 L728.37,271.45 L729.24,271.41 L730.11,271.38 L730.98,271.35 L731.85,271.33 L732.72,271.31 L733.59,271.29 L734.46,271.27 L735.33,271.26 L736.20,271.25 L737.07,271.24 L737.94,271.24 L738.81,271.24 L739.68,271.25 L740.55,271.25 L741.42,271.26 L742.29,271.28 L743.16,271.29 L744.03,271.31 L744.90,271.33 L745.77,271.36 L746.64,271.38 L747.51,271.41 L748.38,271.44 L749.25,271.48 L750.12,271.51 L750.99,271.55 L751.86,271.59 L752.73,271.63 L753.60,271.67 L754.47,271.71 L755.34,271.76 L756.21,271.80 L757.08,271.84 L757.95,271.89 L758.82,271.94 L759.69,271.98 L760.56,272.03 L761.43,272.07 L762.30,272.12 L763.17,272.17 L764.04,272.21 L764.91,272.25 L765.78,272.30 L766.65,272.34 L767.52,272.38 L768.39,272.42 L769.26,272.46 L770.13,272.50 L771.00,272.54 L771.87,272.57 L772.74,272.61 L773.61,272.64 L774.48,272.67 L775.35,272.70 L776.22,272.73 L777.09,272.76 L777.96,272.79 L778.83,272.81 L779.70,272.83 L780.57,272.85 L781.44,272.88 L782.31,272.89 L783.18,272.91 L784.05,272.93 L784.92,272.94 L785.79,272.96 L786.66,272.97 L787.53,272.98 L788.40,272.99 L788.40,273.20 L787.53,273.21 L786.66,273.21 L785.79,273.22 L784.92,273.23 L784.05,273.24 L783.18,273.24 L782.31,273.25 L781.44,273.26 L780.57,273.27 L779.70,273.27 L778.83,273.28 L777.96,273.29 L777.09,273.30 L776.22,273.30 L775.35,273.31 L774.48,273.32 L773.61,273.33 L772.74,273.33 L771.87,273.34 L771.00,273.35 L770.13,273.36 L769.26,273.36 L768.39,273.37 L767.52,273.38 L766.65,273.39 L765.78,273.39 L764.91,273.40 L764.04,273.41 L763.17,273.42 L762.30,273.42 L761.43,273.43 L760.56,273.44 L759.69,273.45 L758.82,273.45 L757.95,273.46 L757.08,273.47 L756.21,273.48 L755.34,273.48 L754.47,273.49 L753.60,273.50 L752.73,273.51 L751.86,273.51 L750.99,273.52 L750.12,273.53 L749.25,273.54 L748.38,273.54 L747.51,273.55 L746.64,273.56 L745.77,273.57 L744.90,273.57 L744.03,273.58 L743.16,273.59 L742.29,273.60 L741.42,273.60 L740.55,273.61 L739.68,273.62 L738.81,273.63 L737.94,273.63 L737.07,273.64 L736.20,273.65 L735.33,273.66 L734.46,273.66 L733.59,273.67 L732.72,273.68 L731.85,273.69 L730.98,273.69 L730.11,273.70 L729.24,273.71 L728.37,273.72 L727.50,273.72 L726.63,273.73 L725.76,273.74 L724.89,273.75 L724.02,273.75 L723.15,273.76 L722.28,273.77 L721.41,273.78 L720.54,273.78 L719.67,273.79 L718.80,273.80 L717.93,273.81 L717.06,273.81 L716.19,273.82 L715.32,273.83 L714.45,273.84 L713.58,273.84 L712.71,273.85 L711.84,273.86 L710.97,273.87 L710.10,273.87 L709.23,273.88 L708.36,273.89 L707.49,273.90 L706.62,273.90 L705.75,273.91 L704.88,273.92 L704.01,273.93 L703.14,273.93 L702.27,273.94 L701.40,273.95 L700.53,273.96 L699.66,273.96 L698.79,273.97 L697.92,273.98 L697.05,273.99 L696.18,273.99 L695.31,274.00 L694.44,274.01 L693.57,274.02 L692.70,274.02 L691.83,274.03 L690.96,274.04 L690.09,274.05 L689.22,274.05 L688.35,274.06 L687.48,274.07 L686.61,274.08 L685.74,274.08 L684.87,274.09 L684.00,274.10 L683.13,274.11 L682.26,274.11 L681.39,274.12 L680.52,274.13 L679.65,274.14 L678.78,274.14 L677.91,274.15 L677.04,274.16 L676.17,274.17 L675.30,274.17 L674.43,274.18 L673.56,274.19 L672.69,274.20 L671.82,274.20 L670.95,274.21 Z" fill="url(#gt)" stroke="none"/>
<path d="M670.95,274.16 L671.82,274.15 L672.69,274.13 L673.56,274.12 L674.43,274.10 L675.30,274.09 L676.17,274.07 L677.04,274.06 L677.91,274.04 L678.78,274.02 L679.65,274.00 L680.52,273.98 L681.39,273.96 L682.26,273.94 L683.13,273.91 L684.00,273.89 L684.87,273.87 L685.74,273.84 L686.61,273.81 L687.48,273.78 L688.35,273.75 L689.22,273.72 L690.09,273.69 L690.96,273.66 L691.83,273.62 L692.70,273.58 L693.57,273.55 L694.44,273.51 L695.31,273.46 L696.18,273.42 L697.05,273.38 L697.92,273.33 L698.79,273.29 L699.66,273.24 L700.53,273.19 L701.40,273.14 L702.27,273.09 L703.14,273.03 L704.01,272.98 L704.88,272.92 L705.75,272.87 L706.62,272.81 L707.49,272.75 L708.36,272.69 L709.23,272.63 L710.10,272.57 L710.97,272.51 L711.84,272.45 L712.71,272.39 L713.58,272.33 L714.45,272.27 L715.32,272.20 L716.19,272.14 L717.06,272.09 L717.93,272.03 L718.80,271.97 L719.67,271.91 L720.54,271.86 L721.41,271.80 L722.28,271.75 L723.15,271.70 L724.02,271.65 L724.89,271.61 L725.76,271.56 L726.63,271.52 L727.50,271.48 L728.37,271.45 L729.24,271.41 L730.11,271.38 L730.98,271.35 L731.85,271.33 L732.72,271.31 L733.59,271.29 L734.46,271.27 L735.33,271.26 L736.20,271.25 L737.07,271.24 L737.94,271.24 L738.81,271.24 L739.68,271.25 L740.55,271.25 L741.42,271.26 L742.29,271.28 L743.16,271.29 L744.03,271.31 L744.90,271.33 L745.77,271.36 L746.64,271.38 L747.51,271.41 L748.38,271.44 L749.25,271.48 L750.12,271.51 L750.99,271.55 L751.86,271.59 L752.73,271.63 L753.60,271.67 L754.47,271.71 L755.34,271.76 L756.21,271.80 L757.08,271.84 L757.95,271.89 L758.82,271.94 L759.69,271.98 L760.56,272.03 L761.43,272.07 L762.30,272.12 L763.17,272.17 L764.04,272.21 L764.91,272.25 L765.78,272.30 L766.65,272.34 L767.52,272.38 L768.39,272.42 L769.26,272.46 L770.13,272.50 L771.00,272.54 L771.87,272.57 L772.74,272.61 L773.61,272.64 L774.48,272.67 L775.35,272.70 L776.22,272.73 L777.09,272.76 L777.96,272.79 L778.83,272.81 L779.70,272.83 L780.57,272.85 L781.44,272.88 L782.31,272.89 L783.18,272.91 L784.05,272.93 L784.92,272.94 L785.79,272.96 L786.66,272.97 L787.53,272.98 L788.40,272.99" fill="none" stroke="#2aa0a0" stroke-width="0.6"/>
<path d="M629.19,274.52 L630.06,274.51 L630.93,274.49 L631.80,274.48 L632.67,274.46 L633.54,274.44 L634.41,274.42 L635.28,274.40 L636.15,274.38 L637.02,274.35 L637.89,274.33 L638.76,274.30 L639.63,274.27 L640.50,274.24 L641.37,274.21 L642.24,274.18 L643.11,274.14 L643.98,274.10 L644.85,274.06 L645.72,274.02 L646.59,273.97 L647.46,273.92 L648.33,273.87 L649.20,273.82 L650.07,273.76 L650.94,273.70 L651.81,273.64 L652.68,273.58 L653.55,273.51 L654.42,273.44 L655.29,273.37 L656.16,273.29 L657.03,273.21 L657.90,273.13 L658.77,273.05 L659.64,272.97 L660.51,272.88 L661.38,272.79 L662.25,272.71 L663.12,272.62 L663.99,272.53 L664.86,272.44 L665.73,272.35 L666.60,272.26 L667.47,272.17 L668.34,272.08 L669.21,272.00 L670.08,271.91 L670.95,271.83 L671.82,271.75 L672.69,271.67 L673.56,271.60 L674.43,271.53 L675.30,271.47 L676.17,271.41 L677.04,271.35 L677.91,271.30 L678.78,271.25 L679.65,271.21 L680.52,271.18 L681.39,271.15 L682.26,271.13 L683.13,271.11 L684.00,271.10 L684.87,271.10 L685.74,271.10 L686.61,271.11 L687.48,271.12 L688.35,271.14 L689.22,271.16 L690.09,271.19 L690.96,271.23 L691.83,271.27 L692.70,271.32 L693.57,271.37 L694.44,271.42 L695.31,271.48 L696.18,271.54 L697.05,271.61 L697.92,271.67 L698.79,271.74 L699.66,271.81 L700.53,271.89 L701.40,271.96 L702.27,272.03 L703.14,272.11 L704.01,272.18 L704.88,272.26 L705.75,272.33 L706.62,272.41 L707.49,272.48 L708.36,272.55 L709.23,272.62 L710.10,272.68 L710.97,272.75 L711.84,272.81 L712.71,272.87 L713.58,272.93 L714.45,272.98 L715.32,273.04 L716.19,273.09 L717.06,273.13 L717.93,273.18 L718.80,273.22 L719.67,273.26 L720.54,273.29 L721.41,273.33 L722.28,273.36 L723.15,273.39 L724.02,273.41 L724.89,273.44 L725.76,273.46 L726.63,273.48 L727.50,273.49 L728.37,273.51 L729.24,273.52 L730.11,273.53 L730.98,273.54 L731.85,273.55 L732.72,273.56 L733.59,273.57 L734.46,273.57 L735.33,273.57 L736.20,273.58 L737.07,273.58 L737.94,273.58 L738.81,273.58 L738.81,273.63 L737.94,273.63 L737.07,273.64 L736.20,273.65 L735.33,273.66 L734.46,273.66 L733.59,273.67 L732.72,273.68 L731.85,273.69 L730.98,273.69 L730.11,273.70 L729.24,273.71 L728.37,273.72 L727.50,273.72 L726.63,273.73 L725.76,273.74 L724.89,273.75 L724.02,273.75 L723.15,273.76 L722.28,273.77 L721.41,273.78 L720.54,273.78 L719.67,273.79 L718.80,273.80 L717.93,273.81 L717.06,273.81 L716.19,273.82 L715.32,273.83 L714.45,273.84 L713.58,273.84 L712.71,273.85 L711.84,273.86 L710.97,273.87 L710.10,273.87 L709.23,273.88 L708.36,273.89 L707.49,273.90 L706.62,273.90 L705.75,273.91 L704.88,273.92 L704.01,273.93 L703.14,273.93 L702.27,273.94 L701.40,273.95 L700.53,273.96 L699.66,273.96 L698.79,273.97 L697.92,273.98 L697.05,273.99 L696.18,273.99 L695.31,274.00 L694.44,274.01 L693.57,274.02 L692.70,274.02 L691.83,274.03 L690.96,274.04 L690.09,274.05 L689.22,274.05 L688.35,274.06 L687.48,274.07 L686.61,274.08 L685.74,274.08 L684.87,274.09 L684.00,274.10 L683.13,274.11 L682.26,274.11 L681.39,274.12 L680.52,274.13 L679.65,274.14 L678.78,274.14 L677.91,274.15 L677.04,274.16 L676.17,274.17 L675.30,274.17 L674.43,274.18 L673.56,274.19 L672.69,274.20 L671.82,274.20 L670.95,274.21 L670.08,274.22 L669.21,274.23 L668.34,274.23 L667.47,274.24 L666.60,274.25 L665.73,274.26 L664.86,274.26 L663.99,274.27 L663.12,274.28 L662.25,274.29 L661.38,274.29 L660.51,274.30 L659.64,274.31 L658.77,274.32 L657.90,274.32 L657.03,274.33 L656.16,274.34 L655.29,274.35 L654.42,274.35 L653.55,274.36 L652.68,274.37 L651.81,274.38 L650.94,274.38 L650.07,274.39 L649.20,274.40 L648.33,274.41 L647.46,274.41 L646.59,274.42 L645.72,274.43 L644.85,274.44 L643.98,274.44 L643.11,274.45 L642.24,274.46 L641.37,274.47 L640.50,274.47 L639.63,274.48 L638.76,274.49 L637.89,274.50 L637.02,274.50 L636.15,274.51 L635.28,274.52 L634.41,274.53 L633.54,274.53 L632.67,274.54 L631.80,274.55 L630.93,274.56 L630.06,274.56 L629.19,274.57 Z" fill="url(#go)" stroke="none"/>
<path d="M629.19,274.52 L630.06,274.51 L630.93,274.49 L631.80,274.48 L632.67,274.46 L633.54,274.44 L634.41,274.42 L635.28,274.40 L636.15,274.38 L637.02,274.35 L637.89,274.33 L638.76,274.30 L639.63,274.27 L640.50,274.24 L641.37,274.21 L642.24,274.18 L643.11,274.14 L643.98,274.10 L644.85,274.06 L645.72,274.02 L646.59,273.97 L647.46,273.92 L648.33,273.87 L649.20,273.82 L650.07,273.76 L650.94,273.70 L651.81,273.64 L652.68,273.58 L653.55,273.51 L654.42,273.44 L655.29,273.37 L656.16,273.29 L657.03,273.21 L657.90,273.13 L658.77,273.05 L659.64,272.97 L660.51,272.88 L661.38,272.79 L662.25,272.71 L663.12,272.62 L663.99,272.53 L664.86,272.44 L665.73,272.35 L666.60,272.26 L667.47,272.17 L668.34,272.08 L669.21,272.00 L670.08,271.91 L670.95,271.83 L671.82,271.75 L672.69,271.67 L673.56,271.60 L674.43,271.53 L675.30,271.47 L676.17,271.41 L677.04,271.35 L677.91,271.30 L678.78,271.25 L679.65,271.21 L680.52,271.18 L681.39,271.15 L682.26,271.13 L683.13,271.11 L684.00,271.10 L684.87,271.10 L685.74,271.10 L686.61,271.11 L687.48,271.12 L688.35,271.14 L689.22,271.16 L690.09,271.19 L690.96,271.23 L691.83,271.27 L692.70,271.32 L693.57,271.37 L694.44,271.42 L695.31,271.48 L696.18,271.54 L697.05,271.61 L697.92,271.67 L698.79,271.74 L699.66,271.81 L700.53,271.89 L701.40,271.96 L702.27,272.03 L703.14,272.11 L704.01,272.18 L704.88,272.26 L705.75,272.33 L706.62,272.41 L707.49,272.48 L708.36,272.55 L709.23,272.62 L710.10,272.68 L710.97,272.75 L711.84,272.81 L712.71,272.87 L713.58,272.93 L714.45,272.98 L715.32,273.04 L716.19,273.09 L717.06,273.13 L717.93,273.18 L718.80,273.22 L719.67,273.26 L720.54,273.29 L721.41,273.33 L722.28,273.36 L723.15,273.39 L724.02,273.41 L724.89,273.44 L725.76,273.46 L726.63,273.48 L727.50,273.49 L728.37,273.51 L729.24,273.52 L730.11,273.53 L730.98,273.54 L731.85,273.55 L732.72,273.56 L733.59,273.57 L734.46,273.57 L735.33,273.57 L736.20,273.58 L737.07,273.58 L737.94,273.58 L738.81,273.58" fill="none" stroke="#e86020" stroke-width="0.6"/>
<path d="M605.70,274.71 L606.57,274.66 L607.44,274.59 L608.31,274.47 L609.18,274.30 L610.05,274.04 L610.92,273.67 L611.79,273.14 L612.66,272.40 L613.53,271.39 L614.40,270.07 L615.27,268.35 L616.14,266.19 L617.01,263.54 L617.88,260.38 L618.75,256.72 L619.62,252.61 L620.49,248.15 L621.36,243.47 L622.23,238.74 L623.10,234.20 L623.97,230.05 L624.84,226.53 L625.71,223.85 L626.58,222.17 L627.45,221.59 L628.32,222.08 L629.19,223.53 L630.06,225.85 L630.93,228.88 L631.80,232.46 L632.67,236.40 L633.54,240.53 L634.41,244.68 L635.28,248.73 L636.15,252.55 L637.02,256.06 L637.89,259.22 L638.76,261.99 L639.63,264.36 L640.50,266.36 L641.37,268.00 L642.24,269.33 L643.11,270.38 L643.98,271.21 L644.85,271.84 L645.72,272.33 L646.59,272.69 L647.46,272.96 L648.33,273.17 L649.20,273.32 L650.07,273.44 L650.94,273.52 L651.81,273.59 L652.68,273.65 L653.55,273.69 L654.42,273.73 L655.29,273.76 L656.16,273.79 L657.03,273.81 L657.90,273.83 L658.77,273.85 L659.64,273.87 L660.51,273.88 L661.38,273.89 L662.25,273.90 L663.12,273.91 L663.99,273.92 L664.86,273.93 L665.73,273.94 L666.60,273.94 L667.47,273.95 L668.34,273.95 L669.21,273.96 L670.08,273.96 L670.95,273.96 L671.82,273.96 L672.69,273.97 L673.56,273.97 L674.43,273.97 L675.30,273.97 L676.17,273.97 L677.04,273.97 L677.91,273.97 L678.78,273.96 L679.65,273.96 L680.52,273.96 L681.39,273.96 L682.26,273.96 L683.13,273.95 L684.00,273.95 L684.87,273.95 L685.74,273.94 L686.61,273.94 L687.48,273.94 L688.35,273.93 L689.22,273.93 L690.09,273.93 L690.96,273.92 L691.83,273.92 L692.70,273.91 L693.57,273.91 L694.44,273.90 L695.31,273.90 L696.18,273.89 L697.05,273.89 L697.92,273.88 L698.79,273.88 L699.66,273.87 L700.53,273.87 L701.40,273.86 L702.27,273.86 L703.14,273.85 L704.01,273.85 L704.88,273.84 L705.75,273.83 L706.62,273.83 L707.49,273.82 L708.36,273.82 L709.23,273.81 L710.10,273.80 L710.97,273.80 L711.84,273.79 L712.71,273.79 L713.58,273.78 L714.45,273.77 L715.32,273.77 L716.19,273.76 L717.06,273.75 L717.93,273.75 L718.80,273.74 L719.67,273.74 L720.54,273.73 L721.41,273.72 L722.28,273.72 L723.15,273.71 L724.02,273.70 L724.89,273.70 L725.76,273.69 L725.76,273.74 L724.89,273.75 L724.02,273.75 L723.15,273.76 L722.28,273.77 L721.41,273.78 L720.54,273.78 L719.67,273.79 L718.80,273.80 L717.93,273.81 L717.06,273.81 L716.19,273.82 L715.32,273.83 L714.45,273.84 L713.58,273.84 L712.71,273.85 L711.84,273.86 L710.97,273.87 L710.10,273.87 L709.23,273.88 L708.36,273.89 L707.49,273.90 L706.62,273.90 L705.75,273.91 L704.88,273.92 L704.01,273.93 L703.14,273.93 L702.27,273.94 L701.40,273.95 L700.53,273.96 L699.66,273.96 L698.79,273.97 L697.92,273.98 L697.05,273.99 L696.18,273.99 L695.31,274.00 L694.44,274.01 L693.57,274.02 L692.70,274.02 L691.83,274.03 L690.96,274.04 L690.09,274.05 L689.22,274.05 L688.35,274.06 L687.48,274.07 L686.61,274.08 L685.74,274.08 L684.87,274.09 L684.00,274.10 L683.13,274.11 L682.26,274.11 L681.39,274.12 L680.52,274.13 L679.65,274.14 L678.78,274.14 L677.91,274.15 L677.04,274.16 L676.17,274.17 L675.30,274.17 L674.43,274.18 L673.56,274.19 L672.69,274.20 L671.82,274.20 L670.95,274.21 L670.08,274.22 L669.21,274.23 L668.34,274.23 L667.47,274.24 L666.60,274.25 L665.73,274.26 L664.86,274.26 L663.99,274.27 L663.12,274.28 L662.25,274.29 L661.38,274.29 L660.51,274.30 L659.64,274.31 L658.77,274.32 L657.90,274.32 L657.03,274.33 L656.16,274.34 L655.29,274.35 L654.42,274.35 L653.55,274.36 L652.68,274.37 L651.81,274.38 L650.94,274.38 L650.07,274.39 L649.20,274.40 L648.33,274.41 L647.46,274.41 L646.59,274.42 L645.72,274.43 L644.85,274.44 L643.98,274.44 L643.11,274.45 L642.24,274.46 L641.37,274.47 L640.50,274.47 L639.63,274.48 L638.76,274.49 L637.89,274.50 L637.02,274.50 L636.15,274.51 L635.28,274.52 L634.41,274.53 L633.54,274.53 L632.67,274.54 L631.80,274.55 L630.93,274.56 L630.06,274.56 L629.19,274.57 L628.32,274.58 L627.45,274.59 L626.58,274.59 L625.71,274.60 L624.84,274.61 L623.97,274.62 L623.10,274.62 L622.23,274.63 L621.36,274.64 L620.49,274.65 L619.62,274.65 L618.75,274.66 L617.88,274.67 L617.01,274.68 L616.14,274.68 L615.27,274.69 L614.40,274.70 L613.53,274.71 L612.66,274.71 L611.79,274.72 L610.92,274.73 L610.05,274.74 L609.18,274.74 L608.31,274.75 L607.44,274.76 L606.57,274.77 L605.70,274.77 Z" fill="url(#gr)" stroke="none"/>
<path d="M605.70,274.71 L606.57,274.66 L607.44,274.59 L608.31,274.47 L609.18,274.30 L610.05,274.04 L610.92,273.67 L611.79,273.14 L612.66,272.40 L613.53,271.39 L614.40,270.07 L615.27,268.35 L616.14,266.19 L617.01,263.54 L617.88,260.38 L618.75,256.72 L619.62,252.61 L620.49,248.15 L621.36,243.47 L622.23,238.74 L623.10,234.20 L623.97,230.05 L624.84,226.53 L625.71,223.85 L626.58,222.17 L627.45,221.59 L628.32,222.08 L629.19,223.53 L630.06,225.85 L630.93,228.88 L631.80,232.46 L632.67,236.40 L633.54,240.53 L634.41,244.68 L635.28,248.73 L636.15,252.55 L637.02,256.06 L637.89,259.22 L638.76,261.99 L639.63,264.36 L640.50,266.36 L641.37,268.00 L642.24,269.33 L643.11,270.38 L643.98,271.21 L644.85,271.84 L645.72,272.33 L646.59,272.69 L647.46,272.96 L648.33,273.17 L649.20,273.32 L650.07,273.44 L650.94,273.52 L651.81,273.59 L652.68,273.65 L653.55,273.69 L654.42,273.73 L655.29,273.76 L656.16,273.79 L657.03,273.81 L657.90,273.83 L658.77,273.85 L659.64,273.87 L660.51,273.88 L661.38,273.89 L662.25,273.90 L663.12,273.91 L663.99,273.92 L664.86,273.93 L665.73,273.94 L666.60,273.94 L667.47,273.95 L668.34,273.95 L669.21,273.96 L670.08,273.96 L670.95,273.96 L671.82,273.96 L672.69,273.97 L673.56,273.97 L674.43,273.97 L675.30,273.97 L676.17,273.97 L677.04,273.97 L677.91,273.97 L678.78,273.96 L679.65,273.96 L680.52,273.96 L681.39,273.96 L682.26,273.96 L683.13,273.95 L684.00,273.95 L684.87,273.95 L685.74,273.94 L686.61,273.94 L687.48,273.94 L688.35,273.93 L689.22,273.93 L690.09,273.93 L690.96,273.92 L691.83,273.92 L692.70,273.91 L693.57,273.91 L694.44,273.90 L695.31,273.90 L696.18,273.89 L697.05,273.89 L697.92,273.88 L698.79,273.88 L699.66,273.87 L700.53,273.87 L701.40,273.86 L702.27,273.86 L703.14,273.85 L704.01,273.85 L704.88,273.84 L705.75,273.83 L706.62,273.83 L707.49,273.82 L708.36,273.82 L709.23,273.81 L710.10,273.80 L710.97,273.80 L711.84,273.79 L712.71,273.79 L713.58,273.78 L714.45,273.77 L715.32,273.77 L716.19,273.76 L717.06,273.75 L717.93,273.75 L718.80,273.74 L719.67,273.74 L720.54,273.73 L721.41,273.72 L722.28,273.72 L723.15,273.71 L724.02,273.70 L724.89,273.70 L725.76,273.69" fill="none" stroke="#d84040" stroke-width="0.6"/>
<path d="M603.96,274.73 L604.83,274.71 L605.70,274.68 L606.57,274.66 L607.44,274.62 L608.31,274.58 L609.18,274.54 L610.05,274.49 L610.92,274.43 L611.79,274.36 L612.66,274.28 L613.53,274.19 L614.40,274.09 L615.27,273.98 L616.14,273.85 L617.01,273.70 L617.88,273.54 L618.75,273.36 L619.62,273.16 L620.49,272.94 L621.36,272.71 L622.23,272.45 L623.10,272.17 L623.97,271.88 L624.84,271.56 L625.71,271.23 L626.58,270.88 L627.45,270.52 L628.32,270.14 L629.19,269.76 L630.06,269.37 L630.93,268.99 L631.80,268.60 L632.67,268.22 L633.54,267.85 L634.41,267.50 L635.28,267.17 L636.15,266.86 L637.02,266.58 L637.89,266.33 L638.76,266.11 L639.63,265.94 L640.50,265.80 L641.37,265.71 L642.24,265.66 L643.11,265.66 L643.98,265.70 L644.85,265.79 L645.72,265.92 L646.59,266.08 L647.46,266.29 L648.33,266.53 L649.20,266.80 L650.07,267.10 L650.94,267.43 L651.81,267.77 L652.68,268.12 L653.55,268.49 L654.42,268.86 L655.29,269.23 L656.16,269.60 L657.03,269.97 L657.90,270.33 L658.77,270.67 L659.64,271.00 L660.51,271.32 L661.38,271.61 L662.25,271.89 L663.12,272.15 L663.99,272.39 L664.86,272.61 L665.73,272.80 L666.60,272.98 L667.47,273.15 L668.34,273.29 L669.21,273.42 L670.08,273.53 L670.95,273.62 L671.82,273.71 L672.69,273.78 L673.56,273.84 L674.43,273.89 L675.30,273.93 L676.17,273.97 L677.04,274.00 L677.91,274.02 L678.78,274.04 L679.65,274.05 L680.52,274.06 L681.39,274.07 L681.39,274.12 L680.52,274.13 L679.65,274.14 L678.78,274.14 L677.91,274.15 L677.04,274.16 L676.17,274.17 L675.30,274.17 L674.43,274.18 L673.56,274.19 L672.69,274.20 L671.82,274.20 L670.95,274.21 L670.08,274.22 L669.21,274.23 L668.34,274.23 L667.47,274.24 L666.60,274.25 L665.73,274.26 L664.86,274.26 L663.99,274.27 L663.12,274.28 L662.25,274.29 L661.38,274.29 L660.51,274.30 L659.64,274.31 L658.77,274.32 L657.90,274.32 L657.03,274.33 L656.16,274.34 L655.29,274.35 L654.42,274.35 L653.55,274.36 L652.68,274.37 L651.81,274.38 L650.94,274.38 L650.07,274.39 L649.20,274.40 L648.33,274.41 L647.46,274.41 L646.59,274.42 L645.72,274.43 L644.85,274.44 L643.98,274.44 L643.11,274.45 L642.24,274.46 L641.37,274.47 L640.50,274.47 L639.63,274.48 L638.76,274.49 L637.89,274.50 L637.02,274.50 L636.15,274.51 L635.28,274.52 L634.41,274.53 L633.54,274.53 L632.67,274.54 L631.80,274.55 L630.93,274.56 L630.06,274.56 L629.19,274.57 L628.32,274.58 L627.45,274.59 L626.58,274.59 L625.71,274.60 L624.84,274.61 L623.97,274.62 L623.10,274.62 L622.23,274.63 L621.36,274.64 L620.49,274.65 L619.62,274.65 L618.75,274.66 L617.88,274.67 L617.01,274.68 L616.14,274.68 L615.27,274.69 L614.40,274.70 L613.53,274.71 L612.66,274.71 L611.79,274.72 L610.92,274.73 L610.05,274.74 L609.18,274.74 L608.31,274.75 L607.44,274.76 L606.57,274.77 L605.70,274.77 L604.83,274.78 L603.96,274.79 Z" fill="url(#gb)" stroke="none"/>
<path d="M603.96,274.73 L604.83,274.71 L605.70,274.68 L606.57,274.66 L607.44,274.62 L608.31,274.58 L609.18,274.54 L610.05,274.49 L610.92,274.43 L611.79,274.36 L612.66,274.28 L613.53,274.19 L614.40,274.09 L615.27,273.98 L616.14,273.85 L617.01,273.70 L617.88,273.54 L618.75,273.36 L619.62,273.16 L620.49,272.94 L621.36,272.71 L622.23,272.45 L623.10,272.17 L623.97,271.88 L624.84,271.56 L625.71,271.23 L626.58,270.88 L627.45,270.52 L628.32,270.14 L629.19,269.76 L630.06,269.37 L630.93,268.99 L631.80,268.60 L632.67,268.22 L633.54,267.85 L634.41,267.50 L635.28,267.17 L636.15,266.86 L637.02,266.58 L637.89,266.33 L638.76,266.11 L639.63,265.94 L640.50,265.80 L641.37,265.71 L642.24,265.66 L643.11,265.66 L643.98,265.70 L644.85,265.79 L645.72,265.92 L646.59,266.08 L647.46,266.29 L648.33,266.53 L649.20,266.80 L650.07,267.10 L650.94,267.43 L651.81,267.77 L652.68,268.12 L653.55,268.49 L654.42,268.86 L655.29,269.23 L656.16,269.60 L657.03,269.97 L657.90,270.33 L658.77,270.67 L659.64,271.00 L660.51,271.32 L661.38,271.61 L662.25,271.89 L663.12,272.15 L663.99,272.39 L664.86,272.61 L665.73,272.80 L666.60,272.98 L667.47,273.15 L668.34,273.29 L669.21,273.42 L670.08,273.53 L670.95,273.62 L671.82,273.71 L672.69,273.78 L673.56,273.84 L674.43,273.89 L675.30,273.93 L676.17,273.97 L677.04,274.00 L677.91,274.02 L678.78,274.04 L679.65,274.05 L680.52,274.06 L681.39,274.07" fill="none" stroke="#2a5cd0" stroke-width="0.6"/>
<path d="M579.60,275.00 L580.47,274.99 L581.34,274.98 L582.21,274.98 L583.08,274.97 L583.95,274.96 L584.82,274.95 L585.69,274.95 L586.56,274.94 L587.43,274.93 L588.30,274.92 L589.17,274.92 L590.04,274.91 L590.91,274.90 L591.78,274.89 L592.65,274.89 L593.52,274.88 L594.39,274.87 L595.26,274.86 L596.13,274.85 L597.00,274.84 L597.87,274.83 L598.74,274.82 L599.61,274.81 L600.48,274.80 L601.35,274.78 L602.22,274.76 L603.09,274.74 L603.96,274.71 L604.83,274.67 L605.70,274.62 L606.57,274.55 L607.44,274.45 L608.31,274.30 L609.18,274.09 L610.05,273.79 L610.92,273.36 L611.79,272.77 L612.66,271.96 L613.53,270.88 L614.40,269.45 L615.27,267.63 L616.14,265.34 L617.01,262.55 L617.88,259.24 L618.75,255.41 L619.62,251.11 L620.49,246.43 L621.36,241.52 L622.23,236.54 L623.10,231.72 L623.97,227.28 L624.84,223.46 L625.71,220.44 L626.58,218.41 L627.45,217.48 L628.32,217.60 L629.19,218.67 L630.06,220.60 L630.93,223.24 L631.80,226.43 L632.67,229.99 L633.54,233.75 L634.41,237.55 L635.28,241.25 L636.15,244.76 L637.02,247.99 L637.89,250.88 L638.76,253.42 L639.63,255.61 L640.50,257.45 L641.37,258.99 L642.24,260.25 L643.11,261.28 L643.98,262.12 L644.85,262.82 L645.72,263.40 L646.59,263.90 L647.46,264.35 L648.33,264.75 L649.20,265.14 L650.07,265.51 L650.94,265.88 L651.81,266.24 L652.68,266.60 L653.55,266.96 L654.42,267.31 L655.29,267.66 L656.16,267.99 L657.03,268.32 L657.90,268.63 L658.77,268.92 L659.64,269.20 L660.51,269.46 L661.38,269.69 L662.25,269.91 L663.12,270.10 L663.99,270.27 L664.86,270.42 L665.73,270.55 L666.60,270.66 L667.47,270.75 L668.34,270.82 L669.21,270.87 L670.08,270.91 L670.95,270.94 L671.82,270.96 L672.69,270.96 L673.56,270.96 L674.43,270.95 L675.30,270.93 L676.17,270.91 L677.04,270.89 L677.91,270.87 L678.78,270.84 L679.65,270.81 L680.52,270.79 L681.39,270.77 L682.26,270.75 L683.13,270.73 L684.00,270.71 L684.87,270.70 L685.74,270.69 L686.61,270.69 L687.48,270.69 L688.35,270.69 L689.22,270.70 L690.09,270.71 L690.96,270.72 L691.83,270.74 L692.70,270.76 L693.57,270.78 L694.44,270.81 L695.31,270.84 L696.18,270.87 L697.05,270.90 L697.92,270.93 L698.79,270.96 L699.66,270.99 L700.53,271.03 L701.40,271.06 L702.27,271.09 L703.14,271.12 L704.01,271.15 L704.88,271.18 L705.75,271.21 L706.62,271.23 L707.49,271.25 L708.36,271.27 L709.23,271.29 L710.10,271.31 L710.97,271.32 L711.84,271.33 L712.71,271.34 L713.58,271.34 L714.45,271.35 L715.32,271.35 L716.19,271.35 L717.06,271.34 L717.93,271.34 L718.80,271.33 L719.67,271.32 L720.54,271.31 L721.41,271.30 L722.28,271.29 L723.15,271.27 L724.02,271.26 L724.89,271.24 L725.76,271.23 L726.63,271.22 L727.50,271.20 L728.37,271.19 L729.24,271.18 L730.11,271.17 L730.98,271.16 L731.85,271.15 L732.72,271.14 L733.59,271.14 L734.46,271.13 L735.33,271.13 L736.20,271.13 L737.07,271.14 L737.94,271.14 L738.81,271.15 L739.68,271.16 L740.55,271.18 L741.42,271.19 L742.29,271.21 L743.16,271.23 L744.03,271.25 L744.90,271.28 L745.77,271.30 L746.64,271.33 L747.51,271.37 L748.38,271.40 L749.25,271.43 L750.12,271.47 L750.99,271.51 L751.86,271.55 L752.73,271.59 L753.60,271.63 L754.47,271.68 L755.34,271.72 L756.21,271.77 L757.08,271.81 L757.95,271.86 L758.82,271.91 L759.69,271.95 L760.56,272.00 L761.43,272.05 L762.30,272.09 L763.17,272.14 L764.04,272.18 L764.91,272.23 L765.78,272.27 L766.65,272.31 L767.52,272.36 L768.39,272.40 L769.26,272.44 L770.13,272.48 L771.00,272.51 L771.87,272.55 L772.74,272.58 L773.61,272.62 L774.48,272.65 L775.35,272.68 L776.22,272.71 L777.09,272.74 L777.96,272.76 L778.83,272.79 L779.70,272.81 L780.57,272.83 L781.44,272.85 L782.31,272.87 L783.18,272.89 L784.05,272.91 L784.92,272.92 L785.79,272.94 L786.66,272.95 L787.53,272.96 L788.40,272.97" fill="none" stroke="#8a8a8a" stroke-width="0.9"/>
<path d="M579.60,275.00 L580.47,274.99 L581.34,274.99 L582.21,274.98 L583.08,274.97 L583.95,274.96 L584.82,274.95 L585.69,274.95 L586.56,274.94 L587.43,274.93 L588.30,274.92 L589.17,274.92 L590.04,274.91 L590.91,274.90 L591.78,274.89 L592.65,274.89 L593.52,274.88 L594.39,274.87 L595.26,274.86 L596.13,274.86 L597.00,274.85 L597.87,274.84 L598.74,274.83 L599.61,274.83 L600.48,274.82 L601.35,274.81 L602.22,274.80 L603.09,274.80 L603.96,274.79 L604.83,274.78 L605.70,274.77 L606.57,274.77 L607.44,274.76 L608.31,274.75 L609.18,274.74 L610.05,274.74 L610.92,274.73 L611.79,274.72 L612.66,274.71 L613.53,274.71 L614.40,274.70 L615.27,274.69 L616.14,274.68 L617.01,274.68 L617.88,274.67 L618.75,274.66 L619.62,274.65 L620.49,274.65 L621.36,274.64 L622.23,274.63 L623.10,274.62 L623.97,274.62 L624.84,274.61 L625.71,274.60 L626.58,274.59 L627.45,274.59 L628.32,274.58 L629.19,274.57 L630.06,274.56 L630.93,274.56 L631.80,274.55 L632.67,274.54 L633.54,274.53 L634.41,274.53 L635.28,274.52 L636.15,274.51 L637.02,274.50 L637.89,274.50 L638.76,274.49 L639.63,274.48 L640.50,274.47 L641.37,274.47 L642.24,274.46 L643.11,274.45 L643.98,274.44 L644.85,274.44 L645.72,274.43 L646.59,274.42 L647.46,274.41 L648.33,274.41 L649.20,274.40 L650.07,274.39 L650.94,274.38 L651.81,274.38 L652.68,274.37 L653.55,274.36 L654.42,274.35 L655.29,274.35 L656.16,274.34 L657.03,274.33 L657.90,274.32 L658.77,274.32 L659.64,274.31 L660.51,274.30 L661.38,274.29 L662.25,274.29 L663.12,274.28 L663.99,274.27 L664.86,274.26 L665.73,274.26 L666.60,274.25 L667.47,274.24 L668.34,274.23 L669.21,274.23 L670.08,274.22 L670.95,274.21 L671.82,274.20 L672.69,274.20 L673.56,274.19 L674.43,274.18 L675.30,274.17 L676.17,274.17 L677.04,274.16 L677.91,274.15 L678.78,274.14 L679.65,274.14 L680.52,274.13 L681.39,274.12 L682.26,274.11 L683.13,274.11 L684.00,274.10 L684.87,274.09 L685.74,274.08 L686.61,274.08 L687.48,274.07 L688.35,274.06 L689.22,274.05 L690.09,274.05 L690.96,274.04 L691.83,274.03 L692.70,274.02 L693.57,274.02 L694.44,274.01 L695.31,274.00 L696.18,273.99 L697.05,273.99 L697.92,273.98 L698.79,273.97 L699.66,273.96 L700.53,273.96 L701.40,273.95 L702.27,273.94 L703.14,273.93 L704.01,273.93 L704.88,273.92 L705.75,273.91 L706.62,273.90 L707.49,273.90 L708.36,273.89 L709.23,273.88 L710.10,273.87 L710.97,273.87 L711.84,273.86 L712.71,273.85 L713.58,273.84 L714.45,273.84 L715.32,273.83 L716.19,273.82 L717.06,273.81 L717.93,273.81 L718.80,273.80 L719.67,273.79 L720.54,273.78 L721.41,273.78 L722.28,273.77 L723.15,273.76 L724.02,273.75 L724.89,273.75 L725.76,273.74 L726.63,273.73 L727.50,273.72 L728.37,273.72 L729.24,273.71 L730.11,273.70 L730.98,273.69 L731.85,273.69 L732.72,273.68 L733.59,273.67 L734.46,273.66 L735.33,273.66 L736.20,273.65 L737.07,273.64 L737.94,273.63 L738.81,273.63 L739.68,273.62 L740.55,273.61 L741.42,273.60 L742.29,273.60 L743.16,273.59 L744.03,273.58 L744.90,273.57 L745.77,273.57 L746.64,273.56 L747.51,273.55 L748.38,273.54 L749.25,273.54 L750.12,273.53 L750.99,273.52 L751.86,273.51 L752.73,273.51 L753.60,273.50 L754.47,273.49 L755.34,273.48 L756.21,273.48 L757.08,273.47 L757.95,273.46 L758.82,273.45 L759.69,273.45 L760.56,273.44 L761.43,273.43 L762.30,273.42 L763.17,273.42 L764.04,273.41 L764.91,273.40 L765.78,273.39 L766.65,273.39 L767.52,273.38 L768.39,273.37 L769.26,273.36 L770.13,273.36 L771.00,273.35 L771.87,273.34 L772.74,273.33 L773.61,273.33 L774.48,273.32 L775.35,273.31 L776.22,273.30 L777.09,273.30 L777.96,273.29 L778.83,273.28 L779.70,273.27 L780.57,273.27 L781.44,273.26 L782.31,273.25 L783.18,273.24 L784.05,273.24 L784.92,273.23 L785.79,273.22 L786.66,273.21 L787.53,273.21 L788.40,273.20" fill="none" stroke="#aaa" stroke-width="0.7"/>
<path d="M670.08,354.15 L670.95,354.14 L671.82,354.12 L672.69,354.10 L673.56,354.09 L674.43,354.07 L675.30,354.05 L676.17,354.03 L677.04,354.01 L677.91,353.99 L678.78,353.97 L679.65,353.95 L680.52,353.93 L681.39,353.90 L682.26,353.88 L683.13,353.85 L684.00,353.82 L684.87,353.79 L685.74,353.76 L686.61,353.73 L687.48,353.70 L688.35,353.67 L689.22,353.63 L690.09,353.59 L690.96,353.56 L691.83,353.52 L692.70,353.48 L693.57,353.43 L694.44,353.39 L695.31,353.34 L696.18,353.30 L697.05,353.25 L697.92,353.20 L698.79,353.14 L699.66,353.09 L700.53,353.03 L701.40,352.98 L702.27,352.92 L703.14,352.86 L704.01,352.80 L704.88,352.74 L705.75,352.68 L706.62,352.61 L707.49,352.55 L708.36,352.48 L709.23,352.42 L710.10,352.35 L710.97,352.28 L711.84,352.21 L712.71,352.15 L713.58,352.08 L714.45,352.01 L715.32,351.94 L716.19,351.88 L717.06,351.81 L717.93,351.75 L718.80,351.68 L719.67,351.62 L720.54,351.56 L721.41,351.50 L722.28,351.44 L723.15,351.39 L724.02,351.33 L724.89,351.28 L725.76,351.23 L726.63,351.18 L727.50,351.14 L728.37,351.10 L729.24,351.06 L730.11,351.03 L730.98,351.00 L731.85,350.97 L732.72,350.94 L733.59,350.92 L734.46,350.90 L735.33,350.89 L736.20,350.87 L737.07,350.87 L737.94,350.86 L738.81,350.86 L739.68,350.86 L740.55,350.87 L741.42,350.88 L742.29,350.89 L743.16,350.91 L744.03,350.93 L744.90,350.95 L745.77,350.97 L746.64,351.00 L747.51,351.03 L748.38,351.06 L749.25,351.10 L750.12,351.14 L750.99,351.17 L751.86,351.21 L752.73,351.26 L753.60,351.30 L754.47,351.34 L755.34,351.39 L756.21,351.44 L757.08,351.48 L757.95,351.53 L758.82,351.58 L759.69,351.63 L760.56,351.68 L761.43,351.73 L762.30,351.77 L763.17,351.82 L764.04,351.87 L764.91,351.91 L765.78,351.96 L766.65,352.00 L767.52,352.05 L768.39,352.09 L769.26,352.13 L770.13,352.17 L771.00,352.21 L771.87,352.25 L772.74,352.28 L773.61,352.32 L774.48,352.35 L775.35,352.38 L776.22,352.41 L777.09,352.44 L777.96,352.47 L778.83,352.49 L779.70,352.52 L780.57,352.54 L781.44,352.56 L782.31,352.58 L783.18,352.60 L784.05,352.61 L784.92,352.63 L785.79,352.64 L786.66,352.65 L787.53,352.66 L788.40,352.67 L788.40,352.90 L787.53,352.91 L786.66,352.92 L785.79,352.93 L784.92,352.94 L784.05,352.95 L783.18,352.96 L782.31,352.97 L781.44,352.98 L780.57,352.99 L779.70,353.00 L778.83,353.01 L777.96,353.01 L777.09,353.02 L776.22,353.03 L775.35,353.04 L774.48,353.05 L773.61,353.06 L772.74,353.07 L771.87,353.08 L771.00,353.09 L770.13,353.10 L769.26,353.11 L768.39,353.12 L767.52,353.13 L766.65,353.14 L765.78,353.15 L764.91,353.16 L764.04,353.17 L763.17,353.18 L762.30,353.19 L761.43,353.20 L760.56,353.21 L759.69,353.22 L758.82,353.23 L757.95,353.24 L757.08,353.24 L756.21,353.25 L755.34,353.26 L754.47,353.27 L753.60,353.28 L752.73,353.29 L751.86,353.30 L750.99,353.31 L750.12,353.32 L749.25,353.33 L748.38,353.34 L747.51,353.35 L746.64,353.36 L745.77,353.37 L744.90,353.38 L744.03,353.39 L743.16,353.40 L742.29,353.41 L741.42,353.42 L740.55,353.43 L739.68,353.44 L738.81,353.45 L737.94,353.46 L737.07,353.47 L736.20,353.47 L735.33,353.48 L734.46,353.49 L733.59,353.50 L732.72,353.51 L731.85,353.52 L730.98,353.53 L730.11,353.54 L729.24,353.55 L728.37,353.56 L727.50,353.57 L726.63,353.58 L725.76,353.59 L724.89,353.60 L724.02,353.61 L723.15,353.62 L722.28,353.63 L721.41,353.64 L720.54,353.65 L719.67,353.66 L718.80,353.67 L717.93,353.68 L717.06,353.69 L716.19,353.70 L715.32,353.70 L714.45,353.71 L713.58,353.72 L712.71,353.73 L711.84,353.74 L710.97,353.75 L710.10,353.76 L709.23,353.77 L708.36,353.78 L707.49,353.79 L706.62,353.80 L705.75,353.81 L704.88,353.82 L704.01,353.83 L703.14,353.84 L702.27,353.85 L701.40,353.86 L700.53,353.87 L699.66,353.88 L698.79,353.89 L697.92,353.90 L697.05,353.91 L696.18,353.92 L695.31,353.93 L694.44,353.93 L693.57,353.94 L692.70,353.95 L691.83,353.96 L690.96,353.97 L690.09,353.98 L689.22,353.99 L688.35,354.00 L687.48,354.01 L686.61,354.02 L685.74,354.03 L684.87,354.04 L684.00,354.05 L683.13,354.06 L682.26,354.07 L681.39,354.08 L680.52,354.09 L679.65,354.10 L678.78,354.11 L677.91,354.12 L677.04,354.13 L676.17,354.14 L675.30,354.15 L674.43,354.16 L673.56,354.16 L672.69,354.17 L671.82,354.18 L670.95,354.19 L670.08,354.20 Z" fill="url(#gt)" stroke="none"/>
<path d="M670.08,354.15 L670.95,354.14 L671.82,354.12 L672.69,354.10 L673.56,354.09 L674.43,354.07 L675.30,354.05 L676.17,354.03 L677.04,354.01 L677.91,353.99 L678.78,353.97 L679.65,353.95 L680.52,353.93 L681.39,353.90 L682.26,353.88 L683.13,353.85 L684.00,353.82 L684.87,353.79 L685.74,353.76 L686.61,353.73 L687.48,353.70 L688.35,353.67 L689.22,353.63 L690.09,353.59 L690.96,353.56 L691.83,353.52 L692.70,353.48 L693.57,353.43 L694.44,353.39 L695.31,353.34 L696.18,353.30 L697.05,353.25 L697.92,353.20 L698.79,353.14 L699.66,353.09 L700.53,353.03 L701.40,352.98 L702.27,352.92 L703.14,352.86 L704.01,352.80 L704.88,352.74 L705.75,352.68 L706.62,352.61 L707.49,352.55 L708.36,352.48 L709.23,352.42 L710.10,352.35 L710.97,352.28 L711.84,352.21 L712.71,352.15 L713.58,352.08 L714.45,352.01 L715.32,351.94 L716.19,351.88 L717.06,351.81 L717.93,351.75 L718.80,351.68 L719.67,351.62 L720.54,351.56 L721.41,351.50 L722.28,351.44 L723.15,351.39 L724.02,351.33 L724.89,351.28 L725.76,351.23 L726.63,351.18 L727.50,351.14 L728.37,351.10 L729.24,351.06 L730.11,351.03 L730.98,351.00 L731.85,350.97 L732.72,350.94 L733.59,350.92 L734.46,350.90 L735.33,350.89 L736.20,350.87 L737.07,350.87 L737.94,350.86 L738.81,350.86 L739.68,350.86 L740.55,350.87 L741.42,350.88 L742.29,350.89 L743.16,350.91 L744.03,350.93 L744.90,350.95 L745.77,350.97 L746.64,351.00 L747.51,351.03 L748.38,351.06 L749.25,351.10 L750.12,351.14 L750.99,351.17 L751.86,351.21 L752.73,351.26 L753.60,351.30 L754.47,351.34 L755.34,351.39 L756.21,351.44 L757.08,351.48 L757.95,351.53 L758.82,351.58 L759.69,351.63 L760.56,351.68 L761.43,351.73 L762.30,351.77 L763.17,351.82 L764.04,351.87 L764.91,351.91 L765.78,351.96 L766.65,352.00 L767.52,352.05 L768.39,352.09 L769.26,352.13 L770.13,352.17 L771.00,352.21 L771.87,352.25 L772.74,352.28 L773.61,352.32 L774.48,352.35 L775.35,352.38 L776.22,352.41 L777.09,352.44 L777.96,352.47 L778.83,352.49 L779.70,352.52 L780.57,352.54 L781.44,352.56 L782.31,352.58 L783.18,352.60 L784.05,352.61 L784.92,352.63 L785.79,352.64 L786.66,352.65 L787.53,352.66 L788.40,352.67" fill="none" stroke="#2aa0a0" stroke-width="0.6"/>
<path d="M628.32,354.61 L629.19,354.60 L630.06,354.58 L630.93,354.56 L631.80,354.54 L632.67,354.52 L633.54,354.50 L634.41,354.47 L635.28,354.45 L636.15,354.42 L637.02,354.40 L637.89,354.37 L638.76,354.34 L639.63,354.30 L640.50,354.27 L641.37,354.23 L642.24,354.19 L643.11,354.15 L643.98,354.10 L644.85,354.05 L645.72,354.00 L646.59,353.95 L647.46,353.90 L648.33,353.84 L649.20,353.77 L650.07,353.71 L650.94,353.64 L651.81,353.57 L652.68,353.49 L653.55,353.42 L654.42,353.34 L655.29,353.25 L656.16,353.17 L657.03,353.08 L657.90,352.99 L658.77,352.89 L659.64,352.80 L660.51,352.70 L661.38,352.60 L662.25,352.50 L663.12,352.40 L663.99,352.29 L664.86,352.19 L665.73,352.09 L666.60,351.99 L667.47,351.88 L668.34,351.78 L669.21,351.68 L670.08,351.59 L670.95,351.49 L671.82,351.40 L672.69,351.32 L673.56,351.23 L674.43,351.15 L675.30,351.08 L676.17,351.01 L677.04,350.94 L677.91,350.88 L678.78,350.83 L679.65,350.78 L680.52,350.74 L681.39,350.71 L682.26,350.68 L683.13,350.66 L684.00,350.65 L684.87,350.64 L685.74,350.64 L686.61,350.65 L687.48,350.67 L688.35,350.69 L689.22,350.72 L690.09,350.75 L690.96,350.79 L691.83,350.83 L692.70,350.89 L693.57,350.94 L694.44,351.00 L695.31,351.07 L696.18,351.13 L697.05,351.21 L697.92,351.28 L698.79,351.36 L699.66,351.44 L700.53,351.52 L701.40,351.60 L702.27,351.69 L703.14,351.77 L704.01,351.85 L704.88,351.94 L705.75,352.02 L706.62,352.10 L707.49,352.18 L708.36,352.26 L709.23,352.34 L710.10,352.41 L710.97,352.48 L711.84,352.55 L712.71,352.62 L713.58,352.68 L714.45,352.75 L715.32,352.80 L716.19,352.86 L717.06,352.91 L717.93,352.96 L718.80,353.01 L719.67,353.05 L720.54,353.09 L721.41,353.13 L722.28,353.16 L723.15,353.19 L724.02,353.22 L724.89,353.25 L725.76,353.27 L726.63,353.29 L727.50,353.31 L728.37,353.33 L729.24,353.34 L730.11,353.35 L730.98,353.36 L731.85,353.37 L732.72,353.38 L733.59,353.38 L734.46,353.39 L735.33,353.39 L736.20,353.39 L737.07,353.39 L737.94,353.39 L738.81,353.39 L739.68,353.39 L739.68,353.44 L738.81,353.45 L737.94,353.46 L737.07,353.47 L736.20,353.47 L735.33,353.48 L734.46,353.49 L733.59,353.50 L732.72,353.51 L731.85,353.52 L730.98,353.53 L730.11,353.54 L729.24,353.55 L728.37,353.56 L727.50,353.57 L726.63,353.58 L725.76,353.59 L724.89,353.60 L724.02,353.61 L723.15,353.62 L722.28,353.63 L721.41,353.64 L720.54,353.65 L719.67,353.66 L718.80,353.67 L717.93,353.68 L717.06,353.69 L716.19,353.70 L715.32,353.70 L714.45,353.71 L713.58,353.72 L712.71,353.73 L711.84,353.74 L710.97,353.75 L710.10,353.76 L709.23,353.77 L708.36,353.78 L707.49,353.79 L706.62,353.80 L705.75,353.81 L704.88,353.82 L704.01,353.83 L703.14,353.84 L702.27,353.85 L701.40,353.86 L700.53,353.87 L699.66,353.88 L698.79,353.89 L697.92,353.90 L697.05,353.91 L696.18,353.92 L695.31,353.93 L694.44,353.93 L693.57,353.94 L692.70,353.95 L691.83,353.96 L690.96,353.97 L690.09,353.98 L689.22,353.99 L688.35,354.00 L687.48,354.01 L686.61,354.02 L685.74,354.03 L684.87,354.04 L684.00,354.05 L683.13,354.06 L682.26,354.07 L681.39,354.08 L680.52,354.09 L679.65,354.10 L678.78,354.11 L677.91,354.12 L677.04,354.13 L676.17,354.14 L675.30,354.15 L674.43,354.16 L673.56,354.16 L672.69,354.17 L671.82,354.18 L670.95,354.19 L670.08,354.20 L669.21,354.21 L668.34,354.22 L667.47,354.23 L666.60,354.24 L665.73,354.25 L664.86,354.26 L663.99,354.27 L663.12,354.28 L662.25,354.29 L661.38,354.30 L660.51,354.31 L659.64,354.32 L658.77,354.33 L657.90,354.34 L657.03,354.35 L656.16,354.36 L655.29,354.37 L654.42,354.38 L653.55,354.39 L652.68,354.39 L651.81,354.40 L650.94,354.41 L650.07,354.42 L649.20,354.43 L648.33,354.44 L647.46,354.45 L646.59,354.46 L645.72,354.47 L644.85,354.48 L643.98,354.49 L643.11,354.50 L642.24,354.51 L641.37,354.52 L640.50,354.53 L639.63,354.54 L638.76,354.55 L637.89,354.56 L637.02,354.57 L636.15,354.58 L635.28,354.59 L634.41,354.60 L633.54,354.61 L632.67,354.62 L631.80,354.62 L630.93,354.63 L630.06,354.64 L629.19,354.65 L628.32,354.66 Z" fill="url(#go)" stroke="none"/>
<path d="M628.32,354.61 L629.19,354.60 L630.06,354.58 L630.93,354.56 L631.80,354.54 L632.67,354.52 L633.54,354.50 L634.41,354.47 L635.28,354.45 L636.15,354.42 L637.02,354.40 L637.89,354.37 L638.76,354.34 L639.63,354.30 L640.50,354.27 L641.37,354.23 L642.24,354.19 L643.11,354.15 L643.98,354.10 L644.85,354.05 L645.72,354.00 L646.59,353.95 L647.46,353.90 L648.33,353.84 L649.20,353.77 L650.07,353.71 L650.94,353.64 L651.81,353.57 L652.68,353.49 L653.55,353.42 L654.42,353.34 L655.29,353.25 L656.16,353.17 L657.03,353.08 L657.90,352.99 L658.77,352.89 L659.64,352.80 L660.51,352.70 L661.38,352.60 L662.25,352.50 L663.12,352.40 L663.99,352.29 L664.86,352.19 L665.73,352.09 L666.60,351.99 L667.47,351.88 L668.34,351.78 L669.21,351.68 L670.08,351.59 L670.95,351.49 L671.82,351.40 L672.69,351.32 L673.56,351.23 L674.43,351.15 L675.30,351.08 L676.17,351.01 L677.04,350.94 L677.91,350.88 L678.78,350.83 L679.65,350.78 L680.52,350.74 L681.39,350.71 L682.26,350.68 L683.13,350.66 L684.00,350.65 L684.87,350.64 L685.74,350.64 L686.61,350.65 L687.48,350.67 L688.35,350.69 L689.22,350.72 L690.09,350.75 L690.96,350.79 L691.83,350.83 L692.70,350.89 L693.57,350.94 L694.44,351.00 L695.31,351.07 L696.18,351.13 L697.05,351.21 L697.92,351.28 L698.79,351.36 L699.66,351.44 L700.53,351.52 L701.40,351.60 L702.27,351.69 L703.14,351.77 L704.01,351.85 L704.88,351.94 L705.75,352.02 L706.62,352.10 L707.49,352.18 L708.36,352.26 L709.23,352.34 L710.10,352.41 L710.97,352.48 L711.84,352.55 L712.71,352.62 L713.58,352.68 L714.45,352.75 L715.32,352.80 L716.19,352.86 L717.06,352.91 L717.93,352.96 L718.80,353.01 L719.67,353.05 L720.54,353.09 L721.41,353.13 L722.28,353.16 L723.15,353.19 L724.02,353.22 L724.89,353.25 L725.76,353.27 L726.63,353.29 L727.50,353.31 L728.37,353.33 L729.24,353.34 L730.11,353.35 L730.98,353.36 L731.85,353.37 L732.72,353.38 L733.59,353.38 L734.46,353.39 L735.33,353.39 L736.20,353.39 L737.07,353.39 L737.94,353.39 L738.81,353.39 L739.68,353.39" fill="none" stroke="#e86020" stroke-width="0.6"/>
<path d="M605.70,354.85 L606.57,354.80 L607.44,354.73 L608.31,354.62 L609.18,354.45 L610.05,354.20 L610.92,353.84 L611.79,353.33 L612.66,352.63 L613.53,351.67 L614.40,350.40 L615.27,348.76 L616.14,346.70 L617.01,344.17 L617.88,341.16 L618.75,337.67 L619.62,333.76 L620.49,329.50 L621.36,325.04 L622.23,320.54 L623.10,316.20 L623.97,312.25 L624.84,308.89 L625.71,306.33 L626.58,304.73 L627.45,304.17 L628.32,304.64 L629.19,306.02 L630.06,308.22 L630.93,311.11 L631.80,314.52 L632.67,318.27 L633.54,322.20 L634.41,326.16 L635.28,330.01 L636.15,333.65 L637.02,337.00 L637.89,340.00 L638.76,342.64 L639.63,344.90 L640.50,346.80 L641.37,348.36 L642.24,349.62 L643.11,350.62 L643.98,351.41 L644.85,352.01 L645.72,352.47 L646.59,352.81 L647.46,353.07 L648.33,353.26 L649.20,353.40 L650.07,353.51 L650.94,353.59 L651.81,353.66 L652.68,353.71 L653.55,353.75 L654.42,353.78 L655.29,353.81 L656.16,353.83 L657.03,353.85 L657.90,353.87 L658.77,353.88 L659.64,353.89 L660.51,353.91 L661.38,353.92 L662.25,353.92 L663.12,353.93 L663.99,353.94 L664.86,353.94 L665.73,353.95 L666.60,353.95 L667.47,353.95 L668.34,353.95 L669.21,353.96 L670.08,353.96 L670.95,353.96 L671.82,353.96 L672.69,353.95 L673.56,353.95 L674.43,353.95 L675.30,353.95 L676.17,353.95 L677.04,353.94 L677.91,353.94 L678.78,353.94 L679.65,353.93 L680.52,353.93 L681.39,353.92 L682.26,353.92 L683.13,353.91 L684.00,353.91 L684.87,353.90 L685.74,353.90 L686.61,353.89 L687.48,353.88 L688.35,353.88 L689.22,353.87 L690.09,353.87 L690.96,353.86 L691.83,353.85 L692.70,353.85 L693.57,353.84 L694.44,353.83 L695.31,353.83 L696.18,353.82 L697.05,353.81 L697.92,353.80 L698.79,353.80 L699.66,353.79 L700.53,353.78 L701.40,353.77 L702.27,353.77 L703.14,353.76 L704.01,353.75 L704.88,353.74 L705.75,353.74 L706.62,353.73 L707.49,353.72 L708.36,353.71 L709.23,353.70 L710.10,353.70 L710.97,353.69 L711.84,353.68 L712.71,353.67 L713.58,353.66 L714.45,353.65 L715.32,353.65 L716.19,353.64 L717.06,353.63 L717.93,353.62 L718.80,353.61 L719.67,353.60 L720.54,353.59 L721.41,353.59 L722.28,353.58 L723.15,353.57 L723.15,353.62 L722.28,353.63 L721.41,353.64 L720.54,353.65 L719.67,353.66 L718.80,353.67 L717.93,353.68 L717.06,353.69 L716.19,353.70 L715.32,353.70 L714.45,353.71 L713.58,353.72 L712.71,353.73 L711.84,353.74 L710.97,353.75 L710.10,353.76 L709.23,353.77 L708.36,353.78 L707.49,353.79 L706.62,353.80 L705.75,353.81 L704.88,353.82 L704.01,353.83 L703.14,353.84 L702.27,353.85 L701.40,353.86 L700.53,353.87 L699.66,353.88 L698.79,353.89 L697.92,353.90 L697.05,353.91 L696.18,353.92 L695.31,353.93 L694.44,353.93 L693.57,353.94 L692.70,353.95 L691.83,353.96 L690.96,353.97 L690.09,353.98 L689.22,353.99 L688.35,354.00 L687.48,354.01 L686.61,354.02 L685.74,354.03 L684.87,354.04 L684.00,354.05 L683.13,354.06 L682.26,354.07 L681.39,354.08 L680.52,354.09 L679.65,354.10 L678.78,354.11 L677.91,354.12 L677.04,354.13 L676.17,354.14 L675.30,354.15 L674.43,354.16 L673.56,354.16 L672.69,354.17 L671.82,354.18 L670.95,354.19 L670.08,354.20 L669.21,354.21 L668.34,354.22 L667.47,354.23 L666.60,354.24 L665.73,354.25 L664.86,354.26 L663.99,354.27 L663.12,354.28 L662.25,354.29 L661.38,354.30 L660.51,354.31 L659.64,354.32 L658.77,354.33 L657.90,354.34 L657.03,354.35 L656.16,354.36 L655.29,354.37 L654.42,354.38 L653.55,354.39 L652.68,354.39 L651.81,354.40 L650.94,354.41 L650.07,354.42 L649.20,354.43 L648.33,354.44 L647.46,354.45 L646.59,354.46 L645.72,354.47 L644.85,354.48 L643.98,354.49 L643.11,354.50 L642.24,354.51 L641.37,354.52 L640.50,354.53 L639.63,354.54 L638.76,354.55 L637.89,354.56 L637.02,354.57 L636.15,354.58 L635.28,354.59 L634.41,354.60 L633.54,354.61 L632.67,354.62 L631.80,354.62 L630.93,354.63 L630.06,354.64 L629.19,354.65 L628.32,354.66 L627.45,354.67 L626.58,354.68 L625.71,354.69 L624.84,354.70 L623.97,354.71 L623.10,354.72 L622.23,354.73 L621.36,354.74 L620.49,354.75 L619.62,354.76 L618.75,354.77 L617.88,354.78 L617.01,354.79 L616.14,354.80 L615.27,354.81 L614.40,354.82 L613.53,354.83 L612.66,354.84 L611.79,354.85 L610.92,354.85 L610.05,354.86 L609.18,354.87 L608.31,354.88 L607.44,354.89 L606.57,354.90 L605.70,354.91 Z" fill="url(#gr)" stroke="none"/>
<path d="M605.70,354.85 L606.57,354.80 L607.44,354.73 L608.31,354.62 L609.18,354.45 L610.05,354.20 L610.92,353.84 L611.79,353.33 L612.66,352.63 L613.53,351.67 L614.40,350.40 L615.27,348.76 L616.14,346.70 L617.01,344.17 L617.88,341.16 L618.75,337.67 L619.62,333.76 L620.49,329.50 L621.36,325.04 L622.23,320.54 L623.10,316.20 L623.97,312.25 L624.84,308.89 L625.71,306.33 L626.58,304.73 L627.45,304.17 L628.32,304.64 L629.19,306.02 L630.06,308.22 L630.93,311.11 L631.80,314.52 L632.67,318.27 L633.54,322.20 L634.41,326.16 L635.28,330.01 L636.15,333.65 L637.02,337.00 L637.89,340.00 L638.76,342.64 L639.63,344.90 L640.50,346.80 L641.37,348.36 L642.24,349.62 L643.11,350.62 L643.98,351.41 L644.85,352.01 L645.72,352.47 L646.59,352.81 L647.46,353.07 L648.33,353.26 L649.20,353.40 L650.07,353.51 L650.94,353.59 L651.81,353.66 L652.68,353.71 L653.55,353.75 L654.42,353.78 L655.29,353.81 L656.16,353.83 L657.03,353.85 L657.90,353.87 L658.77,353.88 L659.64,353.89 L660.51,353.91 L661.38,353.92 L662.25,353.92 L663.12,353.93 L663.99,353.94 L664.86,353.94 L665.73,353.95 L666.60,353.95 L667.47,353.95 L668.34,353.95 L669.21,353.96 L670.08,353.96 L670.95,353.96 L671.82,353.96 L672.69,353.95 L673.56,353.95 L674.43,353.95 L675.30,353.95 L676.17,353.95 L677.04,353.94 L677.91,353.94 L678.78,353.94 L679.65,353.93 L680.52,353.93 L681.39,353.92 L682.26,353.92 L683.13,353.91 L684.00,353.91 L684.87,353.90 L685.74,353.90 L686.61,353.89 L687.48,353.88 L688.35,353.88 L689.22,353.87 L690.09,353.87 L690.96,353.86 L691.83,353.85 L692.70,353.85 L693.57,353.84 L694.44,353.83 L695.31,353.83 L696.18,353.82 L697.05,353.81 L697.92,353.80 L698.79,353.80 L699.66,353.79 L700.53,353.78 L701.40,353.77 L702.27,353.77 L703.14,353.76 L704.01,353.75 L704.88,353.74 L705.75,353.74 L706.62,353.73 L707.49,353.72 L708.36,353.71 L709.23,353.70 L710.10,353.70 L710.97,353.69 L711.84,353.68 L712.71,353.67 L713.58,353.66 L714.45,353.65 L715.32,353.65 L716.19,353.64 L717.06,353.63 L717.93,353.62 L718.80,353.61 L719.67,353.60 L720.54,353.59 L721.41,353.59 L722.28,353.58 L723.15,353.57" fill="none" stroke="#d84040" stroke-width="0.6"/>
<path d="M603.09,354.88 L603.96,354.85 L604.83,354.83 L605.70,354.79 L606.57,354.76 L607.44,354.71 L608.31,354.66 L609.18,354.60 L610.05,354.54 L610.92,354.46 L611.79,354.37 L612.66,354.27 L613.53,354.15 L614.40,354.02 L615.27,353.86 L616.14,353.69 L617.01,353.50 L617.88,353.29 L618.75,353.05 L619.62,352.79 L620.49,352.51 L621.36,352.19 L622.23,351.85 L623.10,351.49 L623.97,351.10 L624.84,350.68 L625.71,350.24 L626.58,349.78 L627.45,349.31 L628.32,348.81 L629.19,348.31 L630.06,347.80 L630.93,347.29 L631.80,346.78 L632.67,346.28 L633.54,345.80 L634.41,345.33 L635.28,344.89 L636.15,344.49 L637.02,344.12 L637.89,343.79 L638.76,343.51 L639.63,343.28 L640.50,343.10 L641.37,342.98 L642.24,342.91 L643.11,342.91 L643.98,342.97 L644.85,343.08 L645.72,343.25 L646.59,343.47 L647.46,343.74 L648.33,344.06 L649.20,344.42 L650.07,344.81 L650.94,345.24 L651.81,345.69 L652.68,346.16 L653.55,346.64 L654.42,347.13 L655.29,347.62 L656.16,348.11 L657.03,348.60 L657.90,349.07 L658.77,349.52 L659.64,349.96 L660.51,350.37 L661.38,350.76 L662.25,351.13 L663.12,351.47 L663.99,351.79 L664.86,352.07 L665.73,352.34 L666.60,352.57 L667.47,352.79 L668.34,352.98 L669.21,353.14 L670.08,353.29 L670.95,353.42 L671.82,353.53 L672.69,353.62 L673.56,353.70 L674.43,353.77 L675.30,353.83 L676.17,353.88 L677.04,353.91 L677.91,353.94 L678.78,353.97 L679.65,353.98 L680.52,354.00 L681.39,354.01 L682.26,354.01 L682.26,354.07 L681.39,354.08 L680.52,354.09 L679.65,354.10 L678.78,354.11 L677.91,354.12 L677.04,354.13 L676.17,354.14 L675.30,354.15 L674.43,354.16 L673.56,354.16 L672.69,354.17 L671.82,354.18 L670.95,354.19 L670.08,354.20 L669.21,354.21 L668.34,354.22 L667.47,354.23 L666.60,354.24 L665.73,354.25 L664.86,354.26 L663.99,354.27 L663.12,354.28 L662.25,354.29 L661.38,354.30 L660.51,354.31 L659.64,354.32 L658.77,354.33 L657.90,354.34 L657.03,354.35 L656.16,354.36 L655.29,354.37 L654.42,354.38 L653.55,354.39 L652.68,354.39 L651.81,354.40 L650.94,354.41 L650.07,354.42 L649.20,354.43 L648.33,354.44 L647.46,354.45 L646.59,354.46 L645.72,354.47 L644.85,354.48 L643.98,354.49 L643.11,354.50 L642.24,354.51 L641.37,354.52 L640.50,354.53 L639.63,354.54 L638.76,354.55 L637.89,354.56 L637.02,354.57 L636.15,354.58 L635.28,354.59 L634.41,354.60 L633.54,354.61 L632.67,354.62 L631.80,354.62 L630.93,354.63 L630.06,354.64 L629.19,354.65 L628.32,354.66 L627.45,354.67 L626.58,354.68 L625.71,354.69 L624.84,354.70 L623.97,354.71 L623.10,354.72 L622.23,354.73 L621.36,354.74 L620.49,354.75 L619.62,354.76 L618.75,354.77 L617.88,354.78 L617.01,354.79 L616.14,354.80 L615.27,354.81 L614.40,354.82 L613.53,354.83 L612.66,354.84 L611.79,354.85 L610.92,354.85 L610.05,354.86 L609.18,354.87 L608.31,354.88 L607.44,354.89 L606.57,354.90 L605.70,354.91 L604.83,354.92 L603.96,354.93 L603.09,354.94 Z" fill="url(#gb)" stroke="none"/>
<path d="M603.09,354.88 L603.96,354.85 L604.83,354.83 L605.70,354.79 L606.57,354.76 L607.44,354.71 L608.31,354.66 L609.18,354.60 L610.05,354.54 L610.92,354.46 L611.79,354.37 L612.66,354.27 L613.53,354.15 L614.40,354.02 L615.27,353.86 L616.14,353.69 L617.01,353.50 L617.88,353.29 L618.75,353.05 L619.62,352.79 L620.49,352.51 L621.36,352.19 L622.23,351.85 L623.10,351.49 L623.97,351.10 L624.84,350.68 L625.71,350.24 L626.58,349.78 L627.45,349.31 L628.32,348.81 L629.19,348.31 L630.06,347.80 L630.93,347.29 L631.80,346.78 L632.67,346.28 L633.54,345.80 L634.41,345.33 L635.28,344.89 L636.15,344.49 L637.02,344.12 L637.89,343.79 L638.76,343.51 L639.63,343.28 L640.50,343.10 L641.37,342.98 L642.24,342.91 L643.11,342.91 L643.98,342.97 L644.85,343.08 L645.72,343.25 L646.59,343.47 L647.46,343.74 L648.33,344.06 L649.20,344.42 L650.07,344.81 L650.94,345.24 L651.81,345.69 L652.68,346.16 L653.55,346.64 L654.42,347.13 L655.29,347.62 L656.16,348.11 L657.03,348.60 L657.90,349.07 L658.77,349.52 L659.64,349.96 L660.51,350.37 L661.38,350.76 L662.25,351.13 L663.12,351.47 L663.99,351.79 L664.86,352.07 L665.73,352.34 L666.60,352.57 L667.47,352.79 L668.34,352.98 L669.21,353.14 L670.08,353.29 L670.95,353.42 L671.82,353.53 L672.69,353.62 L673.56,353.70 L674.43,353.77 L675.30,353.83 L676.17,353.88 L677.04,353.91 L677.91,353.94 L678.78,353.97 L679.65,353.98 L680.52,354.00 L681.39,354.01 L682.26,354.01" fill="none" stroke="#2a5cd0" stroke-width="0.6"/>
<path d="M579.60,355.20 L580.47,355.19 L581.34,355.18 L582.21,355.17 L583.08,355.16 L583.95,355.15 L584.82,355.14 L585.69,355.13 L586.56,355.12 L587.43,355.11 L588.30,355.10 L589.17,355.09 L590.04,355.08 L590.91,355.07 L591.78,355.06 L592.65,355.05 L593.52,355.04 L594.39,355.03 L595.26,355.02 L596.13,355.01 L597.00,355.00 L597.87,354.98 L598.74,354.97 L599.61,354.96 L600.48,354.94 L601.35,354.92 L602.22,354.90 L603.09,354.87 L603.96,354.84 L604.83,354.79 L605.70,354.73 L606.57,354.66 L607.44,354.55 L608.31,354.39 L609.18,354.18 L610.05,353.87 L610.92,353.44 L611.79,352.85 L612.66,352.05 L613.53,350.99 L614.40,349.60 L615.27,347.81 L616.14,345.59 L617.01,342.88 L617.88,339.66 L618.75,335.95 L619.62,331.78 L620.49,327.24 L621.36,322.47 L622.23,317.64 L623.10,312.94 L623.97,308.61 L624.84,304.84 L625.71,301.85 L626.58,299.79 L627.45,298.76 L628.32,298.74 L629.19,299.62 L630.06,301.32 L630.93,303.69 L631.80,306.59 L632.67,309.84 L633.54,313.29 L634.41,316.77 L635.28,320.18 L636.15,323.41 L637.02,326.37 L637.89,329.04 L638.76,331.38 L639.63,333.40 L640.50,335.10 L641.37,336.53 L642.24,337.70 L643.11,338.68 L643.98,339.49 L644.85,340.18 L645.72,340.78 L646.59,341.31 L647.46,341.80 L648.33,342.27 L649.20,342.73 L650.07,343.18 L650.94,343.64 L651.81,344.10 L652.68,344.57 L653.55,345.03 L654.42,345.49 L655.29,345.94 L656.16,346.39 L657.03,346.82 L657.90,347.23 L658.77,347.63 L659.64,348.00 L660.51,348.34 L661.38,348.66 L662.25,348.95 L663.12,349.22 L663.99,349.45 L664.86,349.66 L665.73,349.84 L666.60,349.99 L667.47,350.12 L668.34,350.23 L669.21,350.31 L670.08,350.38 L670.95,350.42 L671.82,350.46 L672.69,350.47 L673.56,350.48 L674.43,350.48 L675.30,350.47 L676.17,350.45 L677.04,350.43 L677.91,350.41 L678.78,350.38 L679.65,350.35 L680.52,350.33 L681.39,350.30 L682.26,350.28 L683.13,350.26 L684.00,350.24 L684.87,350.23 L685.74,350.22 L686.61,350.22 L687.48,350.22 L688.35,350.22 L689.22,350.23 L690.09,350.24 L690.96,350.25 L691.83,350.27 L692.70,350.30 L693.57,350.32 L694.44,350.35 L695.31,350.38 L696.18,350.42 L697.05,350.45 L697.92,350.49 L698.79,350.52 L699.66,350.56 L700.53,350.60 L701.40,350.64 L702.27,350.67 L703.14,350.71 L704.01,350.75 L704.88,350.78 L705.75,350.81 L706.62,350.84 L707.49,350.87 L708.36,350.89 L709.23,350.91 L710.10,350.93 L710.97,350.95 L711.84,350.96 L712.71,350.97 L713.58,350.98 L714.45,350.98 L715.32,350.98 L716.19,350.98 L717.06,350.98 L717.93,350.98 L718.80,350.97 L719.67,350.96 L720.54,350.95 L721.41,350.94 L722.28,350.92 L723.15,350.91 L724.02,350.89 L724.89,350.88 L725.76,350.86 L726.63,350.85 L727.50,350.83 L728.37,350.82 L729.24,350.80 L730.11,350.79 L730.98,350.78 L731.85,350.77 L732.72,350.76 L733.59,350.76 L734.46,350.75 L735.33,350.75 L736.20,350.75 L737.07,350.75 L737.94,350.76 L738.81,350.77 L739.68,350.78 L740.55,350.79 L741.42,350.81 L742.29,350.82 L743.16,350.84 L744.03,350.87 L744.90,350.89 L745.77,350.92 L746.64,350.95 L747.51,350.98 L748.38,351.02 L749.25,351.06 L750.12,351.10 L750.99,351.14 L751.86,351.18 L752.73,351.22 L753.60,351.27 L754.47,351.31 L755.34,351.36 L756.21,351.41 L757.08,351.45 L757.95,351.50 L758.82,351.55 L759.69,351.60 L760.56,351.65 L761.43,351.70 L762.30,351.75 L763.17,351.80 L764.04,351.84 L764.91,351.89 L765.78,351.94 L766.65,351.98 L767.52,352.02 L768.39,352.07 L769.26,352.11 L770.13,352.15 L771.00,352.19 L771.87,352.23 L772.74,352.26 L773.61,352.30 L774.48,352.33 L775.35,352.36 L776.22,352.39 L777.09,352.42 L777.96,352.45 L778.83,352.47 L779.70,352.50 L780.57,352.52 L781.44,352.54 L782.31,352.56 L783.18,352.58 L784.05,352.59 L784.92,352.61 L785.79,352.62 L786.66,352.63 L787.53,352.65 L788.40,352.65" fill="none" stroke="#8a8a8a" stroke-width="0.9"/>
<path d="M579.60,355.20 L580.47,355.19 L581.34,355.18 L582.21,355.17 L583.08,355.16 L583.95,355.15 L584.82,355.14 L585.69,355.13 L586.56,355.12 L587.43,355.11 L588.30,355.10 L589.17,355.09 L590.04,355.08 L590.91,355.08 L591.78,355.07 L592.65,355.06 L593.52,355.05 L594.39,355.04 L595.26,355.03 L596.13,355.02 L597.00,355.01 L597.87,355.00 L598.74,354.99 L599.61,354.98 L600.48,354.97 L601.35,354.96 L602.22,354.95 L603.09,354.94 L603.96,354.93 L604.83,354.92 L605.70,354.91 L606.57,354.90 L607.44,354.89 L608.31,354.88 L609.18,354.87 L610.05,354.86 L610.92,354.85 L611.79,354.85 L612.66,354.84 L613.53,354.83 L614.40,354.82 L615.27,354.81 L616.14,354.80 L617.01,354.79 L617.88,354.78 L618.75,354.77 L619.62,354.76 L620.49,354.75 L621.36,354.74 L622.23,354.73 L623.10,354.72 L623.97,354.71 L624.84,354.70 L625.71,354.69 L626.58,354.68 L627.45,354.67 L628.32,354.66 L629.19,354.65 L630.06,354.64 L630.93,354.63 L631.80,354.62 L632.67,354.62 L633.54,354.61 L634.41,354.60 L635.28,354.59 L636.15,354.58 L637.02,354.57 L637.89,354.56 L638.76,354.55 L639.63,354.54 L640.50,354.53 L641.37,354.52 L642.24,354.51 L643.11,354.50 L643.98,354.49 L644.85,354.48 L645.72,354.47 L646.59,354.46 L647.46,354.45 L648.33,354.44 L649.20,354.43 L650.07,354.42 L650.94,354.41 L651.81,354.40 L652.68,354.39 L653.55,354.39 L654.42,354.38 L655.29,354.37 L656.16,354.36 L657.03,354.35 L657.90,354.34 L658.77,354.33 L659.64,354.32 L660.51,354.31 L661.38,354.30 L662.25,354.29 L663.12,354.28 L663.99,354.27 L664.86,354.26 L665.73,354.25 L666.60,354.24 L667.47,354.23 L668.34,354.22 L669.21,354.21 L670.08,354.20 L670.95,354.19 L671.82,354.18 L672.69,354.17 L673.56,354.16 L674.43,354.16 L675.30,354.15 L676.17,354.14 L677.04,354.13 L677.91,354.12 L678.78,354.11 L679.65,354.10 L680.52,354.09 L681.39,354.08 L682.26,354.07 L683.13,354.06 L684.00,354.05 L684.87,354.04 L685.74,354.03 L686.61,354.02 L687.48,354.01 L688.35,354.00 L689.22,353.99 L690.09,353.98 L690.96,353.97 L691.83,353.96 L692.70,353.95 L693.57,353.94 L694.44,353.93 L695.31,353.93 L696.18,353.92 L697.05,353.91 L697.92,353.90 L698.79,353.89 L699.66,353.88 L700.53,353.87 L701.40,353.86 L702.27,353.85 L703.14,353.84 L704.01,353.83 L704.88,353.82 L705.75,353.81 L706.62,353.80 L707.49,353.79 L708.36,353.78 L709.23,353.77 L710.10,353.76 L710.97,353.75 L711.84,353.74 L712.71,353.73 L713.58,353.72 L714.45,353.71 L715.32,353.70 L716.19,353.70 L717.06,353.69 L717.93,353.68 L718.80,353.67 L719.67,353.66 L720.54,353.65 L721.41,353.64 L722.28,353.63 L723.15,353.62 L724.02,353.61 L724.89,353.60 L725.76,353.59 L726.63,353.58 L727.50,353.57 L728.37,353.56 L729.24,353.55 L730.11,353.54 L730.98,353.53 L731.85,353.52 L732.72,353.51 L733.59,353.50 L734.46,353.49 L735.33,353.48 L736.20,353.47 L737.07,353.47 L737.94,353.46 L738.81,353.45 L739.68,353.44 L740.55,353.43 L741.42,353.42 L742.29,353.41 L743.16,353.40 L744.03,353.39 L744.90,353.38 L745.77,353.37 L746.64,353.36 L747.51,353.35 L748.38,353.34 L749.25,353.33 L750.12,353.32 L750.99,353.31 L751.86,353.30 L752.73,353.29 L753.60,353.28 L754.47,353.27 L755.34,353.26 L756.21,353.25 L757.08,353.24 L757.95,353.24 L758.82,353.23 L759.69,353.22 L760.56,353.21 L761.43,353.20 L762.30,353.19 L763.17,353.18 L764.04,353.17 L764.91,353.16 L765.78,353.15 L766.65,353.14 L767.52,353.13 L768.39,353.12 L769.26,353.11 L770.13,353.10 L771.00,353.09 L771.87,353.08 L772.74,353.07 L773.61,353.06 L774.48,353.05 L775.35,353.04 L776.22,353.03 L777.09,353.02 L777.96,353.01 L778.83,353.01 L779.70,353.00 L780.57,352.99 L781.44,352.98 L782.31,352.97 L783.18,352.96 L784.05,352.95 L784.92,352.94 L785.79,352.93 L786.66,352.92 L787.53,352.91 L788.40,352.90" fill="none" stroke="#aaa" stroke-width="0.7"/>
<line x1="629.5" y1="221.0" x2="637.5" y2="216.0" stroke="#000" stroke-width="1.0"/>
<path d="M638.52,215.36 L634.74,220.08 L632.62,216.69 Z" fill="#000"/>
<line x1="644.5" y1="265.3" x2="653.8" y2="259.6" stroke="#000" stroke-width="1.0"/>
<path d="M654.82,258.97 L651.01,263.66 L648.92,260.25 Z" fill="#000"/>
<line x1="629.5" y1="302.8" x2="637.5" y2="297.6" stroke="#000" stroke-width="1.0"/>
<path d="M638.51,296.95 L634.82,301.73 L632.64,298.38 Z" fill="#000"/>
<line x1="645.0" y1="342.0" x2="654.5" y2="336.0" stroke="#000" stroke-width="1.0"/>
<path d="M655.51,335.36 L651.76,340.09 L649.63,336.71 Z" fill="#000"/>
<text x="639.6" y="218.2" font-size="10" text-anchor="start" fill="#222" stroke="#222" stroke-width="0.25" >C-C</text>
<text x="655.6" y="260.4" font-size="10" text-anchor="start" fill="#222" stroke="#222" stroke-width="0.25" >C-O</text>
<text x="684.4" y="269.0" font-size="10" text-anchor="start" fill="#222" stroke="#222" stroke-width="0.25" >C=O</text>
<text x="731.2" y="269.0" font-size="10.2" text-anchor="start" fill="#222" stroke="#222" stroke-width="0.25" >O-C=O</text>
<text x="784.8" y="218.9" font-size="10.1" text-anchor="end" fill="#222" stroke="#222" stroke-width="0.25" >F-LIG-190V</text>
<text x="639.9" y="300.9" font-size="10" text-anchor="start" fill="#222" stroke="#222" stroke-width="0.25" >C-C</text>
<text x="656.2" y="337.1" font-size="10" text-anchor="start" fill="#222" stroke="#222" stroke-width="0.25" >C-O</text>
<text x="683.4" y="348.2" font-size="10" text-anchor="start" fill="#222" stroke="#222" stroke-width="0.25" >C=O</text>
<text x="723.4" y="349.3" font-size="10" text-anchor="start" fill="#222" stroke="#222" stroke-width="0.25" >O-C=O</text>
<text x="779.6" y="300.3" font-size="10" text-anchor="end" fill="#222" stroke="#222" stroke-width="0.25" >LIG</text>
<rect x="579.6" y="205.5" width="208.79999999999995" height="159.8" fill="none" stroke="#5e5e5e" stroke-width="1.5"/>
<line x1="579.6" y1="285.3" x2="788.4" y2="285.3" stroke="#5e5e5e" stroke-width="1.5"/>
<line x1="579.60" y1="365.3" x2="579.60" y2="367.8" stroke="#5e5e5e" stroke-width="1.5"/>
<line x1="597.00" y1="365.3" x2="597.00" y2="366.8" stroke="#5e5e5e" stroke-width="1.5"/>
<line x1="614.40" y1="365.3" x2="614.40" y2="367.8" stroke="#5e5e5e" stroke-width="1.5"/>
<line x1="631.80" y1="365.3" x2="631.80" y2="366.8" stroke="#5e5e5e" stroke-width="1.5"/>
<line x1="649.20" y1="365.3" x2="649.20" y2="367.8" stroke="#5e5e5e" stroke-width="1.5"/>
<line x1="666.60" y1="365.3" x2="666.60" y2="366.8" stroke="#5e5e5e" stroke-width="1.5"/>
<line x1="684.00" y1="365.3" x2="684.00" y2="367.8" stroke="#5e5e5e" stroke-width="1.5"/>
<line x1="701.40" y1="365.3" x2="701.40" y2="366.8" stroke="#5e5e5e" stroke-width="1.5"/>
<line x1="718.80" y1="365.3" x2="718.80" y2="367.8" stroke="#5e5e5e" stroke-width="1.5"/>
<line x1="736.20" y1="365.3" x2="736.20" y2="366.8" stroke="#5e5e5e" stroke-width="1.5"/>
<line x1="753.60" y1="365.3" x2="753.60" y2="367.8" stroke="#5e5e5e" stroke-width="1.5"/>
<line x1="771.00" y1="365.3" x2="771.00" y2="366.8" stroke="#5e5e5e" stroke-width="1.5"/>
<line x1="788.40" y1="365.3" x2="788.40" y2="367.8" stroke="#5e5e5e" stroke-width="1.5"/>
<text x="579.60" y="378.7" font-size="11" text-anchor="middle" fill="#222" stroke="#222" stroke-width="0.25" >282</text>
<text x="614.40" y="378.7" font-size="11" text-anchor="middle" fill="#222" stroke="#222" stroke-width="0.25" >284</text>
<text x="649.20" y="378.7" font-size="11" text-anchor="middle" fill="#222" stroke="#222" stroke-width="0.25" >286</text>
<text x="684.00" y="378.7" font-size="11" text-anchor="middle" fill="#222" stroke="#222" stroke-width="0.25" >288</text>
<text x="718.80" y="378.7" font-size="11" text-anchor="middle" fill="#222" stroke="#222" stroke-width="0.25" >290</text>
<text x="753.60" y="378.7" font-size="11" text-anchor="middle" fill="#222" stroke="#222" stroke-width="0.25" >292</text>
<text x="788.40" y="378.7" font-size="11" text-anchor="middle" fill="#222" stroke="#222" stroke-width="0.25" >294</text>
<text x="684.5" y="392.4" font-size="11.6" text-anchor="middle" fill="#222" stroke="#222" stroke-width="0.25" >Binding energy (eV)</text>
<text transform="translate(572.2,289.6) rotate(-90)" x="0" y="0" font-size="11.5" text-anchor="middle" fill="#222" stroke="#222" stroke-width="0.25">Intensity (arb. units)</text>
<text x="558.0" y="212.8" font-size="19.8" font-weight="bold" fill="#000" stroke="#000" stroke-width="0.25">f</text>
</svg></body></html>
